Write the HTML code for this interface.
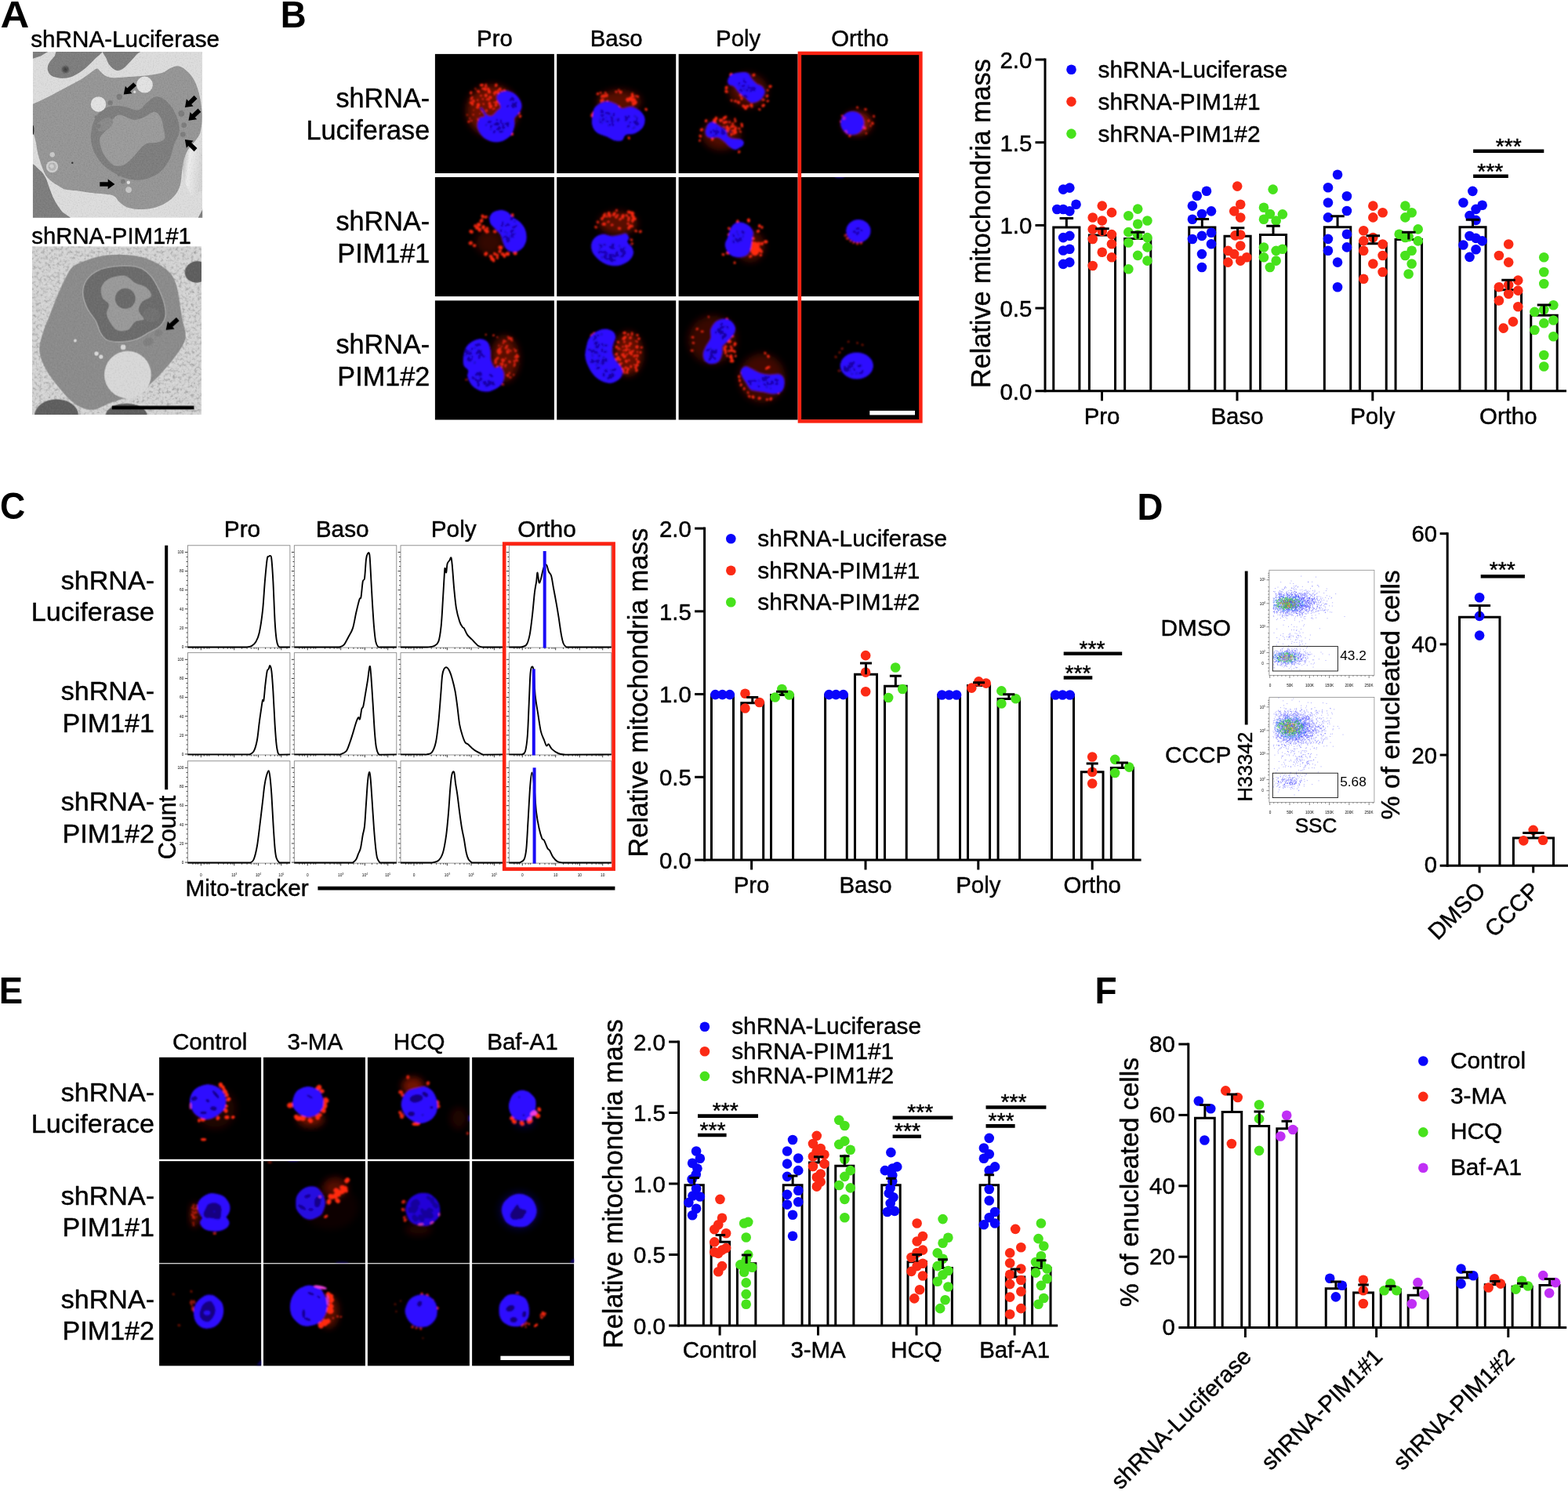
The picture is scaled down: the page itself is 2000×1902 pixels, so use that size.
<!DOCTYPE html>
<html lang="en"><head><meta charset="utf-8"><title>Figure</title>
<style>
html,body{margin:0;padding:0;background:#fff}
body{width:2000px;height:1902px;overflow:hidden}
svg{display:block}
text{font-family:"Liberation Sans", Arial, Helvetica, sans-serif;fill:#000;stroke:#000;stroke-width:0.45px;stroke-linejoin:round}
text.t{stroke:none}
</style></head><body>
<svg xmlns="http://www.w3.org/2000/svg" width="2000" height="1902" viewBox="0 0 2000 1902">
<defs>
<clipPath id="cA1"><rect x="98" y="50" width="1778" height="1740"/></clipPath>
<clipPath id="cA2"><rect x="80" y="215" width="1590" height="1580"/></clipPath>
<filter id="bA" x="-5%" y="-5%" width="110%" height="110%"><feGaussianBlur stdDeviation="5"/></filter>
<filter id="bA2" x="-20%" y="-20%" width="140%" height="140%"><feGaussianBlur stdDeviation="9"/></filter>
<filter id="grD" x="0" y="0" width="100%" height="100%"><feTurbulence type="fractalNoise" baseFrequency="0.07" numOctaves="2" seed="3"/><feColorMatrix type="matrix" values="0 0 0 0 0  0 0 0 0 0  0 0 0 0 0  1.2 0 0 0 -0.6"/></filter>
<filter id="grL" x="0" y="0" width="100%" height="100%"><feTurbulence type="fractalNoise" baseFrequency="0.07" numOctaves="2" seed="3"/><feColorMatrix type="matrix" values="0 0 0 0 1  0 0 0 0 1  0 0 0 0 1  -1.2 0 0 0 0.6"/></filter>
<filter id="grD2" x="0" y="0" width="100%" height="100%"><feTurbulence type="fractalNoise" baseFrequency="0.035" numOctaves="2" seed="11"/><feColorMatrix type="matrix" values="0 0 0 0 0  0 0 0 0 0  0 0 0 0 0  1.4 0 0 0 -0.7"/></filter>
<filter id="grL2" x="0" y="0" width="100%" height="100%"><feTurbulence type="fractalNoise" baseFrequency="0.035" numOctaves="2" seed="11"/><feColorMatrix type="matrix" values="0 0 0 0 1  0 0 0 0 1  0 0 0 0 1  -1.4 0 0 0 0.7"/></filter>
<radialGradient id="gSpot"><stop offset="0" stop-color="#3a3a3a"/><stop offset="0.5" stop-color="#5a5a5a"/><stop offset="1" stop-color="#8c8c8c" stop-opacity="0"/></radialGradient>
<linearGradient id="gStreak" x1="0" x2="1" y1="0" y2="0.25"><stop offset="0" stop-color="#b0b0b0"/><stop offset="0.4" stop-color="#ececec"/><stop offset="1" stop-color="#d4d4d4"/></linearGradient>
<filter id="bM" x="-10%" y="-10%" width="120%" height="120%"><feGaussianBlur stdDeviation="5"/></filter>
<filter id="bH" x="-50%" y="-50%" width="200%" height="200%"><feGaussianBlur stdDeviation="30"/></filter>
<clipPath id="cB00"><rect x="554.9" y="68.9" width="152" height="152.1"/></clipPath>
<clipPath id="cB01"><rect x="710.2" y="68.9" width="152" height="152.1"/></clipPath>
<clipPath id="cB02"><rect x="865.6" y="68.9" width="152" height="152.1"/></clipPath>
<clipPath id="cB03"><rect x="1020.9" y="68.9" width="152" height="152.1"/></clipPath>
<clipPath id="cB10"><rect x="554.9" y="226" width="152" height="152.1"/></clipPath>
<clipPath id="cB11"><rect x="710.2" y="226" width="152" height="152.1"/></clipPath>
<clipPath id="cB12"><rect x="865.6" y="226" width="152" height="152.1"/></clipPath>
<clipPath id="cB13"><rect x="1020.9" y="226" width="152" height="152.1"/></clipPath>
<clipPath id="cB20"><rect x="554.9" y="383.4" width="152" height="152.1"/></clipPath>
<clipPath id="cB21"><rect x="710.2" y="383.4" width="152" height="152.1"/></clipPath>
<clipPath id="cB22"><rect x="865.6" y="383.4" width="152" height="152.1"/></clipPath>
<clipPath id="cB23"><rect x="1020.9" y="383.4" width="152" height="152.1"/></clipPath>
<clipPath id="cE00"><rect x="203.1" y="1348.8" width="130" height="130"/></clipPath>
<clipPath id="cE01"><rect x="335.95" y="1348.8" width="130" height="130"/></clipPath>
<clipPath id="cE02"><rect x="468.9" y="1348.8" width="130" height="130"/></clipPath>
<clipPath id="cE03"><rect x="602.1" y="1348.8" width="130" height="130"/></clipPath>
<clipPath id="cE10"><rect x="203.1" y="1481.2" width="130" height="130"/></clipPath>
<clipPath id="cE11"><rect x="335.95" y="1481.2" width="130" height="130"/></clipPath>
<clipPath id="cE12"><rect x="468.9" y="1481.2" width="130" height="130"/></clipPath>
<clipPath id="cE13"><rect x="602.1" y="1481.2" width="130" height="130"/></clipPath>
<clipPath id="cE20"><rect x="203.1" y="1612.3" width="130" height="130"/></clipPath>
<clipPath id="cE21"><rect x="335.95" y="1612.3" width="130" height="130"/></clipPath>
<clipPath id="cE22"><rect x="468.9" y="1612.3" width="130" height="130"/></clipPath>
<clipPath id="cE23"><rect x="602.1" y="1612.3" width="130" height="130"/></clipPath>
<filter id="bE" x="-10%" y="-10%" width="120%" height="120%"><feGaussianBlur stdDeviation="6.5"/></filter>
</defs>
<rect width="2000" height="1902" fill="#fff"/>
<g id="pA">
<text class="t" transform="translate(0.4,34.5) scale(1.05,1)" font-size="48.5" font-weight="bold">A</text>
<text x="39.2" y="60.3" font-size="29.7">shRNA-Luciferase</text>
<text x="40.3" y="310.6" font-size="29.3">shRNA-PIM1#1</text>
<g transform="translate(30,60) scale(0.12165)" clip-path="url(#cA1)">
<rect x="98" y="50" width="1778" height="1740" fill="#dcdcdc"/>
<g filter="url(#bA)">
<path d="M1660 1130 L1760 1060 L1876 1060 L1876 1500 L1760 1560 L1680 1400Z" fill="url(#gStreak)"/>
<path d="M60 20 L305 20 L180 95 L60 135Z" fill="#7e7e7e"/>
<path d="M400 20C317.83 33.33 345 73.67 322 100C299 126.33 273.17 153.83 262 178C250.83 202.17 250 224.67 255 245C260 265.33 270.33 286.5 292 300C313.67 313.5 352.17 323.17 385 326C417.83 328.83 455.83 326.33 489 317C522.17 307.67 554 289 584 270C614 251 642.17 226.67 669 203C695.83 179.33 720.67 158.5 745 128C769.33 97.5 872.5 38 815 20C757.5 2 482.17 6.67 400 20Z" fill="#7e7e7e"/>
<path d="M855 20C795.5 36.67 858.83 90 868 120C877.17 150 891.33 178.83 910 200C928.67 221.17 956.67 243.33 980 247C1003.33 250.67 1026.67 237.83 1050 222C1073.33 206.17 1097.5 175.67 1120 152C1142.5 128.33 1167.5 102 1185 80C1202.5 58 1280 30 1225 20C1170 10 914.5 3.33 855 20Z" fill="#7e7e7e"/>
<path d="M60 1262C78.33 1173.67 141.33 1272 170 1290C198.67 1308 215 1338.33 232 1370C249 1401.67 257 1441.67 272 1480C287 1518.33 300.67 1560 322 1600C343.33 1640 372 1683.33 400 1720C428 1756.67 546.67 1803.33 490 1820C433.33 1836.67 131.67 1913 60 1820C-11.67 1727 41.67 1350.33 60 1262Z" fill="#7e7e7e"/>
<path d="M1815 1820 L1890 1680 L1890 1820Z" fill="#7e7e7e"/>
<path d="M60 640C80 590.33 140 585 180 562C220 539 255 525.33 300 502C345 478.67 400 448.67 450 422C500 395.33 558.33 367 600 342C641.67 317 672 291.33 700 272C728 252.67 750.5 228.83 768 226C785.5 223.17 789.67 242.33 805 255C820.33 267.67 835.83 290.83 860 302C884.17 313.17 910 320.33 950 322C990 323.67 1041.67 316.17 1100 312C1158.33 307.83 1241.67 303.67 1300 297C1358.33 290.33 1410 284.5 1450 272C1490 259.5 1511.67 234 1540 222C1568.33 210 1593.33 197 1620 200C1646.67 203 1673.33 218.33 1700 240C1726.67 261.67 1758.33 295 1780 330C1801.67 365 1816.33 405 1830 450C1843.67 495 1855 550 1862 600C1869 650 1873.67 700 1872 750C1870.33 800 1864 860.83 1852 900C1840 939.17 1821.67 955 1800 985C1778.33 1015 1741.67 1047.5 1722 1080C1702.33 1112.5 1692 1143.33 1682 1180C1672 1216.67 1668.67 1255 1662 1300C1655.33 1345 1655.33 1406.67 1642 1450C1628.67 1493.33 1608.67 1528.33 1582 1560C1555.33 1591.67 1520.33 1618.33 1482 1640C1443.67 1661.67 1399 1679.67 1352 1690C1305 1700.33 1245 1703.67 1200 1702C1155 1700.33 1115 1693.33 1082 1680C1049 1666.67 1024 1641.67 1002 1622C980 1602.33 975.33 1575.33 950 1562C924.67 1548.67 885 1546.83 850 1542C815 1537.17 792 1539.17 740 1533C688 1526.83 589.33 1512 538 1505C486.67 1498 461.33 1499.67 432 1491C402.67 1482.33 385.17 1467 362 1453C338.83 1439 313.33 1423.33 293 1407C272.67 1390.67 255.83 1378.33 240 1355C224.17 1331.67 210.83 1299.33 198 1267C185.17 1234.67 171.83 1190.17 163 1161C154.17 1131.83 151 1121.17 145 1092C139 1062.83 134.5 1018 127 986C119.5 954 111.17 921 100 900C88.83 879 66.67 903.33 60 860C53.33 816.67 40 689.67 60 640Z" fill="#969696"/>
<path d="M742 770C756.17 740 773.67 704.17 800 680C826.33 655.83 858.33 634.67 900 625C941.67 615.33 1000 615.83 1050 622C1100 628.17 1160 668.17 1200 662C1240 655.83 1260 608.33 1290 585C1320 561.67 1350 528.67 1380 522C1410 515.33 1440 525.33 1470 545C1500 564.67 1535 602.5 1560 640C1585 677.5 1608 726.67 1620 770C1632 813.33 1638.67 858.33 1632 900C1625.33 941.67 1597 973.33 1580 1020C1563 1066.67 1556.67 1130 1530 1180C1503.33 1230 1466.67 1284.67 1420 1320C1373.33 1355.33 1306.67 1382.33 1250 1392C1193.33 1401.67 1130 1390 1080 1378C1030 1366 991.67 1344.67 950 1320C908.33 1295.33 864.17 1265 830 1230C795.83 1195 765.33 1151.67 745 1110C724.67 1068.33 713 1021.67 708 980C703 938.33 709.33 895 715 860C720.67 825 727.83 800 742 770Z" fill="#7e7e7e"/>
<path d="M935 760C952.5 740.33 974.17 711.67 1010 712C1045.83 712.33 1110 757 1150 762C1190 767 1213.33 755.67 1250 742C1286.67 728.33 1338.33 680.33 1370 680C1401.67 679.67 1423.67 711.67 1440 740C1456.33 768.33 1461.33 813.33 1468 850C1474.67 886.67 1491.33 935 1480 960C1468.67 985 1430 991.67 1400 1000C1370 1008.33 1328.33 1000 1300 1010C1271.67 1020 1255 1036.33 1230 1060C1205 1083.67 1178.33 1123.67 1150 1152C1121.67 1180.33 1091.67 1214.5 1060 1230C1028.33 1245.5 990 1253.33 960 1245C930 1236.67 903.33 1207.5 880 1180C856.67 1152.5 833.33 1116.67 820 1080C806.67 1043.33 795 991.67 800 960C805 928.33 832.5 911.67 850 890C867.5 868.33 890.83 851.67 905 830C919.17 808.33 917.5 779.67 935 760Z" fill="#9b9b9b"/>
<path d="M760 820C766.67 800 806.67 773.33 830 760C853.33 746.67 881.67 736.67 900 740C918.33 743.33 938.33 763.33 940 780C941.67 796.67 925 823.33 910 840C895 856.67 870 873.33 850 880C830 886.67 805 890 790 880C775 870 753.33 840 760 820Z" fill="#8a8a8a"/>
<circle cx="785" cy="600" r="80" fill="#e2e2e2"/>
<circle cx="1270" cy="395" r="86" fill="#e2e2e2"/>
<circle cx="300" cy="1255" r="62" fill="#cfcfcf"/>
<circle cx="300" cy="1255" r="42" fill="#b4b4b4"/>
<circle cx="296" cy="1250" r="22" fill="#d0d0d0"/>
<circle cx="302" cy="1128" r="26" fill="#c8c8c8"/>
<circle cx="1100" cy="1420" r="18" fill="#e0e0e0"/>
<circle cx="1102" cy="1497" r="32" fill="#c6c6c6"/>
<circle cx="1165" cy="470" r="14" fill="#dcdcdc"/>
<circle cx="1005" cy="522" r="30" fill="#7c7c7c"/>
<circle cx="910" cy="585" r="26" fill="#7c7c7c"/>
<circle cx="1655" cy="697" r="32" fill="#7c7c7c"/>
<circle cx="1682" cy="820" r="27" fill="#7c7c7c"/>
<circle cx="1672" cy="917" r="27" fill="#7c7c7c"/>
<circle cx="1042" cy="1410" r="24" fill="#7c7c7c"/>
<circle cx="760" cy="735" r="16" fill="#7c7c7c"/>
<circle cx="1590" cy="805" r="22" fill="#7c7c7c"/>
<circle cx="1500" cy="1105" r="20" fill="#7c7c7c"/>
<circle cx="1000" cy="1340" r="16" fill="#7c7c7c"/>
<circle cx="785" cy="830" r="24" fill="#7c7c7c"/>
<circle cx="440" cy="235" r="62" fill="url(#gSpot)"/>
<ellipse cx="100" cy="870" rx="10" ry="50" fill="#222"/>
<circle cx="512" cy="1215" r="10" fill="#333"/>
</g>
<rect x="98" y="50" width="1778" height="1740" fill="#000" filter="url(#grD)" opacity="0.16"/>
<rect x="98" y="50" width="1778" height="1740" fill="#000" filter="url(#grL)" opacity="0.16"/>
<polygon points="1152.39,371.11 1087.28,431.25 1067.6,409.95 1050,497 1138.17,486.34 1118.5,465.04 1183.61,404.89" fill="#000"/>
<polygon points="1789.03,508.44 1728.86,566.47 1708.73,545.59 1693,633 1780.92,620.45 1760.79,599.58 1820.97,541.56" fill="#000"/>
<polygon points="1829.33,646.16 1767.04,704.12 1747.29,682.88 1730,770 1818.13,759.02 1798.38,737.79 1860.67,679.84" fill="#000"/>
<polygon points="1820.89,1061.37 1759.94,1003.12 1779.98,982.16 1692,970 1708.12,1057.34 1728.16,1036.37 1789.11,1094.63" fill="#000"/>
<polygon points="800,1461 885,1461 885,1490 957,1438 885,1386 885,1415 800,1415" fill="#000"/>
</g>
<g transform="translate(30,285) scale(0.13591)" clip-path="url(#cA2)">
<rect x="80" y="215" width="1590" height="1580" fill="#d3d3d3"/>
<rect x="80" y="215" width="1590" height="1580" fill="#000" filter="url(#grD2)" opacity="0.4"/>
<rect x="80" y="215" width="1590" height="1580" fill="#000" filter="url(#grL2)" opacity="0.4"/>
<g filter="url(#bA)">
<ellipse cx="1625" cy="455" rx="112" ry="100" fill="#5e5e5e" transform="rotate(-10 1625 455)"/>
<ellipse cx="310" cy="1800" rx="205" ry="150" fill="#5e5e5e"/>
<ellipse cx="965" cy="1805" rx="195" ry="115" fill="#5e5e5e"/>
<path d="M870 292C911.67 291.33 958.33 293.33 1000 298C1041.67 302.67 1078.33 307.67 1120 320C1161.67 332.33 1206.67 347 1250 372C1293.33 397 1348.33 432 1380 470C1411.67 508 1425.33 551.67 1440 600C1454.67 648.33 1459.67 710 1468 760C1476.33 810 1481 851.67 1490 900C1499 948.33 1522 1008.33 1522 1050C1522 1091.67 1510.33 1111.67 1490 1150C1469.67 1188.33 1440 1230 1400 1280C1360 1330 1300 1400 1250 1450C1200 1500 1150 1548.33 1100 1580C1050 1611.67 1000 1621.67 950 1640C900 1658.33 848.33 1672 800 1690C751.67 1708 702.5 1741.67 660 1748C617.5 1754.33 583.33 1744.33 545 1728C506.67 1711.67 470.83 1688 430 1650C389.17 1612 338.33 1550 300 1500C261.67 1450 225 1400 200 1350C175 1300 154.17 1250 150 1200C145.83 1150 158.33 1108.33 175 1050C191.67 991.67 224.17 916.67 250 850C275.83 783.33 305 708.33 330 650C355 591.67 376.67 541.67 400 500C423.33 458.33 436.67 426.33 470 400C503.33 373.67 553.33 358.33 600 342C646.67 325.67 705 310.33 750 302C795 293.67 828.33 292.67 870 292Z" fill="#8c8c8c"/>
<path d="M960 398C1016.67 398 1060 403 1100 420C1140 437 1171.67 466.67 1200 500C1228.33 533.33 1250 578.33 1270 620C1290 661.67 1309.67 708.33 1320 750C1330.33 791.67 1337.83 835 1332 870C1326.17 905 1310.33 934.67 1285 960C1259.67 985.33 1219.17 1000.33 1180 1022C1140.83 1043.67 1096.67 1075 1050 1090C1003.33 1105 945 1111.67 900 1112C855 1112.33 810 1107 780 1092C750 1077 736.67 1050.67 720 1022C703.33 993.33 700 957 680 920C660 883 620 840 600 800C580 760 564.67 718.33 560 680C555.33 641.67 558.67 603.33 572 570C585.33 536.67 608.67 505 640 480C671.33 455 706.67 433.67 760 420C813.33 406.33 903.33 398 960 398Z" fill="#6c6c6c" stroke="#b4b4b4" stroke-width="8"/>
<path d="M800 520C836.67 502 908.33 485.33 950 492C991.67 498.67 1016.67 542 1050 560C1083.33 578 1125 580 1150 600C1175 620 1206.67 656.67 1200 680C1193.33 703.33 1129.67 716.67 1110 740C1090.33 763.33 1078.67 793.33 1082 820C1085.33 846.67 1135.33 883 1130 900C1124.67 917 1075 905.33 1050 922C1025 938.67 1008.33 986.67 980 1000C951.67 1013.33 906.67 1012 880 1002C853.33 992 836.67 965.33 820 940C803.33 914.67 783.33 880 780 850C776.67 820 806.33 785 800 760C793.67 735 753.67 726.67 742 700C730.33 673.33 720.33 630 730 600C739.67 570 763.33 538 800 520Z" fill="#9a9a9a"/>
<circle cx="955" cy="705" r="95" fill="#6a6a6a"/>
<ellipse cx="1200" cy="860" rx="80" ry="70" fill="#727272"/>
<ellipse cx="978" cy="1420" rx="220" ry="222" fill="#d8d8d8"/>
<circle cx="485" cy="1100" r="15" fill="#d8d8d8"/>
<circle cx="935" cy="1162" r="24" fill="#d8d8d8"/>
<circle cx="685" cy="1222" r="20" fill="#d8d8d8"/>
<circle cx="727" cy="1252" r="19" fill="#d8d8d8"/>
<ellipse cx="1170" cy="1110" rx="50" ry="38" fill="#808080" transform="rotate(-20 1170 1110)"/>
<ellipse cx="1265" cy="1030" rx="38" ry="30" fill="#828282" transform="rotate(-20 1265 1030)"/>
</g>
<rect x="80" y="215" width="1590" height="1580" fill="#000" filter="url(#grD)" opacity="0.16"/>
<rect x="80" y="215" width="1590" height="1580" fill="#000" filter="url(#grL)" opacity="0.16"/>
<polygon points="1433.86,882.47 1370.66,940.03 1352.48,920.07 1336,1000 1417.12,991.05 1398.94,971.09 1462.14,913.53" fill="#000"/>
<rect x="830" y="1712" width="770" height="34" fill="#000"/>
</g>
</g>
<g id="pB">
<text class="t" transform="translate(357.7,34.7) scale(0.95,1)" font-size="48" font-weight="bold">B</text>
<rect x="554.9" y="68.9" width="152" height="152.1" fill="#000"/>
<rect x="710.2" y="68.9" width="152" height="152.1" fill="#000"/>
<rect x="865.6" y="68.9" width="152" height="152.1" fill="#000"/>
<rect x="1020.9" y="68.9" width="152" height="152.1" fill="#000"/>
<rect x="554.9" y="226" width="152" height="152.1" fill="#000"/>
<rect x="710.2" y="226" width="152" height="152.1" fill="#000"/>
<rect x="865.6" y="226" width="152" height="152.1" fill="#000"/>
<rect x="1020.9" y="226" width="152" height="152.1" fill="#000"/>
<rect x="554.9" y="383.4" width="152" height="152.1" fill="#000"/>
<rect x="710.2" y="383.4" width="152" height="152.1" fill="#000"/>
<rect x="865.6" y="383.4" width="152" height="152.1" fill="#000"/>
<rect x="1020.9" y="383.4" width="152" height="152.1" fill="#000"/>
<g clip-path="url(#cB00)"><g transform="translate(550,60) scale(0.16218)" filter="url(#bM)"><ellipse cx="480" cy="500" rx="200" ry="200" fill="#ff2a10" opacity="0.42" filter="url(#bH)"/><g fill="#ff2a10" opacity="0.95"><ellipse cx="332" cy="424" rx="13.3" ry="10.8" transform="rotate(83 332 424)"/><ellipse cx="325" cy="395" rx="8.2" ry="6.6" transform="rotate(92 325 395)"/><ellipse cx="348" cy="328" rx="7.5" ry="6.1" transform="rotate(54 348 328)"/><ellipse cx="553" cy="453" rx="11.7" ry="9.5" transform="rotate(7 553 453)"/><ellipse cx="586" cy="387" rx="11.4" ry="9.3" transform="rotate(110 586 387)"/><ellipse cx="450" cy="411" rx="10.5" ry="8.6" transform="rotate(10 450 411)"/><ellipse cx="467" cy="450" rx="7.1" ry="5.8" transform="rotate(83 467 450)"/><ellipse cx="311" cy="436" rx="10.5" ry="8.5" transform="rotate(115 311 436)"/><ellipse cx="317" cy="400" rx="10.1" ry="8.2" transform="rotate(50 317 400)"/><ellipse cx="589" cy="398" rx="12.7" ry="10.3" transform="rotate(127 589 398)"/><ellipse cx="411" cy="448" rx="8.9" ry="7.2" transform="rotate(12 411 448)"/><ellipse cx="449" cy="330" rx="12.7" ry="10.3" transform="rotate(69 449 330)"/><ellipse cx="573" cy="373" rx="6.9" ry="5.6" transform="rotate(37 573 373)"/><ellipse cx="526" cy="359" rx="13.7" ry="11.1" transform="rotate(71 526 359)"/><ellipse cx="546" cy="438" rx="12.3" ry="10.0" transform="rotate(48 546 438)"/><ellipse cx="513" cy="433" rx="13.6" ry="11.0" transform="rotate(136 513 433)"/><ellipse cx="494" cy="436" rx="7.6" ry="6.2" transform="rotate(10 494 436)"/><ellipse cx="458" cy="355" rx="10.8" ry="8.7" transform="rotate(80 458 355)"/><ellipse cx="486" cy="487" rx="7.8" ry="6.3" transform="rotate(115 486 487)"/><ellipse cx="512" cy="447" rx="8.4" ry="6.8" transform="rotate(48 512 447)"/><ellipse cx="572" cy="382" rx="9.0" ry="7.3" transform="rotate(159 572 382)"/><ellipse cx="463" cy="466" rx="12.8" ry="10.4" transform="rotate(115 463 466)"/><ellipse cx="560" cy="464" rx="8.4" ry="6.8" transform="rotate(46 560 464)"/><ellipse cx="452" cy="337" rx="8.9" ry="7.3" transform="rotate(13 452 337)"/><ellipse cx="536" cy="445" rx="8.6" ry="7.0" transform="rotate(108 536 445)"/><ellipse cx="370" cy="453" rx="13.5" ry="11.0" transform="rotate(87 370 453)"/><ellipse cx="315" cy="353" rx="8.2" ry="6.6" transform="rotate(27 315 353)"/><ellipse cx="553" cy="345" rx="8.6" ry="7.0" transform="rotate(34 553 345)"/><ellipse cx="430" cy="293" rx="8.3" ry="6.7" transform="rotate(171 430 293)"/><ellipse cx="526" cy="342" rx="9.8" ry="8.0" transform="rotate(18 526 342)"/><ellipse cx="582" cy="425" rx="8.5" ry="6.9" transform="rotate(126 582 425)"/><ellipse cx="434" cy="499" rx="11.0" ry="8.9" transform="rotate(52 434 499)"/><ellipse cx="497" cy="483" rx="7.4" ry="6.0" transform="rotate(41 497 483)"/><ellipse cx="311" cy="362" rx="11.1" ry="9.0" transform="rotate(50 311 362)"/><ellipse cx="498" cy="375" rx="7.0" ry="5.7" transform="rotate(48 498 375)"/><ellipse cx="405" cy="409" rx="8.1" ry="6.6" transform="rotate(66 405 409)"/><ellipse cx="391" cy="382" rx="9.4" ry="7.6" transform="rotate(160 391 382)"/><ellipse cx="560" cy="389" rx="11.7" ry="9.5" transform="rotate(105 560 389)"/><ellipse cx="457" cy="415" rx="7.0" ry="5.7" transform="rotate(163 457 415)"/><ellipse cx="395" cy="297" rx="7.0" ry="5.7" transform="rotate(114 395 297)"/><ellipse cx="312" cy="410" rx="9.1" ry="7.4" transform="rotate(179 312 410)"/><ellipse cx="538" cy="437" rx="12.0" ry="9.7" transform="rotate(162 538 437)"/><ellipse cx="429" cy="308" rx="12.4" ry="10.0" transform="rotate(164 429 308)"/><ellipse cx="365" cy="473" rx="13.1" ry="10.6" transform="rotate(156 365 473)"/><ellipse cx="324" cy="448" rx="12.9" ry="10.4" transform="rotate(103 324 448)"/><ellipse cx="374" cy="351" rx="10.9" ry="8.9" transform="rotate(109 374 351)"/><ellipse cx="545" cy="442" rx="13.8" ry="11.2" transform="rotate(158 545 442)"/><ellipse cx="427" cy="332" rx="12.0" ry="9.7" transform="rotate(104 427 332)"/><ellipse cx="312" cy="436" rx="7.5" ry="6.1" transform="rotate(135 312 436)"/><ellipse cx="554" cy="415" rx="10.2" ry="8.3" transform="rotate(41 554 415)"/><ellipse cx="406" cy="326" rx="11.1" ry="9.0" transform="rotate(165 406 326)"/><ellipse cx="439" cy="411" rx="9.0" ry="7.3" transform="rotate(122 439 411)"/><ellipse cx="458" cy="443" rx="13.1" ry="10.7" transform="rotate(118 458 443)"/><ellipse cx="307" cy="437" rx="9.2" ry="7.4" transform="rotate(119 307 437)"/><ellipse cx="471" cy="468" rx="12.5" ry="10.1" transform="rotate(164 471 468)"/><ellipse cx="507" cy="353" rx="10.9" ry="8.9" transform="rotate(56 507 353)"/><ellipse cx="509" cy="458" rx="12.7" ry="10.3" transform="rotate(152 509 458)"/><ellipse cx="404" cy="295" rx="8.8" ry="7.1" transform="rotate(30 404 295)"/><ellipse cx="365" cy="417" rx="8.4" ry="6.8" transform="rotate(74 365 417)"/><ellipse cx="365" cy="345" rx="9.1" ry="7.4" transform="rotate(151 365 345)"/></g><g fill="#ff2a10" opacity="0.7"><ellipse cx="283" cy="534" rx="8.8" ry="7.1" transform="rotate(25 283 534)"/><ellipse cx="382" cy="524" rx="7.0" ry="5.7" transform="rotate(145 382 524)"/><ellipse cx="320" cy="440" rx="8.3" ry="6.7" transform="rotate(119 320 440)"/><ellipse cx="368" cy="577" rx="6.5" ry="5.3" transform="rotate(163 368 577)"/><ellipse cx="399" cy="555" rx="6.1" ry="4.9" transform="rotate(123 399 555)"/><ellipse cx="316" cy="579" rx="9.6" ry="7.8" transform="rotate(3 316 579)"/><ellipse cx="402" cy="559" rx="8.1" ry="6.6" transform="rotate(16 402 559)"/><ellipse cx="407" cy="511" rx="6.3" ry="5.1" transform="rotate(76 407 511)"/><ellipse cx="365" cy="566" rx="8.6" ry="7.0" transform="rotate(29 365 566)"/><ellipse cx="334" cy="496" rx="6.5" ry="5.3" transform="rotate(146 334 496)"/><ellipse cx="303" cy="561" rx="8.5" ry="6.9" transform="rotate(85 303 561)"/><ellipse cx="330" cy="532" rx="9.1" ry="7.4" transform="rotate(174 330 532)"/><ellipse cx="396" cy="506" rx="7.4" ry="6.0" transform="rotate(65 396 506)"/><ellipse cx="318" cy="436" rx="6.3" ry="5.1" transform="rotate(42 318 436)"/></g><g fill="#ff2a10"><ellipse cx="690" cy="520" rx="11.3" ry="9.2" transform="rotate(97 690 520)"/><ellipse cx="700" cy="545" rx="12.0" ry="9.7" transform="rotate(108 700 545)"/><ellipse cx="635" cy="685" rx="13.3" ry="10.8" transform="rotate(11 635 685)"/><ellipse cx="295" cy="587" rx="10.2" ry="8.3" transform="rotate(150 295 587)"/><ellipse cx="420" cy="330" rx="11.4" ry="9.3" transform="rotate(42 420 330)"/><ellipse cx="455" cy="350" rx="15.2" ry="12.3" transform="rotate(84 455 350)"/><ellipse cx="430" cy="380" rx="14.4" ry="11.6" transform="rotate(85 430 380)"/><ellipse cx="465" cy="395" rx="13.4" ry="10.8" transform="rotate(27 465 395)"/><ellipse cx="500" cy="360" rx="13.3" ry="10.8" transform="rotate(156 500 360)"/><ellipse cx="540" cy="330" rx="12.8" ry="10.4" transform="rotate(133 540 330)"/><ellipse cx="395" cy="300" rx="13.5" ry="11.0" transform="rotate(11 395 300)"/><ellipse cx="510" cy="300" rx="14.0" ry="11.3" transform="rotate(106 510 300)"/><ellipse cx="575" cy="340" rx="11.6" ry="9.4" transform="rotate(5 575 340)"/><ellipse cx="465" cy="470" rx="14.5" ry="11.8" transform="rotate(85 465 470)"/><ellipse cx="370" cy="455" rx="13.8" ry="11.2" transform="rotate(158 370 455)"/></g><path d="M515 400C514.17 381.67 525.83 369.17 540 360C554.17 350.83 580 343.33 600 345C620 346.67 643.33 357.5 660 370C676.67 382.5 691.33 403.33 700 420C708.67 436.67 713.67 453.33 712 470C710.33 486.67 699.5 505 690 520C680.5 535 660.83 543.33 655 560C649.17 576.67 659.17 598.33 655 620C650.83 641.67 644.17 670.83 630 690C615.83 709.17 591.67 725.33 570 735C548.33 744.67 523.33 749.67 500 748C476.67 746.33 449.17 736.33 430 725C410.83 713.67 396.33 697.5 385 680C373.67 662.5 362.83 640 362 620C361.17 600 370.33 572.5 380 560C389.67 547.5 416.67 555 420 545C423.33 535 405.83 510 400 500C394.17 490 385 488 385 485C385 482 390.83 473.67 400 482C409.17 490.33 426.67 525.33 440 535C453.33 544.67 466.67 545.83 480 540C493.33 534.17 509.17 511.67 520 500C530.83 488.33 545.83 486.67 545 470C544.17 453.33 515.83 418.33 515 400Z" fill="#2d0cff"/><g fill="#12007a" opacity="0.8"><ellipse cx="458" cy="589" rx="17.0" ry="9.3" transform="rotate(169 458 589)"/><ellipse cx="513" cy="572" rx="7.8" ry="4.3" transform="rotate(83 513 572)"/><ellipse cx="595" cy="605" rx="18.3" ry="10.0" transform="rotate(20 595 605)"/><ellipse cx="471" cy="624" rx="14.0" ry="7.6" transform="rotate(103 471 624)"/><ellipse cx="566" cy="621" rx="10.9" ry="5.9" transform="rotate(164 566 621)"/><ellipse cx="523" cy="600" rx="17.1" ry="9.3" transform="rotate(24 523 600)"/><ellipse cx="493" cy="608" rx="7.5" ry="4.1" transform="rotate(156 493 608)"/><ellipse cx="531" cy="642" rx="19.3" ry="10.5" transform="rotate(157 531 642)"/><ellipse cx="496" cy="667" rx="14.0" ry="7.6" transform="rotate(122 496 667)"/><ellipse cx="547" cy="666" rx="15.8" ry="8.6" transform="rotate(173 547 666)"/><ellipse cx="562" cy="603" rx="11.8" ry="6.4" transform="rotate(29 562 603)"/><ellipse cx="535" cy="630" rx="11.1" ry="6.1" transform="rotate(108 535 630)"/><ellipse cx="602" cy="620" rx="11.6" ry="6.3" transform="rotate(55 602 620)"/><ellipse cx="548" cy="588" rx="11.3" ry="6.1" transform="rotate(86 548 588)"/><ellipse cx="513" cy="608" rx="19.2" ry="10.5" transform="rotate(4 513 608)"/><ellipse cx="519" cy="574" rx="7.7" ry="4.2" transform="rotate(141 519 574)"/><ellipse cx="469" cy="648" rx="7.6" ry="4.1" transform="rotate(8 469 648)"/><ellipse cx="561" cy="664" rx="9.9" ry="5.4" transform="rotate(136 561 664)"/><ellipse cx="607" cy="599" rx="11.6" ry="6.3" transform="rotate(63 607 599)"/><ellipse cx="432" cy="613" rx="8.8" ry="4.8" transform="rotate(134 432 613)"/><ellipse cx="547" cy="575" rx="7.9" ry="4.3" transform="rotate(170 547 575)"/><ellipse cx="569" cy="635" rx="14.8" ry="8.1" transform="rotate(165 569 635)"/></g><g fill="#12007a" opacity="0.8"><ellipse cx="640" cy="405" rx="13.3" ry="7.3" transform="rotate(47 640 405)"/><ellipse cx="666" cy="440" rx="13.1" ry="7.2" transform="rotate(136 666 440)"/><ellipse cx="602" cy="465" rx="10.8" ry="5.9" transform="rotate(144 602 465)"/><ellipse cx="626" cy="414" rx="14.0" ry="7.6" transform="rotate(122 626 414)"/><ellipse cx="641" cy="467" rx="17.2" ry="9.3" transform="rotate(47 641 467)"/><ellipse cx="642" cy="408" rx="17.6" ry="9.6" transform="rotate(60 642 408)"/><ellipse cx="663" cy="459" rx="17.2" ry="9.3" transform="rotate(80 663 459)"/><ellipse cx="646" cy="449" rx="15.1" ry="8.2" transform="rotate(52 646 449)"/></g></g></g>
<g clip-path="url(#cB01)"><g transform="translate(550,60) scale(0.16218)" filter="url(#bM)"><ellipse cx="1480" cy="430" rx="170" ry="90" fill="#ff2a10" opacity="0.35" filter="url(#bH)"/><g fill="#ff2a10"><ellipse cx="1603" cy="442" rx="12.4" ry="10.1" transform="rotate(86 1603 442)"/><ellipse cx="1590" cy="449" rx="13.6" ry="11.0" transform="rotate(92 1590 449)"/><ellipse cx="1553" cy="409" rx="8.1" ry="6.5" transform="rotate(66 1553 409)"/><ellipse cx="1567" cy="403" rx="13.5" ry="11.0" transform="rotate(41 1567 403)"/><ellipse cx="1581" cy="419" rx="14.9" ry="12.1" transform="rotate(132 1581 419)"/><ellipse cx="1610" cy="385" rx="8.3" ry="6.7" transform="rotate(59 1610 385)"/><ellipse cx="1561" cy="410" rx="14.6" ry="11.9" transform="rotate(66 1561 410)"/><ellipse cx="1608" cy="443" rx="8.9" ry="7.2" transform="rotate(167 1608 443)"/><ellipse cx="1540" cy="419" rx="10.4" ry="8.4" transform="rotate(87 1540 419)"/><ellipse cx="1584" cy="417" rx="14.0" ry="11.4" transform="rotate(42 1584 417)"/><ellipse cx="1584" cy="389" rx="14.7" ry="11.9" transform="rotate(160 1584 389)"/><ellipse cx="1581" cy="370" rx="12.1" ry="9.8" transform="rotate(131 1581 370)"/><ellipse cx="1607" cy="431" rx="13.8" ry="11.2" transform="rotate(36 1607 431)"/><ellipse cx="1625" cy="390" rx="10.9" ry="8.8" transform="rotate(65 1625 390)"/><ellipse cx="1547" cy="418" rx="14.9" ry="12.1" transform="rotate(69 1547 418)"/><ellipse cx="1596" cy="412" rx="13.0" ry="10.5" transform="rotate(178 1596 412)"/><ellipse cx="1541" cy="410" rx="11.8" ry="9.6" transform="rotate(134 1541 410)"/><ellipse cx="1587" cy="444" rx="11.9" ry="9.6" transform="rotate(112 1587 444)"/></g><g fill="#ff2a10"><ellipse cx="1361" cy="394" rx="8.2" ry="6.6" transform="rotate(179 1361 394)"/><ellipse cx="1351" cy="417" rx="11.8" ry="9.6" transform="rotate(62 1351 417)"/><ellipse cx="1361" cy="383" rx="13.6" ry="11.0" transform="rotate(57 1361 383)"/><ellipse cx="1310" cy="368" rx="12.0" ry="9.7" transform="rotate(166 1310 368)"/><ellipse cx="1342" cy="388" rx="13.1" ry="10.6" transform="rotate(106 1342 388)"/><ellipse cx="1337" cy="422" rx="12.9" ry="10.5" transform="rotate(104 1337 422)"/><ellipse cx="1381" cy="381" rx="13.6" ry="11.0" transform="rotate(101 1381 381)"/><ellipse cx="1333" cy="359" rx="9.5" ry="7.7" transform="rotate(172 1333 359)"/></g><g fill="#ff2a10"><ellipse cx="1370" cy="360" rx="10.3" ry="8.3" transform="rotate(18 1370 360)"/><ellipse cx="1455" cy="352" rx="11.0" ry="8.9" transform="rotate(27 1455 352)"/><ellipse cx="1475" cy="340" rx="9.5" ry="7.7" transform="rotate(72 1475 340)"/><ellipse cx="1490" cy="355" rx="13.4" ry="10.9" transform="rotate(144 1490 355)"/><ellipse cx="1690" cy="490" rx="12.7" ry="10.3" transform="rotate(39 1690 490)"/><ellipse cx="1555" cy="715" rx="11.7" ry="9.5" transform="rotate(49 1555 715)"/><ellipse cx="1480" cy="468" rx="10.0" ry="8.1" transform="rotate(19 1480 468)"/><ellipse cx="1385" cy="425" rx="10.2" ry="8.3" transform="rotate(166 1385 425)"/></g><g fill="#ff2a10"><ellipse cx="1282" cy="529" rx="12.2" ry="9.9" transform="rotate(15 1282 529)"/><ellipse cx="1265" cy="532" rx="10.5" ry="8.5" transform="rotate(23 1265 532)"/><ellipse cx="1274" cy="566" rx="9.1" ry="7.4" transform="rotate(81 1274 566)"/><ellipse cx="1275" cy="546" rx="11.3" ry="9.2" transform="rotate(75 1275 546)"/><ellipse cx="1261" cy="542" rx="9.7" ry="7.9" transform="rotate(10 1261 542)"/><ellipse cx="1273" cy="518" rx="11.1" ry="9.0" transform="rotate(111 1273 518)"/></g><path d="M1290 470C1306.67 453 1343.33 431.83 1370 428C1396.67 424.17 1428.33 438 1450 447C1471.67 456 1480 478.17 1500 482C1520 485.83 1546.67 467 1570 470C1593.33 473 1621.67 485 1640 500C1658.33 515 1675.83 538.33 1680 560C1684.17 581.67 1678.33 610 1665 630C1651.67 650 1622.5 669.67 1600 680C1577.5 690.33 1546.67 682.83 1530 692C1513.33 701.17 1515 727.83 1500 735C1485 742.17 1460 740 1440 735C1420 730 1403.33 715.83 1380 705C1356.67 694.17 1319.17 685.83 1300 670C1280.83 654.17 1270 633.33 1265 610C1260 586.67 1265.83 553.33 1270 530C1274.17 506.67 1273.33 487 1290 470Z" fill="#2d0cff"/><g fill="#12007a" opacity="0.6"><ellipse cx="1384" cy="584" rx="15.3" ry="8.3" transform="rotate(13 1384 584)"/><ellipse cx="1346" cy="550" rx="8.2" ry="4.5" transform="rotate(91 1346 550)"/><ellipse cx="1457" cy="570" rx="8.3" ry="4.5" transform="rotate(16 1457 570)"/><ellipse cx="1327" cy="589" rx="9.0" ry="4.9" transform="rotate(40 1327 589)"/><ellipse cx="1339" cy="511" rx="14.4" ry="7.9" transform="rotate(71 1339 511)"/><ellipse cx="1419" cy="557" rx="17.8" ry="9.7" transform="rotate(52 1419 557)"/><ellipse cx="1419" cy="578" rx="11.2" ry="6.1" transform="rotate(146 1419 578)"/><ellipse cx="1428" cy="608" rx="15.2" ry="8.3" transform="rotate(67 1428 608)"/><ellipse cx="1378" cy="554" rx="8.2" ry="4.5" transform="rotate(37 1378 554)"/><ellipse cx="1375" cy="518" rx="11.3" ry="6.1" transform="rotate(105 1375 518)"/><ellipse cx="1352" cy="571" rx="17.0" ry="9.3" transform="rotate(125 1352 571)"/><ellipse cx="1402" cy="613" rx="13.8" ry="7.5" transform="rotate(157 1402 613)"/><ellipse cx="1393" cy="522" rx="19.3" ry="10.5" transform="rotate(21 1393 522)"/><ellipse cx="1331" cy="589" rx="9.3" ry="5.1" transform="rotate(88 1331 589)"/><ellipse cx="1471" cy="573" rx="16.7" ry="9.1" transform="rotate(103 1471 573)"/><ellipse cx="1435" cy="532" rx="15.8" ry="8.6" transform="rotate(106 1435 532)"/><ellipse cx="1346" cy="537" rx="17.6" ry="9.6" transform="rotate(170 1346 537)"/><ellipse cx="1327" cy="569" rx="8.2" ry="4.5" transform="rotate(126 1327 569)"/><ellipse cx="1345" cy="504" rx="17.4" ry="9.5" transform="rotate(51 1345 504)"/><ellipse cx="1344" cy="597" rx="7.8" ry="4.2" transform="rotate(83 1344 597)"/><ellipse cx="1415" cy="580" rx="8.2" ry="4.5" transform="rotate(138 1415 580)"/><ellipse cx="1430" cy="585" rx="12.2" ry="6.6" transform="rotate(156 1430 585)"/></g><g fill="#12007a" opacity="0.7"><ellipse cx="1588" cy="638" rx="9.0" ry="4.9" transform="rotate(126 1588 638)"/><ellipse cx="1605" cy="595" rx="19.5" ry="10.6" transform="rotate(37 1605 595)"/><ellipse cx="1554" cy="548" rx="12.9" ry="7.0" transform="rotate(89 1554 548)"/><ellipse cx="1599" cy="631" rx="8.6" ry="4.7" transform="rotate(42 1599 631)"/><ellipse cx="1610" cy="583" rx="12.4" ry="6.7" transform="rotate(162 1610 583)"/><ellipse cx="1565" cy="593" rx="10.6" ry="5.8" transform="rotate(178 1565 593)"/><ellipse cx="1623" cy="598" rx="12.0" ry="6.5" transform="rotate(118 1623 598)"/><ellipse cx="1553" cy="622" rx="13.5" ry="7.3" transform="rotate(116 1553 622)"/><ellipse cx="1617" cy="553" rx="9.2" ry="5.0" transform="rotate(11 1617 553)"/><ellipse cx="1619" cy="566" rx="9.8" ry="5.3" transform="rotate(170 1619 566)"/><ellipse cx="1534" cy="555" rx="18.1" ry="9.8" transform="rotate(51 1534 555)"/><ellipse cx="1545" cy="624" rx="9.1" ry="5.0" transform="rotate(137 1545 624)"/><ellipse cx="1620" cy="608" rx="15.9" ry="8.7" transform="rotate(170 1620 608)"/><ellipse cx="1603" cy="544" rx="9.9" ry="5.4" transform="rotate(27 1603 544)"/><ellipse cx="1537" cy="572" rx="8.4" ry="4.5" transform="rotate(162 1537 572)"/><ellipse cx="1529" cy="577" rx="10.1" ry="5.5" transform="rotate(43 1529 577)"/></g></g></g>
<g clip-path="url(#cB02)"><g transform="translate(860,60) scale(0.16218)" filter="url(#bM)"><ellipse cx="580" cy="340" rx="150" ry="130" fill="#ff2a10" opacity="0.3" filter="url(#bH)"/><ellipse cx="370" cy="690" rx="150" ry="120" fill="#ff2a10" opacity="0.3" filter="url(#bH)"/><g fill="#ff2a10"><ellipse cx="445" cy="215" rx="13.3" ry="10.8" transform="rotate(133 445 215)"/><ellipse cx="625" cy="220" rx="14.1" ry="11.5" transform="rotate(169 625 220)"/><ellipse cx="755" cy="310" rx="13.9" ry="11.2" transform="rotate(166 755 310)"/><ellipse cx="735" cy="340" rx="10.3" ry="8.3" transform="rotate(83 735 340)"/><ellipse cx="410" cy="320" rx="14.9" ry="12.1" transform="rotate(116 410 320)"/><ellipse cx="410" cy="350" rx="14.7" ry="11.9" transform="rotate(20 410 350)"/><ellipse cx="520" cy="380" rx="12.5" ry="10.1" transform="rotate(44 520 380)"/><ellipse cx="530" cy="405" rx="12.9" ry="10.4" transform="rotate(103 530 405)"/><ellipse cx="450" cy="420" rx="10.2" ry="8.3" transform="rotate(39 450 420)"/><ellipse cx="480" cy="425" rx="11.5" ry="9.4" transform="rotate(164 480 425)"/><ellipse cx="505" cy="435" rx="14.0" ry="11.3" transform="rotate(28 505 435)"/><ellipse cx="545" cy="465" rx="14.2" ry="11.5" transform="rotate(24 545 465)"/><ellipse cx="575" cy="465" rx="13.2" ry="10.7" transform="rotate(22 575 465)"/><ellipse cx="610" cy="470" rx="10.1" ry="8.2" transform="rotate(156 610 470)"/><ellipse cx="670" cy="490" rx="11.2" ry="9.1" transform="rotate(38 670 490)"/><ellipse cx="700" cy="460" rx="15.1" ry="12.2" transform="rotate(157 700 460)"/><ellipse cx="700" cy="415" rx="11.6" ry="9.4" transform="rotate(173 700 415)"/><ellipse cx="730" cy="385" rx="12.8" ry="10.4" transform="rotate(122 730 385)"/><ellipse cx="735" cy="425" rx="11.2" ry="9.0" transform="rotate(169 735 425)"/><ellipse cx="605" cy="455" rx="13.6" ry="11.0" transform="rotate(173 605 455)"/><ellipse cx="560" cy="480" rx="14.6" ry="11.9" transform="rotate(53 560 480)"/></g><g fill="#ff2a10"><ellipse cx="450" cy="626" rx="11.5" ry="9.3" transform="rotate(123 450 626)"/><ellipse cx="432" cy="642" rx="10.5" ry="8.5" transform="rotate(136 432 642)"/><ellipse cx="477" cy="673" rx="13.0" ry="10.5" transform="rotate(24 477 673)"/><ellipse cx="302" cy="614" rx="11.6" ry="9.4" transform="rotate(179 302 614)"/><ellipse cx="417" cy="630" rx="14.6" ry="11.8" transform="rotate(72 417 630)"/><ellipse cx="427" cy="663" rx="11.3" ry="9.2" transform="rotate(171 427 663)"/><ellipse cx="417" cy="656" rx="12.6" ry="10.2" transform="rotate(98 417 656)"/><ellipse cx="531" cy="606" rx="11.2" ry="9.1" transform="rotate(36 531 606)"/><ellipse cx="477" cy="565" rx="9.4" ry="7.6" transform="rotate(132 477 565)"/><ellipse cx="481" cy="583" rx="10.5" ry="8.5" transform="rotate(143 481 583)"/><ellipse cx="391" cy="594" rx="12.9" ry="10.4" transform="rotate(39 391 594)"/><ellipse cx="484" cy="635" rx="11.1" ry="9.0" transform="rotate(71 484 635)"/><ellipse cx="317" cy="573" rx="14.7" ry="11.9" transform="rotate(175 317 573)"/><ellipse cx="533" cy="622" rx="11.0" ry="8.9" transform="rotate(31 533 622)"/><ellipse cx="321" cy="588" rx="13.1" ry="10.6" transform="rotate(16 321 588)"/><ellipse cx="450" cy="687" rx="12.7" ry="10.3" transform="rotate(125 450 687)"/><ellipse cx="478" cy="650" rx="14.4" ry="11.7" transform="rotate(116 478 650)"/><ellipse cx="466" cy="623" rx="11.8" ry="9.6" transform="rotate(144 466 623)"/><ellipse cx="274" cy="646" rx="12.4" ry="10.1" transform="rotate(21 274 646)"/><ellipse cx="520" cy="665" rx="9.9" ry="8.0" transform="rotate(34 520 665)"/><ellipse cx="335" cy="675" rx="14.1" ry="11.4" transform="rotate(85 335 675)"/><ellipse cx="266" cy="625" rx="10.8" ry="8.8" transform="rotate(67 266 625)"/><ellipse cx="309" cy="588" rx="9.4" ry="7.6" transform="rotate(20 309 588)"/><ellipse cx="482" cy="670" rx="13.2" ry="10.7" transform="rotate(175 482 670)"/><ellipse cx="408" cy="589" rx="13.6" ry="11.0" transform="rotate(177 408 589)"/><ellipse cx="390" cy="631" rx="11.4" ry="9.2" transform="rotate(50 390 631)"/><ellipse cx="414" cy="638" rx="9.9" ry="8.0" transform="rotate(155 414 638)"/><ellipse cx="511" cy="641" rx="10.4" ry="8.4" transform="rotate(34 511 641)"/><ellipse cx="435" cy="590" rx="10.3" ry="8.3" transform="rotate(81 435 590)"/><ellipse cx="363" cy="577" rx="14.1" ry="11.5" transform="rotate(72 363 577)"/><ellipse cx="274" cy="616" rx="11.9" ry="9.6" transform="rotate(129 274 616)"/><ellipse cx="346" cy="630" rx="9.9" ry="8.0" transform="rotate(140 346 630)"/><ellipse cx="395" cy="557" rx="13.2" ry="10.7" transform="rotate(104 395 557)"/><ellipse cx="469" cy="680" rx="9.9" ry="8.0" transform="rotate(76 469 680)"/><ellipse cx="458" cy="658" rx="11.0" ry="8.9" transform="rotate(76 458 658)"/><ellipse cx="373" cy="575" rx="10.6" ry="8.6" transform="rotate(140 373 575)"/><ellipse cx="387" cy="561" rx="9.4" ry="7.6" transform="rotate(110 387 561)"/><ellipse cx="460" cy="603" rx="10.4" ry="8.4" transform="rotate(146 460 603)"/></g><g fill="#ff2a10"><ellipse cx="215" cy="650" rx="14.1" ry="11.5" transform="rotate(147 215 650)"/><ellipse cx="205" cy="700" rx="12.6" ry="10.2" transform="rotate(47 205 700)"/><ellipse cx="200" cy="735" rx="10.1" ry="8.2" transform="rotate(119 200 735)"/><ellipse cx="300" cy="725" rx="12.5" ry="10.1" transform="rotate(136 300 725)"/><ellipse cx="510" cy="825" rx="12.0" ry="9.7" transform="rotate(138 510 825)"/><ellipse cx="405" cy="550" rx="11.5" ry="9.3" transform="rotate(144 405 550)"/><ellipse cx="330" cy="560" rx="13.8" ry="11.2" transform="rotate(74 330 560)"/><ellipse cx="250" cy="580" rx="12.8" ry="10.4" transform="rotate(122 250 580)"/></g><path d="M420 260C423.33 246.67 433.33 225 450 215C466.67 205 498.33 201.67 520 200C541.67 198.33 565 196.67 580 205C595 213.33 598.33 235.83 610 250C621.67 264.17 636.67 280 650 290C663.33 300 679.67 300 690 310C700.33 320 712 335 712 350C712 365 700.33 386.67 690 400C679.67 413.33 665 424.17 650 430C635 435.83 615 440 600 435C585 430 575 412.5 560 400C545 387.5 525 375 510 360C495 345 483.33 320.83 470 310C456.67 299.17 438.33 303.33 430 295C421.67 286.67 416.67 273.33 420 260Z" fill="#2d0cff"/><path d="M250 640C254.17 628.33 261.67 608.33 270 600C278.33 591.67 288.33 588.33 300 590C311.67 591.67 326.67 601.67 340 610C353.33 618.33 368.33 631.67 380 640C391.67 648.33 403.33 650 410 660C416.67 670 411.67 690 420 700C428.33 710 443.33 715.83 460 720C476.67 724.17 505.83 720.83 520 725C534.17 729.17 541.67 736.67 545 745C548.33 753.33 547.5 765.83 540 775C532.5 784.17 511.67 795 500 800C488.33 805 481.67 808.33 470 805C458.33 801.67 443.33 790.83 430 780C416.67 769.17 405 751.67 390 740C375 728.33 356.67 714.17 340 710C323.33 705.83 304.17 716.67 290 715C275.83 713.33 262.5 707.5 255 700C247.5 692.5 245.83 680 245 670C244.17 660 245.83 651.67 250 640Z" fill="#2d0cff"/><g fill="#12007a" opacity="0.6"><ellipse cx="522" cy="329" rx="9.2" ry="5.0" transform="rotate(155 522 329)"/><ellipse cx="626" cy="322" rx="18.3" ry="10.0" transform="rotate(14 626 322)"/><ellipse cx="510" cy="301" rx="8.0" ry="4.3" transform="rotate(68 510 301)"/><ellipse cx="554" cy="274" rx="16.2" ry="8.8" transform="rotate(28 554 274)"/><ellipse cx="572" cy="343" rx="13.6" ry="7.4" transform="rotate(166 572 343)"/><ellipse cx="510" cy="286" rx="12.1" ry="6.6" transform="rotate(134 510 286)"/><ellipse cx="604" cy="342" rx="15.6" ry="8.5" transform="rotate(130 604 342)"/><ellipse cx="549" cy="329" rx="10.7" ry="5.8" transform="rotate(37 549 329)"/><ellipse cx="555" cy="381" rx="9.9" ry="5.4" transform="rotate(159 555 381)"/><ellipse cx="583" cy="308" rx="12.0" ry="6.6" transform="rotate(88 583 308)"/><ellipse cx="621" cy="326" rx="18.4" ry="10.0" transform="rotate(20 621 326)"/><ellipse cx="547" cy="306" rx="14.4" ry="7.9" transform="rotate(161 547 306)"/><ellipse cx="572" cy="326" rx="8.5" ry="4.6" transform="rotate(97 572 326)"/><ellipse cx="593" cy="322" rx="13.5" ry="7.3" transform="rotate(165 593 322)"/><ellipse cx="525" cy="341" rx="15.2" ry="8.3" transform="rotate(16 525 341)"/><ellipse cx="540" cy="306" rx="14.8" ry="8.1" transform="rotate(172 540 306)"/><ellipse cx="626" cy="337" rx="14.8" ry="8.0" transform="rotate(26 626 337)"/><ellipse cx="560" cy="389" rx="19.5" ry="10.6" transform="rotate(21 560 389)"/><ellipse cx="548" cy="254" rx="10.3" ry="5.6" transform="rotate(110 548 254)"/><ellipse cx="616" cy="331" rx="15.6" ry="8.5" transform="rotate(106 616 331)"/></g><g fill="#12007a" opacity="0.6"><ellipse cx="312" cy="658" rx="14.4" ry="7.9" transform="rotate(37 312 658)"/><ellipse cx="388" cy="636" rx="15.3" ry="8.4" transform="rotate(28 388 636)"/><ellipse cx="314" cy="667" rx="10.5" ry="5.7" transform="rotate(171 314 667)"/><ellipse cx="376" cy="669" rx="17.8" ry="9.7" transform="rotate(108 376 669)"/><ellipse cx="328" cy="684" rx="15.6" ry="8.5" transform="rotate(82 328 684)"/><ellipse cx="334" cy="640" rx="9.1" ry="5.0" transform="rotate(138 334 640)"/><ellipse cx="438" cy="665" rx="14.9" ry="8.1" transform="rotate(7 438 665)"/><ellipse cx="389" cy="670" rx="18.8" ry="10.2" transform="rotate(54 389 670)"/><ellipse cx="309" cy="698" rx="11.3" ry="6.1" transform="rotate(98 309 698)"/><ellipse cx="341" cy="673" rx="14.5" ry="7.9" transform="rotate(151 341 673)"/><ellipse cx="381" cy="685" rx="12.5" ry="6.8" transform="rotate(6 381 685)"/><ellipse cx="287" cy="670" rx="15.4" ry="8.4" transform="rotate(96 287 670)"/><ellipse cx="378" cy="657" rx="14.3" ry="7.8" transform="rotate(67 378 657)"/><ellipse cx="338" cy="662" rx="16.8" ry="9.1" transform="rotate(17 338 662)"/></g></g></g>
<g clip-path="url(#cB03)"><g transform="translate(860,60) scale(0.16218)" filter="url(#bM)"><ellipse cx="1440" cy="600" rx="110" ry="90" fill="#ff2a10" opacity="0.55" filter="url(#bH)"/><g fill="#ff2a10"><ellipse cx="1440" cy="475" rx="9.6" ry="7.8" transform="rotate(27 1440 475)"/><ellipse cx="1505" cy="490" rx="11.0" ry="8.9" transform="rotate(13 1505 490)"/><ellipse cx="1570" cy="545" rx="10.5" ry="8.5" transform="rotate(65 1570 545)"/><ellipse cx="1545" cy="620" rx="8.5" ry="6.9" transform="rotate(91 1545 620)"/><ellipse cx="1510" cy="680" rx="8.4" ry="6.8" transform="rotate(78 1510 680)"/><ellipse cx="1320" cy="540" rx="8.6" ry="6.9" transform="rotate(16 1320 540)"/><ellipse cx="1310" cy="585" rx="10.0" ry="8.1" transform="rotate(148 1310 585)"/><ellipse cx="1360" cy="680" rx="8.8" ry="7.1" transform="rotate(40 1360 680)"/><ellipse cx="1380" cy="700" rx="10.9" ry="8.8" transform="rotate(170 1380 700)"/><ellipse cx="1530" cy="580" rx="10.7" ry="8.7" transform="rotate(71 1530 580)"/><ellipse cx="1500" cy="640" rx="12.3" ry="10.0" transform="rotate(8 1500 640)"/><ellipse cx="1560" cy="600" rx="11.8" ry="9.6" transform="rotate(52 1560 600)"/></g><circle cx="1400" cy="598" r="92" fill="#2d0cff"/><g fill="#e020c0" opacity="0.7"><ellipse cx="1335" cy="560" rx="14.3" ry="11.6" transform="rotate(173 1335 560)"/><ellipse cx="1490" cy="630" rx="13.7" ry="11.1" transform="rotate(126 1490 630)"/><ellipse cx="1350" cy="665" rx="13.4" ry="10.9" transform="rotate(44 1350 665)"/></g></g></g>
<g clip-path="url(#cB10)"><g transform="translate(550,220) scale(0.16218)" filter="url(#bM)"><ellipse cx="460" cy="550" rx="110" ry="100" fill="#ff2a10" opacity="0.2" filter="url(#bH)"/><g fill="#ff2a10"><ellipse cx="405" cy="345" rx="15.9" ry="12.9" transform="rotate(67 405 345)"/><ellipse cx="430" cy="350" rx="13.8" ry="11.2" transform="rotate(155 430 350)"/><ellipse cx="345" cy="420" rx="12.9" ry="10.5" transform="rotate(90 345 420)"/><ellipse cx="375" cy="410" rx="18.7" ry="15.1" transform="rotate(14 375 410)"/><ellipse cx="410" cy="430" rx="16.4" ry="13.3" transform="rotate(110 410 430)"/><ellipse cx="440" cy="440" rx="13.1" ry="10.7" transform="rotate(68 440 440)"/><ellipse cx="380" cy="450" rx="17.4" ry="14.1" transform="rotate(81 380 450)"/><ellipse cx="315" cy="465" rx="17.5" ry="14.2" transform="rotate(28 315 465)"/><ellipse cx="500" cy="465" rx="14.4" ry="11.7" transform="rotate(19 500 465)"/><ellipse cx="440" cy="465" rx="16.1" ry="13.1" transform="rotate(166 440 465)"/><ellipse cx="395" cy="380" rx="16.7" ry="13.5" transform="rotate(139 395 380)"/><ellipse cx="360" cy="435" rx="15.4" ry="12.4" transform="rotate(134 360 435)"/><ellipse cx="425" cy="455" rx="13.5" ry="11.0" transform="rotate(52 425 455)"/><ellipse cx="430" cy="640" rx="17.2" ry="14.0" transform="rotate(130 430 640)"/><ellipse cx="470" cy="660" rx="15.6" ry="12.6" transform="rotate(15 470 660)"/><ellipse cx="500" cy="640" rx="14.6" ry="11.8" transform="rotate(37 500 640)"/><ellipse cx="540" cy="620" rx="14.7" ry="11.9" transform="rotate(145 540 620)"/><ellipse cx="560" cy="640" rx="14.2" ry="11.5" transform="rotate(159 560 640)"/><ellipse cx="600" cy="640" rx="18.5" ry="15.0" transform="rotate(9 600 640)"/><ellipse cx="490" cy="690" rx="15.3" ry="12.4" transform="rotate(88 490 690)"/><ellipse cx="520" cy="670" rx="13.0" ry="10.6" transform="rotate(76 520 670)"/><ellipse cx="545" cy="590" rx="18.7" ry="15.2" transform="rotate(20 545 590)"/><ellipse cx="660" cy="635" rx="16.7" ry="13.6" transform="rotate(21 660 635)"/><ellipse cx="310" cy="555" rx="16.6" ry="13.5" transform="rotate(161 310 555)"/><ellipse cx="340" cy="575" rx="14.2" ry="11.5" transform="rotate(1 340 575)"/><ellipse cx="640" cy="335" rx="13.4" ry="10.9" transform="rotate(97 640 335)"/><ellipse cx="520" cy="650" rx="13.0" ry="10.5" transform="rotate(15 520 650)"/><ellipse cx="480" cy="680" rx="16.1" ry="13.0" transform="rotate(165 480 680)"/><ellipse cx="575" cy="655" rx="15.6" ry="12.6" transform="rotate(71 575 655)"/></g><path d="M460 350C464.17 335 475 319.17 490 310C505 300.83 531.67 295 550 295C568.33 295 585 300.83 600 310C615 319.17 623.33 336.67 640 350C656.67 363.33 683.33 373.33 700 390C716.67 406.67 731.67 428.33 740 450C748.33 471.67 751.67 498.33 750 520C748.33 541.67 740 564.17 730 580C720 595.83 705 607.5 690 615C675 622.5 656.67 627.5 640 625C623.33 622.5 602.5 612.5 590 600C577.5 587.5 572.5 568.33 565 550C557.5 531.67 555.83 508.33 545 490C534.17 471.67 513.33 455 500 440C486.67 425 471.67 415 465 400C458.33 385 455.83 365 460 350Z" fill="#2d0cff"/><g fill="#12007a" opacity="0.7"><ellipse cx="606" cy="540" rx="15.7" ry="8.6" transform="rotate(152 606 540)"/><ellipse cx="623" cy="498" rx="9.3" ry="5.0" transform="rotate(40 623 498)"/><ellipse cx="607" cy="410" rx="13.9" ry="7.6" transform="rotate(38 607 410)"/><ellipse cx="597" cy="519" rx="17.6" ry="9.6" transform="rotate(109 597 519)"/><ellipse cx="646" cy="455" rx="9.3" ry="5.0" transform="rotate(156 646 455)"/><ellipse cx="633" cy="358" rx="17.4" ry="9.5" transform="rotate(134 633 358)"/><ellipse cx="669" cy="419" rx="10.6" ry="5.8" transform="rotate(152 669 419)"/><ellipse cx="549" cy="457" rx="14.3" ry="7.8" transform="rotate(77 549 457)"/><ellipse cx="579" cy="504" rx="11.3" ry="6.1" transform="rotate(21 579 504)"/><ellipse cx="636" cy="360" rx="19.3" ry="10.5" transform="rotate(124 636 360)"/><ellipse cx="552" cy="418" rx="9.1" ry="5.0" transform="rotate(121 552 418)"/><ellipse cx="582" cy="466" rx="9.9" ry="5.4" transform="rotate(94 582 466)"/><ellipse cx="609" cy="524" rx="14.8" ry="8.0" transform="rotate(71 609 524)"/><ellipse cx="643" cy="506" rx="10.3" ry="5.6" transform="rotate(42 643 506)"/><ellipse cx="624" cy="512" rx="8.4" ry="4.6" transform="rotate(117 624 512)"/><ellipse cx="651" cy="430" rx="16.1" ry="8.8" transform="rotate(167 651 430)"/><ellipse cx="635" cy="461" rx="17.2" ry="9.3" transform="rotate(150 635 461)"/><ellipse cx="592" cy="416" rx="12.5" ry="6.8" transform="rotate(156 592 416)"/><ellipse cx="657" cy="385" rx="9.9" ry="5.4" transform="rotate(153 657 385)"/><ellipse cx="568" cy="515" rx="9.1" ry="5.0" transform="rotate(174 568 515)"/><ellipse cx="562" cy="393" rx="10.0" ry="5.5" transform="rotate(111 562 393)"/><ellipse cx="562" cy="408" rx="11.8" ry="6.4" transform="rotate(130 562 408)"/><ellipse cx="589" cy="500" rx="9.5" ry="5.2" transform="rotate(123 589 500)"/><ellipse cx="635" cy="483" rx="8.3" ry="4.5" transform="rotate(115 635 483)"/><ellipse cx="561" cy="421" rx="8.0" ry="4.3" transform="rotate(79 561 421)"/><ellipse cx="598" cy="477" rx="7.5" ry="4.1" transform="rotate(179 598 477)"/><ellipse cx="637" cy="491" rx="10.7" ry="5.8" transform="rotate(107 637 491)"/><ellipse cx="652" cy="485" rx="11.9" ry="6.5" transform="rotate(150 652 485)"/></g></g></g>
<g clip-path="url(#cB11)"><g transform="translate(550,220) scale(0.16218)" filter="url(#bM)"><ellipse cx="1470" cy="400" rx="150" ry="90" fill="#ff2a10" opacity="0.35" filter="url(#bH)"/><g fill="#ff2a10"><ellipse cx="1393" cy="388" rx="10.3" ry="8.4" transform="rotate(164 1393 388)"/><ellipse cx="1343" cy="364" rx="13.0" ry="10.6" transform="rotate(69 1343 364)"/><ellipse cx="1397" cy="324" rx="14.6" ry="11.8" transform="rotate(119 1397 324)"/><ellipse cx="1442" cy="318" rx="10.3" ry="8.3" transform="rotate(26 1442 318)"/><ellipse cx="1405" cy="341" rx="13.7" ry="11.1" transform="rotate(111 1405 341)"/><ellipse cx="1503" cy="348" rx="9.4" ry="7.6" transform="rotate(156 1503 348)"/><ellipse cx="1436" cy="331" rx="14.2" ry="11.5" transform="rotate(131 1436 331)"/><ellipse cx="1485" cy="370" rx="10.1" ry="8.2" transform="rotate(164 1485 370)"/><ellipse cx="1367" cy="325" rx="9.6" ry="7.8" transform="rotate(57 1367 325)"/><ellipse cx="1356" cy="351" rx="10.5" ry="8.5" transform="rotate(159 1356 351)"/><ellipse cx="1440" cy="325" rx="10.2" ry="8.3" transform="rotate(120 1440 325)"/><ellipse cx="1364" cy="406" rx="12.6" ry="10.2" transform="rotate(71 1364 406)"/><ellipse cx="1455" cy="350" rx="12.4" ry="10.0" transform="rotate(131 1455 350)"/><ellipse cx="1354" cy="406" rx="12.9" ry="10.5" transform="rotate(158 1354 406)"/><ellipse cx="1381" cy="346" rx="10.2" ry="8.2" transform="rotate(11 1381 346)"/><ellipse cx="1508" cy="341" rx="15.2" ry="12.4" transform="rotate(135 1508 341)"/><ellipse cx="1488" cy="365" rx="10.1" ry="8.2" transform="rotate(160 1488 365)"/><ellipse cx="1360" cy="339" rx="13.4" ry="10.9" transform="rotate(75 1360 339)"/><ellipse cx="1458" cy="299" rx="10.9" ry="8.8" transform="rotate(78 1458 299)"/><ellipse cx="1396" cy="320" rx="12.0" ry="9.8" transform="rotate(81 1396 320)"/><ellipse cx="1466" cy="336" rx="10.7" ry="8.6" transform="rotate(123 1466 336)"/><ellipse cx="1422" cy="413" rx="11.4" ry="9.3" transform="rotate(166 1422 413)"/></g><g fill="#ff2a10"><ellipse cx="1554" cy="361" rx="11.1" ry="9.0" transform="rotate(40 1554 361)"/><ellipse cx="1556" cy="312" rx="15.4" ry="12.5" transform="rotate(15 1556 312)"/><ellipse cx="1551" cy="375" rx="10.7" ry="8.7" transform="rotate(90 1551 375)"/><ellipse cx="1584" cy="375" rx="13.7" ry="11.1" transform="rotate(98 1584 375)"/><ellipse cx="1567" cy="422" rx="14.8" ry="12.0" transform="rotate(1 1567 422)"/><ellipse cx="1575" cy="315" rx="11.5" ry="9.4" transform="rotate(27 1575 315)"/><ellipse cx="1590" cy="359" rx="9.8" ry="8.0" transform="rotate(17 1590 359)"/><ellipse cx="1584" cy="325" rx="14.8" ry="12.0" transform="rotate(131 1584 325)"/><ellipse cx="1507" cy="354" rx="11.8" ry="9.6" transform="rotate(99 1507 354)"/><ellipse cx="1580" cy="321" rx="15.1" ry="12.3" transform="rotate(103 1580 321)"/><ellipse cx="1556" cy="355" rx="10.8" ry="8.7" transform="rotate(52 1556 355)"/><ellipse cx="1583" cy="386" rx="9.9" ry="8.0" transform="rotate(50 1583 386)"/><ellipse cx="1538" cy="338" rx="11.8" ry="9.5" transform="rotate(37 1538 338)"/><ellipse cx="1554" cy="437" rx="13.7" ry="11.1" transform="rotate(109 1554 437)"/><ellipse cx="1582" cy="422" rx="10.3" ry="8.4" transform="rotate(68 1582 422)"/><ellipse cx="1603" cy="366" rx="13.0" ry="10.6" transform="rotate(123 1603 366)"/><ellipse cx="1586" cy="318" rx="10.8" ry="8.7" transform="rotate(5 1586 318)"/><ellipse cx="1548" cy="403" rx="10.7" ry="8.6" transform="rotate(169 1548 403)"/><ellipse cx="1582" cy="342" rx="13.7" ry="11.1" transform="rotate(71 1582 342)"/><ellipse cx="1592" cy="345" rx="11.0" ry="8.9" transform="rotate(44 1592 345)"/></g><g fill="#ff2a10"><ellipse cx="1310" cy="390" rx="11.8" ry="9.6" transform="rotate(77 1310 390)"/><ellipse cx="1295" cy="430" rx="11.9" ry="9.6" transform="rotate(37 1295 430)"/><ellipse cx="1645" cy="465" rx="12.9" ry="10.5" transform="rotate(148 1645 465)"/><ellipse cx="1610" cy="460" rx="12.2" ry="9.9" transform="rotate(28 1610 460)"/><ellipse cx="1575" cy="530" rx="11.6" ry="9.4" transform="rotate(58 1575 530)"/><ellipse cx="1580" cy="560" rx="10.3" ry="8.4" transform="rotate(171 1580 560)"/><ellipse cx="1480" cy="440" rx="13.8" ry="11.2" transform="rotate(8 1480 440)"/></g><path d="M1260 560C1264.17 541.67 1275 522.5 1290 510C1305 497.5 1328.33 486.67 1350 485C1371.67 483.33 1396.67 499.17 1420 500C1443.33 500.83 1471.67 493.33 1490 490C1508.33 486.67 1519.17 476.67 1530 480C1540.83 483.33 1552.5 498.33 1555 510C1557.5 521.67 1540.83 536.67 1545 550C1549.17 563.33 1572.5 575 1580 590C1587.5 605 1593.33 623.33 1590 640C1586.67 656.67 1575 675.83 1560 690C1545 704.17 1521.67 717.5 1500 725C1478.33 732.5 1453.33 736.67 1430 735C1406.67 733.33 1381.67 725.83 1360 715C1338.33 704.17 1315.83 685.83 1300 670C1284.17 654.17 1271.67 638.33 1265 620C1258.33 601.67 1255.83 578.33 1260 560Z" fill="#2d0cff"/><g fill="#12007a" opacity="0.7"><ellipse cx="1498" cy="661" rx="15.3" ry="8.3" transform="rotate(169 1498 661)"/><ellipse cx="1411" cy="660" rx="16.3" ry="8.9" transform="rotate(118 1411 660)"/><ellipse cx="1387" cy="682" rx="12.3" ry="6.7" transform="rotate(139 1387 682)"/><ellipse cx="1461" cy="645" rx="18.3" ry="10.0" transform="rotate(64 1461 645)"/><ellipse cx="1412" cy="691" rx="15.1" ry="8.2" transform="rotate(26 1412 691)"/><ellipse cx="1327" cy="599" rx="9.5" ry="5.2" transform="rotate(117 1327 599)"/><ellipse cx="1469" cy="652" rx="8.5" ry="4.6" transform="rotate(36 1469 652)"/><ellipse cx="1495" cy="612" rx="19.4" ry="10.6" transform="rotate(78 1495 612)"/><ellipse cx="1332" cy="573" rx="15.7" ry="8.6" transform="rotate(20 1332 573)"/><ellipse cx="1339" cy="586" rx="9.7" ry="5.3" transform="rotate(17 1339 586)"/><ellipse cx="1480" cy="579" rx="9.8" ry="5.3" transform="rotate(81 1480 579)"/><ellipse cx="1441" cy="690" rx="13.5" ry="7.4" transform="rotate(18 1441 690)"/><ellipse cx="1434" cy="598" rx="10.9" ry="5.9" transform="rotate(5 1434 598)"/><ellipse cx="1417" cy="593" rx="13.8" ry="7.5" transform="rotate(16 1417 593)"/><ellipse cx="1321" cy="628" rx="13.9" ry="7.6" transform="rotate(81 1321 628)"/><ellipse cx="1341" cy="625" rx="14.6" ry="8.0" transform="rotate(17 1341 625)"/><ellipse cx="1362" cy="626" rx="17.9" ry="9.7" transform="rotate(169 1362 626)"/><ellipse cx="1461" cy="632" rx="15.9" ry="8.7" transform="rotate(102 1461 632)"/><ellipse cx="1520" cy="628" rx="18.8" ry="10.2" transform="rotate(76 1520 628)"/><ellipse cx="1367" cy="669" rx="18.8" ry="10.2" transform="rotate(47 1367 669)"/><ellipse cx="1403" cy="652" rx="15.0" ry="8.2" transform="rotate(84 1403 652)"/><ellipse cx="1417" cy="669" rx="7.9" ry="4.3" transform="rotate(56 1417 669)"/><ellipse cx="1511" cy="613" rx="10.9" ry="5.9" transform="rotate(168 1511 613)"/><ellipse cx="1382" cy="651" rx="7.9" ry="4.3" transform="rotate(26 1382 651)"/><ellipse cx="1438" cy="656" rx="18.0" ry="9.8" transform="rotate(47 1438 656)"/><ellipse cx="1420" cy="682" rx="18.5" ry="10.1" transform="rotate(52 1420 682)"/><ellipse cx="1425" cy="571" rx="14.2" ry="7.7" transform="rotate(107 1425 571)"/><ellipse cx="1517" cy="595" rx="13.6" ry="7.4" transform="rotate(151 1517 595)"/><ellipse cx="1370" cy="656" rx="19.0" ry="10.4" transform="rotate(98 1370 656)"/><ellipse cx="1429" cy="575" rx="18.5" ry="10.1" transform="rotate(110 1429 575)"/><ellipse cx="1421" cy="697" rx="13.1" ry="7.1" transform="rotate(61 1421 697)"/><ellipse cx="1416" cy="645" rx="9.9" ry="5.4" transform="rotate(124 1416 645)"/><ellipse cx="1458" cy="651" rx="12.9" ry="7.0" transform="rotate(98 1458 651)"/><ellipse cx="1342" cy="668" rx="10.6" ry="5.8" transform="rotate(66 1342 668)"/><ellipse cx="1381" cy="633" rx="10.2" ry="5.5" transform="rotate(26 1381 633)"/><ellipse cx="1412" cy="589" rx="15.5" ry="8.4" transform="rotate(39 1412 589)"/><ellipse cx="1361" cy="568" rx="11.7" ry="6.4" transform="rotate(167 1361 568)"/><ellipse cx="1370" cy="570" rx="8.1" ry="4.4" transform="rotate(73 1370 570)"/><ellipse cx="1411" cy="674" rx="18.7" ry="10.2" transform="rotate(155 1411 674)"/><ellipse cx="1511" cy="645" rx="18.7" ry="10.2" transform="rotate(97 1511 645)"/></g></g></g>
<g clip-path="url(#cB12)"><g transform="translate(860,220) scale(0.16218)" filter="url(#bM)"><ellipse cx="600" cy="580" rx="110" ry="120" fill="#ff2a10" opacity="0.3" filter="url(#bH)"/><g fill="#ff2a10"><ellipse cx="498" cy="385" rx="13.5" ry="11.0" transform="rotate(100 498 385)"/><ellipse cx="585" cy="377" rx="16.1" ry="13.1" transform="rotate(83 585 377)"/><ellipse cx="670" cy="420" rx="13.8" ry="11.2" transform="rotate(105 670 420)"/><ellipse cx="690" cy="432" rx="12.1" ry="9.8" transform="rotate(92 690 432)"/><ellipse cx="660" cy="462" rx="14.5" ry="11.8" transform="rotate(142 660 462)"/><ellipse cx="430" cy="440" rx="11.6" ry="9.4" transform="rotate(54 430 440)"/><ellipse cx="428" cy="487" rx="11.5" ry="9.4" transform="rotate(145 428 487)"/><ellipse cx="620" cy="520" rx="14.9" ry="12.1" transform="rotate(7 620 520)"/><ellipse cx="720" cy="545" rx="16.5" ry="13.3" transform="rotate(173 720 545)"/><ellipse cx="690" cy="560" rx="14.6" ry="11.9" transform="rotate(110 690 560)"/><ellipse cx="680" cy="650" rx="11.9" ry="9.7" transform="rotate(2 680 650)"/><ellipse cx="420" cy="635" rx="14.0" ry="11.3" transform="rotate(10 420 635)"/><ellipse cx="385" cy="645" rx="12.1" ry="9.8" transform="rotate(43 385 645)"/><ellipse cx="475" cy="710" rx="11.2" ry="9.1" transform="rotate(83 475 710)"/><ellipse cx="600" cy="660" rx="13.5" ry="10.9" transform="rotate(151 600 660)"/></g><ellipse cx="635" cy="600" rx="38" ry="55" fill="#ff2a10"/><g fill="#ff2a10"><ellipse cx="680" cy="612" rx="10.2" ry="8.3" transform="rotate(83 680 612)"/><ellipse cx="618" cy="552" rx="12.3" ry="10.0" transform="rotate(89 618 552)"/><ellipse cx="672" cy="604" rx="11.8" ry="9.5" transform="rotate(153 672 604)"/><ellipse cx="598" cy="584" rx="12.2" ry="9.9" transform="rotate(31 598 584)"/><ellipse cx="666" cy="556" rx="11.8" ry="9.6" transform="rotate(17 666 556)"/><ellipse cx="604" cy="596" rx="14.5" ry="11.8" transform="rotate(107 604 596)"/><ellipse cx="602" cy="598" rx="11.8" ry="9.6" transform="rotate(8 602 598)"/><ellipse cx="684" cy="621" rx="15.0" ry="12.2" transform="rotate(53 684 621)"/><ellipse cx="667" cy="572" rx="9.9" ry="8.0" transform="rotate(154 667 572)"/><ellipse cx="598" cy="570" rx="13.9" ry="11.3" transform="rotate(16 598 570)"/></g><path d="M440 450C448.33 432.5 455 414.67 470 405C485 395.33 510 389.5 530 392C550 394.5 575 407 590 420C605 433 616.67 450 620 470C623.33 490 613.33 518.33 610 540C606.67 561.67 606.67 581.67 600 600C593.33 618.33 585 638.67 570 650C555 661.33 530 667.17 510 668C490 668.83 466.67 664.67 450 655C433.33 645.33 418.33 625.83 410 610C401.67 594.17 398.33 576.67 400 560C401.67 543.33 413.33 528.33 420 510C426.67 491.67 431.67 467.5 440 450Z" fill="#2d0cff"/><g fill="#12007a" opacity="0.6"><ellipse cx="515" cy="528" rx="16.3" ry="8.9" transform="rotate(28 515 528)"/><ellipse cx="516" cy="529" rx="18.1" ry="9.8" transform="rotate(122 516 529)"/><ellipse cx="541" cy="467" rx="10.4" ry="5.6" transform="rotate(60 541 467)"/><ellipse cx="503" cy="489" rx="10.7" ry="5.8" transform="rotate(41 503 489)"/><ellipse cx="539" cy="471" rx="17.1" ry="9.3" transform="rotate(40 539 471)"/><ellipse cx="541" cy="503" rx="10.3" ry="5.6" transform="rotate(81 541 503)"/><ellipse cx="497" cy="540" rx="14.3" ry="7.8" transform="rotate(64 497 540)"/><ellipse cx="466" cy="497" rx="15.2" ry="8.3" transform="rotate(72 466 497)"/><ellipse cx="542" cy="469" rx="13.4" ry="7.3" transform="rotate(170 542 469)"/><ellipse cx="528" cy="533" rx="9.6" ry="5.2" transform="rotate(168 528 533)"/><ellipse cx="494" cy="466" rx="10.9" ry="6.0" transform="rotate(89 494 466)"/><ellipse cx="521" cy="513" rx="8.9" ry="4.8" transform="rotate(8 521 513)"/><ellipse cx="465" cy="544" rx="14.2" ry="7.7" transform="rotate(72 465 544)"/><ellipse cx="488" cy="529" rx="18.9" ry="10.3" transform="rotate(63 488 529)"/></g></g></g>
<g clip-path="url(#cB13)"><g transform="translate(860,220) scale(0.16218)" filter="url(#bM)"><g fill="#ff2a10" opacity="0.8"><ellipse cx="1345" cy="495" rx="11.4" ry="9.2" transform="rotate(118 1345 495)"/><ellipse cx="1360" cy="520" rx="12.3" ry="9.9" transform="rotate(25 1360 520)"/><ellipse cx="1385" cy="540" rx="9.2" ry="7.5" transform="rotate(67 1385 540)"/><ellipse cx="1410" cy="552" rx="10.5" ry="8.5" transform="rotate(145 1410 552)"/><ellipse cx="1440" cy="558" rx="12.4" ry="10.0" transform="rotate(108 1440 558)"/><ellipse cx="1470" cy="555" rx="11.8" ry="9.5" transform="rotate(119 1470 555)"/></g><ellipse cx="1448" cy="460" rx="97" ry="90" fill="#2d0cff"/><g fill="#12007a" opacity="0.7"><ellipse cx="1422" cy="468" rx="12.5" ry="6.8" transform="rotate(80 1422 468)"/><ellipse cx="1410" cy="465" rx="10.6" ry="5.8" transform="rotate(114 1410 465)"/><ellipse cx="1472" cy="455" rx="11.5" ry="6.3" transform="rotate(25 1472 455)"/><ellipse cx="1443" cy="441" rx="17.0" ry="9.2" transform="rotate(172 1443 441)"/><ellipse cx="1443" cy="478" rx="17.2" ry="9.4" transform="rotate(120 1443 478)"/></g><ellipse cx="1300" cy="36" rx="40" ry="8" fill="#1808a0"/></g></g>
<g clip-path="url(#cB20)"><g transform="translate(550,375) scale(0.16218)" filter="url(#bM)"><ellipse cx="580" cy="510" rx="110" ry="180" fill="#ff2a10" opacity="0.35" filter="url(#bH)"/><g fill="#ff2a10" opacity="0.9"><ellipse cx="597" cy="637" rx="7.8" ry="6.4" transform="rotate(147 597 637)"/><ellipse cx="603" cy="642" rx="12.2" ry="9.9" transform="rotate(71 603 642)"/><ellipse cx="674" cy="479" rx="10.1" ry="8.2" transform="rotate(113 674 479)"/><ellipse cx="546" cy="454" rx="12.6" ry="10.2" transform="rotate(72 546 454)"/><ellipse cx="682" cy="493" rx="7.1" ry="5.7" transform="rotate(46 682 493)"/><ellipse cx="510" cy="532" rx="7.9" ry="6.4" transform="rotate(110 510 532)"/><ellipse cx="538" cy="628" rx="12.2" ry="9.9" transform="rotate(137 538 628)"/><ellipse cx="623" cy="657" rx="9.4" ry="7.6" transform="rotate(150 623 657)"/><ellipse cx="506" cy="541" rx="12.6" ry="10.2" transform="rotate(148 506 541)"/><ellipse cx="634" cy="365" rx="10.3" ry="8.4" transform="rotate(31 634 365)"/><ellipse cx="659" cy="499" rx="7.0" ry="5.7" transform="rotate(78 659 499)"/><ellipse cx="558" cy="551" rx="12.4" ry="10.1" transform="rotate(20 558 551)"/><ellipse cx="653" cy="434" rx="7.9" ry="6.4" transform="rotate(64 653 434)"/><ellipse cx="563" cy="528" rx="11.3" ry="9.2" transform="rotate(117 563 528)"/><ellipse cx="681" cy="491" rx="11.4" ry="9.3" transform="rotate(179 681 491)"/><ellipse cx="664" cy="450" rx="10.0" ry="8.1" transform="rotate(94 664 450)"/><ellipse cx="630" cy="350" rx="11.7" ry="9.5" transform="rotate(151 630 350)"/><ellipse cx="655" cy="529" rx="7.4" ry="6.0" transform="rotate(105 655 529)"/><ellipse cx="532" cy="444" rx="11.8" ry="9.6" transform="rotate(40 532 444)"/><ellipse cx="585" cy="373" rx="8.1" ry="6.6" transform="rotate(176 585 373)"/><ellipse cx="656" cy="550" rx="10.0" ry="8.1" transform="rotate(107 656 550)"/><ellipse cx="665" cy="494" rx="12.0" ry="9.7" transform="rotate(53 665 494)"/><ellipse cx="558" cy="518" rx="10.6" ry="8.6" transform="rotate(76 558 518)"/><ellipse cx="601" cy="451" rx="9.6" ry="7.8" transform="rotate(172 601 451)"/><ellipse cx="672" cy="520" rx="10.8" ry="8.8" transform="rotate(130 672 520)"/><ellipse cx="532" cy="465" rx="12.4" ry="10.1" transform="rotate(50 532 465)"/><ellipse cx="572" cy="369" rx="11.1" ry="9.0" transform="rotate(86 572 369)"/><ellipse cx="678" cy="526" rx="8.5" ry="6.9" transform="rotate(140 678 526)"/><ellipse cx="678" cy="497" rx="9.2" ry="7.5" transform="rotate(154 678 497)"/><ellipse cx="554" cy="576" rx="10.2" ry="8.3" transform="rotate(117 554 576)"/><ellipse cx="567" cy="386" rx="9.3" ry="7.5" transform="rotate(133 567 386)"/><ellipse cx="561" cy="635" rx="6.9" ry="5.6" transform="rotate(23 561 635)"/><ellipse cx="624" cy="448" rx="9.3" ry="7.5" transform="rotate(9 624 448)"/><ellipse cx="600" cy="407" rx="7.2" ry="5.8" transform="rotate(49 600 407)"/><ellipse cx="669" cy="443" rx="6.9" ry="5.6" transform="rotate(171 669 443)"/><ellipse cx="654" cy="564" rx="10.0" ry="8.1" transform="rotate(140 654 564)"/><ellipse cx="649" cy="636" rx="8.5" ry="6.9" transform="rotate(132 649 636)"/><ellipse cx="660" cy="448" rx="6.9" ry="5.6" transform="rotate(120 660 448)"/><ellipse cx="520" cy="570" rx="11.4" ry="9.3" transform="rotate(19 520 570)"/><ellipse cx="525" cy="450" rx="12.2" ry="9.9" transform="rotate(110 525 450)"/><ellipse cx="532" cy="405" rx="7.8" ry="6.3" transform="rotate(154 532 405)"/><ellipse cx="528" cy="439" rx="7.8" ry="6.3" transform="rotate(94 528 439)"/><ellipse cx="558" cy="554" rx="12.3" ry="10.0" transform="rotate(152 558 554)"/><ellipse cx="569" cy="522" rx="12.6" ry="10.2" transform="rotate(21 569 522)"/><ellipse cx="523" cy="504" rx="11.8" ry="9.6" transform="rotate(118 523 504)"/><ellipse cx="540" cy="431" rx="12.5" ry="10.2" transform="rotate(147 540 431)"/><ellipse cx="542" cy="636" rx="12.3" ry="10.0" transform="rotate(87 542 636)"/><ellipse cx="616" cy="533" rx="12.5" ry="10.1" transform="rotate(37 616 533)"/><ellipse cx="608" cy="435" rx="8.2" ry="6.6" transform="rotate(28 608 435)"/><ellipse cx="606" cy="460" rx="9.6" ry="7.8" transform="rotate(145 606 460)"/><ellipse cx="586" cy="507" rx="7.0" ry="5.7" transform="rotate(149 586 507)"/><ellipse cx="586" cy="559" rx="9.9" ry="8.0" transform="rotate(141 586 559)"/><ellipse cx="583" cy="572" rx="8.0" ry="6.5" transform="rotate(85 583 572)"/><ellipse cx="600" cy="459" rx="11.3" ry="9.1" transform="rotate(122 600 459)"/><ellipse cx="540" cy="470" rx="7.1" ry="5.7" transform="rotate(90 540 470)"/><ellipse cx="528" cy="588" rx="7.3" ry="5.9" transform="rotate(29 528 588)"/><ellipse cx="660" cy="524" rx="7.2" ry="5.9" transform="rotate(95 660 524)"/><ellipse cx="544" cy="549" rx="8.0" ry="6.5" transform="rotate(165 544 549)"/><ellipse cx="564" cy="517" rx="10.2" ry="8.3" transform="rotate(137 564 517)"/><ellipse cx="505" cy="522" rx="11.7" ry="9.5" transform="rotate(122 505 522)"/><ellipse cx="654" cy="528" rx="9.8" ry="8.0" transform="rotate(30 654 528)"/><ellipse cx="517" cy="510" rx="11.2" ry="9.1" transform="rotate(136 517 510)"/><ellipse cx="594" cy="411" rx="10.4" ry="8.4" transform="rotate(90 594 411)"/><ellipse cx="596" cy="447" rx="7.9" ry="6.4" transform="rotate(129 596 447)"/><ellipse cx="587" cy="424" rx="11.3" ry="9.2" transform="rotate(139 587 424)"/><ellipse cx="555" cy="412" rx="7.2" ry="5.9" transform="rotate(41 555 412)"/><ellipse cx="603" cy="337" rx="7.8" ry="6.4" transform="rotate(6 603 337)"/><ellipse cx="541" cy="651" rx="8.1" ry="6.6" transform="rotate(168 541 651)"/><ellipse cx="613" cy="348" rx="12.6" ry="10.2" transform="rotate(121 613 348)"/><ellipse cx="615" cy="622" rx="9.2" ry="7.4" transform="rotate(119 615 622)"/></g><g fill="#ff2a10" opacity="0.8"><ellipse cx="430" cy="320" rx="8.3" ry="6.7" transform="rotate(123 430 320)"/><ellipse cx="490" cy="325" rx="9.9" ry="8.0" transform="rotate(152 490 325)"/><ellipse cx="520" cy="340" rx="8.0" ry="6.5" transform="rotate(41 520 340)"/><ellipse cx="275" cy="675" rx="7.9" ry="6.4" transform="rotate(40 275 675)"/><ellipse cx="565" cy="712" rx="10.1" ry="8.2" transform="rotate(23 565 712)"/></g><path d="M255 480C259.17 455 265.83 429.17 280 410C294.17 390.83 320 374.17 340 365C360 355.83 382.5 352.5 400 355C417.5 357.5 434.17 365.83 445 380C455.83 394.17 460.83 416.67 465 440C469.17 463.33 464.17 496.67 470 520C475.83 543.33 488.33 571.67 500 580C511.67 588.33 528.33 563.33 540 570C551.67 576.67 565.83 600 570 620C574.17 640 573.33 670 565 690C556.67 710 539.17 727 520 740C500.83 753 473.33 764.67 450 768C426.67 771.33 401.67 768 380 760C358.33 752 335.83 738.33 320 720C304.17 701.67 290 670 285 650C280 630 295 615 290 600C285 585 260.83 580 255 560C249.17 540 250.83 505 255 480Z" fill="#2d0cff"/><g fill="#12007a" opacity="0.75"><ellipse cx="278" cy="460" rx="19.0" ry="10.4" transform="rotate(52 278 460)"/><ellipse cx="356" cy="403" rx="15.4" ry="8.4" transform="rotate(19 356 403)"/><ellipse cx="398" cy="478" rx="16.5" ry="9.0" transform="rotate(45 398 478)"/><ellipse cx="304" cy="469" rx="17.7" ry="9.6" transform="rotate(170 304 469)"/><ellipse cx="284" cy="516" rx="8.2" ry="4.5" transform="rotate(146 284 516)"/><ellipse cx="372" cy="448" rx="16.0" ry="8.7" transform="rotate(100 372 448)"/><ellipse cx="385" cy="459" rx="14.0" ry="7.6" transform="rotate(158 385 459)"/><ellipse cx="321" cy="435" rx="8.5" ry="4.6" transform="rotate(169 321 435)"/><ellipse cx="271" cy="482" rx="9.2" ry="5.0" transform="rotate(146 271 482)"/><ellipse cx="379" cy="399" rx="7.7" ry="4.2" transform="rotate(66 379 399)"/><ellipse cx="415" cy="492" rx="11.8" ry="6.4" transform="rotate(172 415 492)"/><ellipse cx="300" cy="519" rx="17.9" ry="9.8" transform="rotate(43 300 519)"/><ellipse cx="276" cy="442" rx="13.8" ry="7.5" transform="rotate(64 276 442)"/><ellipse cx="342" cy="540" rx="9.8" ry="5.3" transform="rotate(108 342 540)"/><ellipse cx="294" cy="449" rx="9.1" ry="4.9" transform="rotate(118 294 449)"/><ellipse cx="389" cy="447" rx="11.5" ry="6.3" transform="rotate(163 389 447)"/><ellipse cx="313" cy="450" rx="7.6" ry="4.1" transform="rotate(135 313 450)"/><ellipse cx="318" cy="514" rx="10.8" ry="5.9" transform="rotate(113 318 514)"/><ellipse cx="344" cy="425" rx="8.4" ry="4.6" transform="rotate(177 344 425)"/><ellipse cx="359" cy="463" rx="14.3" ry="7.8" transform="rotate(123 359 463)"/><ellipse cx="293" cy="509" rx="19.0" ry="10.4" transform="rotate(106 293 509)"/><ellipse cx="322" cy="492" rx="10.5" ry="5.7" transform="rotate(27 322 492)"/><ellipse cx="378" cy="493" rx="17.6" ry="9.6" transform="rotate(96 378 493)"/><ellipse cx="375" cy="397" rx="17.2" ry="9.4" transform="rotate(8 375 397)"/><ellipse cx="371" cy="459" rx="16.8" ry="9.1" transform="rotate(151 371 459)"/><ellipse cx="322" cy="427" rx="8.4" ry="4.6" transform="rotate(15 322 427)"/></g><g fill="#12007a" opacity="0.75"><ellipse cx="454" cy="714" rx="11.5" ry="6.3" transform="rotate(35 454 714)"/><ellipse cx="349" cy="672" rx="13.3" ry="7.2" transform="rotate(82 349 672)"/><ellipse cx="415" cy="700" rx="15.8" ry="8.6" transform="rotate(58 415 700)"/><ellipse cx="379" cy="622" rx="17.9" ry="9.7" transform="rotate(169 379 622)"/><ellipse cx="424" cy="699" rx="16.3" ry="8.9" transform="rotate(103 424 699)"/><ellipse cx="444" cy="717" rx="18.0" ry="9.8" transform="rotate(150 444 717)"/><ellipse cx="431" cy="702" rx="7.6" ry="4.1" transform="rotate(175 431 702)"/><ellipse cx="435" cy="720" rx="14.0" ry="7.6" transform="rotate(106 435 720)"/><ellipse cx="330" cy="660" rx="14.7" ry="8.0" transform="rotate(54 330 660)"/><ellipse cx="471" cy="697" rx="18.6" ry="10.1" transform="rotate(26 471 697)"/><ellipse cx="387" cy="626" rx="9.4" ry="5.1" transform="rotate(37 387 626)"/><ellipse cx="394" cy="633" rx="12.4" ry="6.7" transform="rotate(86 394 633)"/><ellipse cx="487" cy="699" rx="14.6" ry="7.9" transform="rotate(96 487 699)"/><ellipse cx="371" cy="715" rx="17.4" ry="9.5" transform="rotate(98 371 715)"/><ellipse cx="452" cy="682" rx="9.3" ry="5.1" transform="rotate(14 452 682)"/><ellipse cx="376" cy="634" rx="9.9" ry="5.4" transform="rotate(163 376 634)"/><ellipse cx="358" cy="631" rx="17.3" ry="9.4" transform="rotate(122 358 631)"/><ellipse cx="322" cy="660" rx="9.1" ry="5.0" transform="rotate(124 322 660)"/><ellipse cx="471" cy="642" rx="17.3" ry="9.4" transform="rotate(32 471 642)"/><ellipse cx="374" cy="685" rx="12.3" ry="6.7" transform="rotate(126 374 685)"/><ellipse cx="456" cy="697" rx="17.7" ry="9.6" transform="rotate(54 456 697)"/><ellipse cx="490" cy="712" rx="14.0" ry="7.6" transform="rotate(3 490 712)"/><ellipse cx="385" cy="660" rx="9.5" ry="5.1" transform="rotate(132 385 660)"/><ellipse cx="382" cy="637" rx="13.7" ry="7.4" transform="rotate(100 382 637)"/><ellipse cx="389" cy="674" rx="16.7" ry="9.1" transform="rotate(138 389 674)"/><ellipse cx="363" cy="687" rx="14.8" ry="8.1" transform="rotate(84 363 687)"/></g></g></g>
<g clip-path="url(#cB21)"><g transform="translate(550,375) scale(0.16218)" filter="url(#bM)"><ellipse cx="1550" cy="470" rx="110" ry="170" fill="#ff2a10" opacity="0.4" filter="url(#bH)"/><g fill="#ff2a10" opacity="0.95"><ellipse cx="1579" cy="454" rx="11.9" ry="9.7" transform="rotate(87 1579 454)"/><ellipse cx="1617" cy="418" rx="13.2" ry="10.7" transform="rotate(28 1617 418)"/><ellipse cx="1622" cy="456" rx="8.2" ry="6.6" transform="rotate(62 1622 456)"/><ellipse cx="1541" cy="435" rx="9.6" ry="7.8" transform="rotate(1 1541 435)"/><ellipse cx="1594" cy="491" rx="8.5" ry="6.9" transform="rotate(49 1594 491)"/><ellipse cx="1566" cy="345" rx="12.8" ry="10.4" transform="rotate(161 1566 345)"/><ellipse cx="1635" cy="352" rx="10.9" ry="8.8" transform="rotate(120 1635 352)"/><ellipse cx="1611" cy="370" rx="7.9" ry="6.4" transform="rotate(93 1611 370)"/><ellipse cx="1511" cy="445" rx="7.5" ry="6.1" transform="rotate(33 1511 445)"/><ellipse cx="1524" cy="306" rx="11.4" ry="9.3" transform="rotate(76 1524 306)"/><ellipse cx="1561" cy="462" rx="11.4" ry="9.3" transform="rotate(95 1561 462)"/><ellipse cx="1513" cy="480" rx="7.8" ry="6.3" transform="rotate(32 1513 480)"/><ellipse cx="1611" cy="560" rx="9.0" ry="7.3" transform="rotate(99 1611 560)"/><ellipse cx="1484" cy="517" rx="12.0" ry="9.8" transform="rotate(140 1484 517)"/><ellipse cx="1615" cy="602" rx="12.8" ry="10.4" transform="rotate(147 1615 602)"/><ellipse cx="1456" cy="511" rx="12.5" ry="10.1" transform="rotate(43 1456 511)"/><ellipse cx="1517" cy="306" rx="12.1" ry="9.8" transform="rotate(161 1517 306)"/><ellipse cx="1470" cy="433" rx="7.4" ry="6.0" transform="rotate(119 1470 433)"/><ellipse cx="1609" cy="581" rx="13.1" ry="10.6" transform="rotate(66 1609 581)"/><ellipse cx="1574" cy="475" rx="10.5" ry="8.5" transform="rotate(28 1574 475)"/><ellipse cx="1549" cy="319" rx="10.4" ry="8.4" transform="rotate(120 1549 319)"/><ellipse cx="1596" cy="558" rx="7.2" ry="5.9" transform="rotate(98 1596 558)"/><ellipse cx="1566" cy="391" rx="11.7" ry="9.4" transform="rotate(178 1566 391)"/><ellipse cx="1533" cy="533" rx="8.6" ry="7.0" transform="rotate(149 1533 533)"/><ellipse cx="1635" cy="536" rx="8.7" ry="7.1" transform="rotate(136 1635 536)"/><ellipse cx="1628" cy="352" rx="8.2" ry="6.7" transform="rotate(98 1628 352)"/><ellipse cx="1514" cy="613" rx="8.9" ry="7.2" transform="rotate(30 1514 613)"/><ellipse cx="1529" cy="489" rx="8.4" ry="6.8" transform="rotate(126 1529 489)"/><ellipse cx="1534" cy="528" rx="13.4" ry="10.8" transform="rotate(46 1534 528)"/><ellipse cx="1579" cy="317" rx="10.7" ry="8.7" transform="rotate(116 1579 317)"/><ellipse cx="1470" cy="379" rx="11.7" ry="9.5" transform="rotate(48 1470 379)"/><ellipse cx="1513" cy="353" rx="13.3" ry="10.8" transform="rotate(20 1513 353)"/><ellipse cx="1456" cy="512" rx="7.4" ry="6.0" transform="rotate(130 1456 512)"/><ellipse cx="1621" cy="377" rx="7.3" ry="5.9" transform="rotate(139 1621 377)"/><ellipse cx="1548" cy="589" rx="12.5" ry="10.2" transform="rotate(56 1548 589)"/><ellipse cx="1556" cy="521" rx="9.3" ry="7.5" transform="rotate(18 1556 521)"/><ellipse cx="1522" cy="305" rx="7.3" ry="5.9" transform="rotate(94 1522 305)"/><ellipse cx="1579" cy="306" rx="8.7" ry="7.1" transform="rotate(95 1579 306)"/><ellipse cx="1523" cy="341" rx="13.8" ry="11.2" transform="rotate(163 1523 341)"/><ellipse cx="1591" cy="446" rx="7.1" ry="5.7" transform="rotate(106 1591 446)"/><ellipse cx="1507" cy="415" rx="8.6" ry="7.0" transform="rotate(141 1507 415)"/><ellipse cx="1558" cy="439" rx="7.7" ry="6.3" transform="rotate(129 1558 439)"/><ellipse cx="1518" cy="493" rx="13.4" ry="10.9" transform="rotate(59 1518 493)"/><ellipse cx="1614" cy="513" rx="9.7" ry="7.9" transform="rotate(116 1614 513)"/><ellipse cx="1557" cy="408" rx="10.2" ry="8.2" transform="rotate(162 1557 408)"/><ellipse cx="1456" cy="474" rx="13.1" ry="10.6" transform="rotate(144 1456 474)"/><ellipse cx="1534" cy="411" rx="13.7" ry="11.1" transform="rotate(54 1534 411)"/><ellipse cx="1529" cy="579" rx="10.6" ry="8.6" transform="rotate(138 1529 579)"/><ellipse cx="1457" cy="417" rx="12.3" ry="10.0" transform="rotate(116 1457 417)"/><ellipse cx="1542" cy="601" rx="10.4" ry="8.4" transform="rotate(136 1542 601)"/><ellipse cx="1540" cy="618" rx="11.8" ry="9.6" transform="rotate(32 1540 618)"/><ellipse cx="1622" cy="412" rx="9.9" ry="8.1" transform="rotate(60 1622 412)"/><ellipse cx="1483" cy="565" rx="13.3" ry="10.8" transform="rotate(84 1483 565)"/><ellipse cx="1484" cy="435" rx="7.7" ry="6.3" transform="rotate(160 1484 435)"/><ellipse cx="1539" cy="474" rx="8.5" ry="6.9" transform="rotate(53 1539 474)"/><ellipse cx="1564" cy="385" rx="8.0" ry="6.5" transform="rotate(162 1564 385)"/><ellipse cx="1520" cy="623" rx="7.0" ry="5.7" transform="rotate(16 1520 623)"/><ellipse cx="1571" cy="569" rx="10.6" ry="8.6" transform="rotate(59 1571 569)"/><ellipse cx="1654" cy="420" rx="10.8" ry="8.8" transform="rotate(177 1654 420)"/><ellipse cx="1621" cy="324" rx="10.9" ry="8.9" transform="rotate(19 1621 324)"/><ellipse cx="1533" cy="443" rx="9.7" ry="7.9" transform="rotate(178 1533 443)"/><ellipse cx="1486" cy="551" rx="13.5" ry="10.9" transform="rotate(127 1486 551)"/><ellipse cx="1499" cy="546" rx="7.7" ry="6.3" transform="rotate(140 1499 546)"/><ellipse cx="1519" cy="377" rx="9.9" ry="8.0" transform="rotate(153 1519 377)"/><ellipse cx="1601" cy="485" rx="11.2" ry="9.1" transform="rotate(142 1601 485)"/><ellipse cx="1474" cy="423" rx="7.0" ry="5.7" transform="rotate(102 1474 423)"/><ellipse cx="1528" cy="443" rx="10.6" ry="8.6" transform="rotate(45 1528 443)"/><ellipse cx="1502" cy="592" rx="12.7" ry="10.3" transform="rotate(2 1502 592)"/><ellipse cx="1626" cy="534" rx="13.3" ry="10.8" transform="rotate(113 1626 534)"/><ellipse cx="1505" cy="590" rx="13.2" ry="10.7" transform="rotate(11 1505 590)"/><ellipse cx="1622" cy="486" rx="11.8" ry="9.6" transform="rotate(94 1622 486)"/><ellipse cx="1513" cy="470" rx="8.0" ry="6.5" transform="rotate(7 1513 470)"/><ellipse cx="1502" cy="479" rx="10.9" ry="8.8" transform="rotate(84 1502 479)"/><ellipse cx="1515" cy="602" rx="9.2" ry="7.5" transform="rotate(83 1515 602)"/><ellipse cx="1470" cy="500" rx="13.7" ry="11.1" transform="rotate(133 1470 500)"/><ellipse cx="1646" cy="460" rx="10.5" ry="8.5" transform="rotate(115 1646 460)"/><ellipse cx="1567" cy="464" rx="7.0" ry="5.7" transform="rotate(21 1567 464)"/><ellipse cx="1621" cy="559" rx="12.2" ry="9.9" transform="rotate(73 1621 559)"/><ellipse cx="1569" cy="576" rx="7.7" ry="6.2" transform="rotate(44 1569 576)"/><ellipse cx="1461" cy="517" rx="11.9" ry="9.7" transform="rotate(20 1461 517)"/></g><g fill="#ff2a10"><ellipse cx="1280" cy="310" rx="11.6" ry="9.4" transform="rotate(126 1280 310)"/><ellipse cx="1265" cy="325" rx="14.6" ry="11.9" transform="rotate(169 1265 325)"/></g><path d="M1215 440C1219.67 415 1225.83 374.17 1240 350C1254.17 325.83 1278.33 307.5 1300 295C1321.67 282.5 1348.33 275 1370 275C1391.67 275 1416.67 284.17 1430 295C1443.33 305.83 1450 322.5 1450 340C1450 357.5 1434.17 380 1430 400C1425.83 420 1421.67 440 1425 460C1428.33 480 1439.17 501.67 1450 520C1460.83 538.33 1480.83 553.33 1490 570C1499.17 586.67 1506.67 603.33 1505 620C1503.33 636.67 1494.17 656.67 1480 670C1465.83 683.33 1441.67 696.67 1420 700C1398.33 703.33 1373.33 700 1350 690C1326.67 680 1299.17 660 1280 640C1260.83 620 1246.33 593.33 1235 570C1223.67 546.67 1215.33 521.67 1212 500C1208.67 478.33 1210.33 465 1215 440Z" fill="#2d0cff"/><g fill="#12007a" opacity="0.75"><ellipse cx="1288" cy="338" rx="13.7" ry="7.5" transform="rotate(92 1288 338)"/><ellipse cx="1257" cy="536" rx="11.0" ry="6.0" transform="rotate(26 1257 536)"/><ellipse cx="1317" cy="521" rx="11.4" ry="6.2" transform="rotate(48 1317 521)"/><ellipse cx="1355" cy="499" rx="11.2" ry="6.1" transform="rotate(102 1355 499)"/><ellipse cx="1326" cy="485" rx="9.9" ry="5.4" transform="rotate(97 1326 485)"/><ellipse cx="1267" cy="527" rx="17.1" ry="9.3" transform="rotate(74 1267 527)"/><ellipse cx="1375" cy="519" rx="16.6" ry="9.0" transform="rotate(71 1375 519)"/><ellipse cx="1296" cy="385" rx="18.5" ry="10.1" transform="rotate(150 1296 385)"/><ellipse cx="1340" cy="317" rx="10.3" ry="5.6" transform="rotate(98 1340 317)"/><ellipse cx="1311" cy="325" rx="12.2" ry="6.6" transform="rotate(24 1311 325)"/><ellipse cx="1301" cy="417" rx="16.0" ry="8.7" transform="rotate(1 1301 417)"/><ellipse cx="1266" cy="477" rx="8.9" ry="4.9" transform="rotate(86 1266 477)"/><ellipse cx="1271" cy="449" rx="18.3" ry="9.9" transform="rotate(155 1271 449)"/><ellipse cx="1350" cy="406" rx="7.8" ry="4.3" transform="rotate(67 1350 406)"/><ellipse cx="1370" cy="527" rx="10.7" ry="5.8" transform="rotate(23 1370 527)"/><ellipse cx="1309" cy="536" rx="16.3" ry="8.9" transform="rotate(82 1309 536)"/><ellipse cx="1299" cy="559" rx="8.0" ry="4.4" transform="rotate(37 1299 559)"/><ellipse cx="1293" cy="337" rx="8.7" ry="4.7" transform="rotate(11 1293 337)"/><ellipse cx="1255" cy="445" rx="7.7" ry="4.2" transform="rotate(78 1255 445)"/><ellipse cx="1316" cy="490" rx="9.6" ry="5.2" transform="rotate(51 1316 490)"/><ellipse cx="1293" cy="459" rx="14.9" ry="8.1" transform="rotate(158 1293 459)"/><ellipse cx="1311" cy="416" rx="15.3" ry="8.3" transform="rotate(114 1311 416)"/><ellipse cx="1369" cy="454" rx="15.3" ry="8.3" transform="rotate(171 1369 454)"/><ellipse cx="1374" cy="404" rx="14.6" ry="7.9" transform="rotate(172 1374 404)"/><ellipse cx="1333" cy="546" rx="8.2" ry="4.5" transform="rotate(139 1333 546)"/><ellipse cx="1299" cy="397" rx="9.9" ry="5.4" transform="rotate(94 1299 397)"/><ellipse cx="1320" cy="398" rx="11.4" ry="6.2" transform="rotate(92 1320 398)"/><ellipse cx="1314" cy="581" rx="16.2" ry="8.8" transform="rotate(171 1314 581)"/><ellipse cx="1278" cy="360" rx="10.9" ry="5.9" transform="rotate(90 1278 360)"/><ellipse cx="1270" cy="491" rx="8.2" ry="4.5" transform="rotate(152 1270 491)"/><ellipse cx="1350" cy="528" rx="18.7" ry="10.2" transform="rotate(92 1350 528)"/><ellipse cx="1347" cy="397" rx="13.1" ry="7.1" transform="rotate(68 1347 397)"/><ellipse cx="1298" cy="525" rx="12.8" ry="7.0" transform="rotate(151 1298 525)"/><ellipse cx="1344" cy="442" rx="15.5" ry="8.4" transform="rotate(95 1344 442)"/><ellipse cx="1306" cy="464" rx="11.8" ry="6.4" transform="rotate(57 1306 464)"/><ellipse cx="1278" cy="529" rx="11.9" ry="6.5" transform="rotate(53 1278 529)"/><ellipse cx="1307" cy="586" rx="12.2" ry="6.6" transform="rotate(175 1307 586)"/><ellipse cx="1352" cy="548" rx="14.2" ry="7.7" transform="rotate(127 1352 548)"/><ellipse cx="1245" cy="438" rx="14.6" ry="7.9" transform="rotate(8 1245 438)"/><ellipse cx="1294" cy="350" rx="10.4" ry="5.7" transform="rotate(131 1294 350)"/></g><g fill="#12007a" opacity="0.75"><ellipse cx="1441" cy="596" rx="16.7" ry="9.1" transform="rotate(162 1441 596)"/><ellipse cx="1397" cy="659" rx="18.4" ry="10.0" transform="rotate(156 1397 659)"/><ellipse cx="1377" cy="610" rx="12.4" ry="6.8" transform="rotate(178 1377 610)"/><ellipse cx="1427" cy="637" rx="18.9" ry="10.3" transform="rotate(80 1427 637)"/><ellipse cx="1408" cy="647" rx="18.4" ry="10.0" transform="rotate(60 1408 647)"/><ellipse cx="1357" cy="637" rx="17.2" ry="9.3" transform="rotate(88 1357 637)"/><ellipse cx="1439" cy="638" rx="7.9" ry="4.3" transform="rotate(17 1439 638)"/><ellipse cx="1418" cy="658" rx="10.9" ry="5.9" transform="rotate(124 1418 658)"/><ellipse cx="1410" cy="634" rx="7.8" ry="4.2" transform="rotate(127 1410 634)"/><ellipse cx="1417" cy="601" rx="10.4" ry="5.6" transform="rotate(2 1417 601)"/><ellipse cx="1379" cy="598" rx="9.1" ry="5.0" transform="rotate(116 1379 598)"/><ellipse cx="1367" cy="600" rx="9.3" ry="5.1" transform="rotate(114 1367 600)"/></g></g></g>
<g clip-path="url(#cB22)"><g transform="translate(860,375) scale(0.16218)" filter="url(#bM)"><ellipse cx="300" cy="360" rx="190" ry="190" fill="#ff2a10" opacity="0.22" filter="url(#bH)"/><ellipse cx="690" cy="660" rx="180" ry="190" fill="#ff2a10" opacity="0.25" filter="url(#bH)"/><g fill="#ff2a10"><ellipse cx="401" cy="360" rx="11.3" ry="9.2" transform="rotate(128 401 360)"/><ellipse cx="476" cy="399" rx="12.6" ry="10.2" transform="rotate(131 476 399)"/><ellipse cx="446" cy="413" rx="10.0" ry="8.1" transform="rotate(179 446 413)"/><ellipse cx="439" cy="373" rx="12.6" ry="10.2" transform="rotate(30 439 373)"/><ellipse cx="416" cy="486" rx="10.3" ry="8.3" transform="rotate(24 416 486)"/><ellipse cx="395" cy="425" rx="10.7" ry="8.6" transform="rotate(118 395 425)"/><ellipse cx="452" cy="427" rx="10.5" ry="8.5" transform="rotate(16 452 427)"/><ellipse cx="424" cy="366" rx="11.2" ry="9.1" transform="rotate(44 424 366)"/><ellipse cx="448" cy="335" rx="11.3" ry="9.1" transform="rotate(148 448 335)"/><ellipse cx="443" cy="494" rx="13.6" ry="11.0" transform="rotate(41 443 494)"/><ellipse cx="446" cy="445" rx="12.3" ry="10.0" transform="rotate(147 446 445)"/><ellipse cx="476" cy="454" rx="11.0" ry="8.9" transform="rotate(59 476 454)"/><ellipse cx="443" cy="497" rx="9.8" ry="8.0" transform="rotate(165 443 497)"/><ellipse cx="452" cy="506" rx="12.1" ry="9.9" transform="rotate(118 452 506)"/><ellipse cx="400" cy="442" rx="13.5" ry="11.0" transform="rotate(31 400 442)"/><ellipse cx="449" cy="487" rx="12.6" ry="10.2" transform="rotate(76 449 487)"/><ellipse cx="428" cy="449" rx="9.8" ry="7.9" transform="rotate(117 428 449)"/><ellipse cx="444" cy="503" rx="10.3" ry="8.3" transform="rotate(55 444 503)"/><ellipse cx="458" cy="527" rx="12.1" ry="9.8" transform="rotate(87 458 527)"/><ellipse cx="446" cy="529" rx="11.8" ry="9.6" transform="rotate(24 446 529)"/><ellipse cx="462" cy="527" rx="10.7" ry="8.7" transform="rotate(73 462 527)"/><ellipse cx="482" cy="488" rx="10.3" ry="8.4" transform="rotate(101 482 488)"/><ellipse cx="433" cy="350" rx="10.9" ry="8.9" transform="rotate(46 433 350)"/><ellipse cx="430" cy="377" rx="12.0" ry="9.8" transform="rotate(172 430 377)"/><ellipse cx="479" cy="388" rx="11.9" ry="9.7" transform="rotate(28 479 388)"/><ellipse cx="460" cy="333" rx="10.8" ry="8.8" transform="rotate(11 460 333)"/><ellipse cx="404" cy="415" rx="13.1" ry="10.6" transform="rotate(135 404 415)"/><ellipse cx="403" cy="463" rx="11.4" ry="9.3" transform="rotate(119 403 463)"/><ellipse cx="411" cy="361" rx="10.2" ry="8.3" transform="rotate(144 411 361)"/><ellipse cx="466" cy="448" rx="11.8" ry="9.5" transform="rotate(4 466 448)"/></g><g fill="#ff2a10" opacity="0.9"><ellipse cx="145" cy="340" rx="12.3" ry="10.0" transform="rotate(2 145 340)"/><ellipse cx="150" cy="385" rx="11.3" ry="9.2" transform="rotate(28 150 385)"/><ellipse cx="140" cy="445" rx="12.4" ry="10.0" transform="rotate(3 140 445)"/><ellipse cx="180" cy="275" rx="11.9" ry="9.7" transform="rotate(122 180 275)"/><ellipse cx="220" cy="295" rx="11.8" ry="9.6" transform="rotate(179 220 295)"/><ellipse cx="270" cy="180" rx="9.3" ry="7.5" transform="rotate(60 270 180)"/><ellipse cx="415" cy="195" rx="11.2" ry="9.1" transform="rotate(50 415 195)"/></g><g fill="#ff2a10"><ellipse cx="510" cy="650" rx="11.9" ry="9.7" transform="rotate(86 510 650)"/><ellipse cx="515" cy="680" rx="12.2" ry="9.9" transform="rotate(80 515 680)"/><ellipse cx="525" cy="715" rx="12.2" ry="9.9" transform="rotate(118 525 715)"/><ellipse cx="550" cy="745" rx="11.4" ry="9.3" transform="rotate(114 550 745)"/><ellipse cx="580" cy="775" rx="10.2" ry="8.2" transform="rotate(54 580 775)"/><ellipse cx="590" cy="805" rx="11.8" ry="9.6" transform="rotate(25 590 805)"/><ellipse cx="620" cy="810" rx="13.9" ry="11.3" transform="rotate(55 620 810)"/><ellipse cx="670" cy="820" rx="14.1" ry="11.4" transform="rotate(172 670 820)"/><ellipse cx="730" cy="830" rx="11.4" ry="9.2" transform="rotate(160 730 830)"/><ellipse cx="760" cy="825" rx="14.2" ry="11.5" transform="rotate(120 760 825)"/><ellipse cx="820" cy="780" rx="10.3" ry="8.3" transform="rotate(82 820 780)"/><ellipse cx="740" cy="490" rx="13.3" ry="10.8" transform="rotate(53 740 490)"/><ellipse cx="715" cy="465" rx="11.3" ry="9.1" transform="rotate(55 715 465)"/><ellipse cx="530" cy="620" rx="11.4" ry="9.3" transform="rotate(141 530 620)"/></g><ellipse cx="735" cy="580" rx="22" ry="10" fill="#ff2a10" transform="rotate(-30 735 580)"/><path d="M290 270C297.5 255.83 311.67 227.5 330 215C348.33 202.5 380 195 400 195C420 195 436.67 203.33 450 215C463.33 226.67 477.5 247.5 480 265C482.5 282.5 475 302.5 465 320C455 337.5 434.17 355 420 370C405.83 385 387.5 393.33 380 410C372.5 426.67 380 450 375 470C370 490 364.17 516.67 350 530C335.83 543.33 308.33 550.83 290 550C271.67 549.17 250.33 538.33 240 525C229.67 511.67 226.33 489.17 228 470C229.67 450.83 240.5 430 250 410C259.5 390 279.17 368.33 285 350C290.83 331.67 284.17 313.33 285 300C285.83 286.67 282.5 284.17 290 270Z" fill="#2d0cff"/><path d="M525 600C530 588.33 545.83 571.67 560 570C574.17 568.33 591.67 581.67 610 590C628.33 598.33 648.33 612.5 670 620C691.67 627.5 715 633.33 740 635C765 636.67 800 625.83 820 630C840 634.17 852.5 645 860 660C867.5 675 868.33 701.67 865 720C861.67 738.33 854.17 759.17 840 770C825.83 780.83 803.33 785 780 785C756.67 785 723.33 774.17 700 770C676.67 765.83 656.67 763.33 640 760C623.33 756.67 613.33 761.67 600 750C586.67 738.33 571.67 708.33 560 690C548.33 671.67 535.83 655 530 640C524.17 625 520 611.67 525 600Z" fill="#2d0cff"/><g fill="#12007a" opacity="0.75"><ellipse cx="395" cy="332" rx="15.1" ry="8.2" transform="rotate(86 395 332)"/><ellipse cx="381" cy="342" rx="17.2" ry="9.4" transform="rotate(92 381 342)"/><ellipse cx="340" cy="289" rx="7.5" ry="4.1" transform="rotate(66 340 289)"/><ellipse cx="356" cy="281" rx="17.0" ry="9.3" transform="rotate(41 356 281)"/><ellipse cx="371" cy="302" rx="19.5" ry="10.6" transform="rotate(132 371 302)"/><ellipse cx="403" cy="256" rx="7.9" ry="4.3" transform="rotate(59 403 256)"/><ellipse cx="349" cy="290" rx="18.9" ry="10.3" transform="rotate(66 349 290)"/><ellipse cx="400" cy="334" rx="9.0" ry="4.9" transform="rotate(167 400 334)"/><ellipse cx="327" cy="302" rx="11.6" ry="6.3" transform="rotate(87 327 302)"/><ellipse cx="374" cy="300" rx="17.9" ry="9.7" transform="rotate(42 374 300)"/><ellipse cx="375" cy="263" rx="19.1" ry="10.4" transform="rotate(160 375 263)"/><ellipse cx="371" cy="237" rx="14.5" ry="7.9" transform="rotate(131 371 237)"/><ellipse cx="399" cy="318" rx="17.4" ry="9.5" transform="rotate(36 399 318)"/><ellipse cx="420" cy="263" rx="12.4" ry="6.8" transform="rotate(65 420 263)"/></g><g fill="#12007a" opacity="0.75"><ellipse cx="309" cy="465" rx="7.8" ry="4.2" transform="rotate(179 309 465)"/><ellipse cx="300" cy="485" rx="15.3" ry="8.3" transform="rotate(62 300 485)"/><ellipse cx="309" cy="454" rx="19.0" ry="10.3" transform="rotate(57 309 454)"/><ellipse cx="263" cy="441" rx="15.7" ry="8.6" transform="rotate(166 263 441)"/><ellipse cx="292" cy="459" rx="18.1" ry="9.8" transform="rotate(106 292 459)"/><ellipse cx="288" cy="490" rx="17.7" ry="9.6" transform="rotate(104 288 490)"/><ellipse cx="327" cy="453" rx="19.0" ry="10.4" transform="rotate(101 327 453)"/><ellipse cx="285" cy="432" rx="10.6" ry="5.8" transform="rotate(172 285 432)"/><ellipse cx="281" cy="510" rx="19.0" ry="10.3" transform="rotate(117 281 510)"/><ellipse cx="317" cy="505" rx="15.5" ry="8.4" transform="rotate(33 317 505)"/></g><g fill="#12007a" opacity="0.75"><ellipse cx="804" cy="677" rx="18.2" ry="9.9" transform="rotate(15 804 677)"/><ellipse cx="634" cy="682" rx="13.9" ry="7.5" transform="rotate(23 634 682)"/><ellipse cx="728" cy="731" rx="10.2" ry="5.5" transform="rotate(81 728 731)"/><ellipse cx="734" cy="702" rx="16.0" ry="8.7" transform="rotate(75 734 702)"/><ellipse cx="597" cy="696" rx="11.8" ry="6.4" transform="rotate(10 597 696)"/><ellipse cx="719" cy="662" rx="15.4" ry="8.4" transform="rotate(111 719 662)"/><ellipse cx="771" cy="694" rx="16.6" ry="9.0" transform="rotate(66 771 694)"/><ellipse cx="612" cy="682" rx="11.3" ry="6.1" transform="rotate(15 612 682)"/><ellipse cx="599" cy="706" rx="14.6" ry="7.9" transform="rotate(80 599 706)"/><ellipse cx="667" cy="683" rx="9.6" ry="5.2" transform="rotate(58 667 683)"/><ellipse cx="721" cy="679" rx="8.9" ry="4.8" transform="rotate(17 721 679)"/><ellipse cx="761" cy="706" rx="14.4" ry="7.8" transform="rotate(147 761 706)"/><ellipse cx="664" cy="726" rx="11.0" ry="6.0" transform="rotate(54 664 726)"/><ellipse cx="715" cy="663" rx="10.6" ry="5.8" transform="rotate(19 715 663)"/><ellipse cx="721" cy="658" rx="17.4" ry="9.5" transform="rotate(42 721 658)"/><ellipse cx="589" cy="686" rx="14.6" ry="8.0" transform="rotate(170 589 686)"/><ellipse cx="758" cy="742" rx="8.2" ry="4.4" transform="rotate(74 758 742)"/><ellipse cx="806" cy="706" rx="15.7" ry="8.6" transform="rotate(175 806 706)"/><ellipse cx="739" cy="654" rx="14.0" ry="7.6" transform="rotate(177 739 654)"/><ellipse cx="699" cy="670" rx="19.2" ry="10.4" transform="rotate(67 699 670)"/><ellipse cx="711" cy="712" rx="13.1" ry="7.1" transform="rotate(35 711 712)"/><ellipse cx="806" cy="680" rx="10.1" ry="5.5" transform="rotate(18 806 680)"/></g></g></g>
<g clip-path="url(#cB23)"><g transform="translate(860,375) scale(0.16218)" filter="url(#bM)"><g fill="#ff2a10" opacity="0.55"><ellipse cx="1370" cy="375" rx="9.3" ry="7.5" transform="rotate(145 1370 375)"/><ellipse cx="1270" cy="495" rx="10.9" ry="8.8" transform="rotate(52 1270 495)"/><ellipse cx="1300" cy="460" rx="10.2" ry="8.3" transform="rotate(126 1300 460)"/><ellipse cx="1480" cy="400" rx="9.8" ry="7.9" transform="rotate(19 1480 400)"/><ellipse cx="1390" cy="480" rx="7.5" ry="6.0" transform="rotate(69 1390 480)"/><ellipse cx="1295" cy="605" rx="10.1" ry="8.2" transform="rotate(45 1295 605)"/><ellipse cx="1440" cy="385" rx="9.2" ry="7.5" transform="rotate(57 1440 385)"/><ellipse cx="1320" cy="430" rx="10.5" ry="8.5" transform="rotate(170 1320 430)"/></g><ellipse cx="1435" cy="565" rx="130" ry="105" fill="#2d0cff"/><g fill="#12007a" opacity="0.75"><ellipse cx="1410" cy="540" rx="9.7" ry="5.3" transform="rotate(179 1410 540)"/><ellipse cx="1455" cy="623" rx="8.6" ry="4.7" transform="rotate(136 1455 623)"/><ellipse cx="1473" cy="619" rx="16.2" ry="8.8" transform="rotate(137 1473 619)"/><ellipse cx="1351" cy="601" rx="19.4" ry="10.5" transform="rotate(20 1351 601)"/><ellipse cx="1342" cy="579" rx="16.4" ry="8.9" transform="rotate(79 1342 579)"/><ellipse cx="1400" cy="630" rx="8.5" ry="4.6" transform="rotate(136 1400 630)"/><ellipse cx="1449" cy="568" rx="11.4" ry="6.2" transform="rotate(54 1449 568)"/><ellipse cx="1377" cy="577" rx="18.2" ry="9.9" transform="rotate(166 1377 577)"/><ellipse cx="1395" cy="628" rx="8.3" ry="4.5" transform="rotate(17 1395 628)"/><ellipse cx="1389" cy="546" rx="17.3" ry="9.4" transform="rotate(178 1389 546)"/><ellipse cx="1459" cy="565" rx="16.4" ry="8.9" transform="rotate(166 1459 565)"/><ellipse cx="1482" cy="604" rx="9.4" ry="5.1" transform="rotate(25 1482 604)"/><ellipse cx="1356" cy="590" rx="19.2" ry="10.4" transform="rotate(23 1356 590)"/><ellipse cx="1340" cy="583" rx="16.7" ry="9.1" transform="rotate(95 1340 583)"/><ellipse cx="1433" cy="624" rx="10.6" ry="5.8" transform="rotate(115 1433 624)"/><ellipse cx="1396" cy="559" rx="17.0" ry="9.3" transform="rotate(72 1396 559)"/><ellipse cx="1349" cy="593" rx="10.5" ry="5.7" transform="rotate(33 1349 593)"/><ellipse cx="1377" cy="570" rx="18.0" ry="9.8" transform="rotate(44 1377 570)"/><ellipse cx="1415" cy="593" rx="12.9" ry="7.0" transform="rotate(56 1415 593)"/><ellipse cx="1355" cy="598" rx="7.9" ry="4.3" transform="rotate(178 1355 598)"/><ellipse cx="1410" cy="541" rx="14.0" ry="7.6" transform="rotate(103 1410 541)"/><ellipse cx="1382" cy="601" rx="10.1" ry="5.5" transform="rotate(54 1382 601)"/></g></g></g>
<text x="630.9" y="58.9" font-size="29.3" text-anchor="middle">Pro</text>
<text x="786.2" y="58.9" font-size="29.3" text-anchor="middle">Baso</text>
<text x="941.6" y="58.9" font-size="29.3" text-anchor="middle">Poly</text>
<text x="1096.9" y="58.9" font-size="29.3" text-anchor="middle">Ortho</text>
<text x="548.2" y="136.6" font-size="34.2" text-anchor="end">shRNA-</text>
<text x="548.2" y="178" font-size="34.2" text-anchor="end">Luciferase</text>
<text x="548.2" y="293.5" font-size="34.2" text-anchor="end">shRNA-</text>
<text x="548.2" y="335" font-size="34.2" text-anchor="end">PIM1#1</text>
<text x="548.2" y="450.5" font-size="34.2" text-anchor="end">shRNA-</text>
<text x="548.2" y="492" font-size="34.2" text-anchor="end">PIM1#2</text>
<rect x="1019.9" y="67.9" width="154.5" height="469.5" fill="none" stroke="#fb2212" stroke-width="4.5"/>
<rect x="1109.3" y="523.9" width="57.7" height="5.5" fill="#fff"/>
</g>
<g id="pBc">
<path d="M1343.76 498.8V290H1376.89V498.8" fill="#fff" stroke="#000" stroke-width="3" stroke-linejoin="miter"/>
<path d="M1389.38 498.8V300.04H1422.51V498.8" fill="#fff" stroke="#000" stroke-width="3" stroke-linejoin="miter"/>
<path d="M1434.64 498.8V304.6H1467.77V498.8" fill="#fff" stroke="#000" stroke-width="3" stroke-linejoin="miter"/>
<path d="M1516.76 498.8V290H1549.89V498.8" fill="#fff" stroke="#000" stroke-width="3" stroke-linejoin="miter"/>
<path d="M1562.01 498.8V301.32H1595.14V498.8" fill="#fff" stroke="#000" stroke-width="3" stroke-linejoin="miter"/>
<path d="M1607.45 498.8V299.49H1640.58V498.8" fill="#fff" stroke="#000" stroke-width="3" stroke-linejoin="miter"/>
<path d="M1689.32 498.8V289.67H1722.77V498.8" fill="#fff" stroke="#000" stroke-width="3" stroke-linejoin="miter"/>
<path d="M1734.41 498.8V310.77H1768.25V498.8" fill="#fff" stroke="#000" stroke-width="3" stroke-linejoin="miter"/>
<path d="M1780.07 498.8V305.4H1813.53V498.8" fill="#fff" stroke="#000" stroke-width="3" stroke-linejoin="miter"/>
<path d="M1862 498.8V289.67H1895.07V498.8" fill="#fff" stroke="#000" stroke-width="3" stroke-linejoin="miter"/>
<path d="M1907.47 498.8V369.67H1940.54V498.8" fill="#fff" stroke="#000" stroke-width="3" stroke-linejoin="miter"/>
<path d="M1952.75 498.8V402.29H1986.21V498.8" fill="#fff" stroke="#000" stroke-width="3" stroke-linejoin="miter"/>
<g fill="#0a05fb"><circle cx="1356.13" cy="241.61" r="6.3"/><circle cx="1364.34" cy="239.6" r="6.3"/><circle cx="1372.55" cy="260.77" r="6.3"/><circle cx="1348.28" cy="266.97" r="6.3"/><circle cx="1356.13" cy="266.97" r="6.3"/><circle cx="1364.34" cy="269.34" r="6.3"/><circle cx="1356.13" cy="303.1" r="6.3"/><circle cx="1364.34" cy="300.91" r="6.3"/><circle cx="1356.13" cy="319.53" r="6.3"/><circle cx="1364.34" cy="317.7" r="6.3"/><circle cx="1356.13" cy="336.86" r="6.3"/><circle cx="1364.34" cy="334.67" r="6.3"/></g>
<g fill="#fb2a15"><circle cx="1405.77" cy="262.59" r="6.3"/><circle cx="1417.99" cy="271.17" r="6.3"/><circle cx="1393.72" cy="277.55" r="6.3"/><circle cx="1405.77" cy="281.57" r="6.3"/><circle cx="1393.72" cy="292.52" r="6.3"/><circle cx="1417.99" cy="299.09" r="6.3"/><circle cx="1393.72" cy="304.93" r="6.3"/><circle cx="1417.99" cy="311.31" r="6.3"/><circle cx="1405.77" cy="321.72" r="6.3"/><circle cx="1417.99" cy="328.28" r="6.3"/><circle cx="1393.72" cy="339.05" r="6.3"/><circle cx="1405.77" cy="294.89" r="6.3"/></g>
<g fill="#47e21c"><circle cx="1451.2" cy="266.61" r="6.3"/><circle cx="1439.34" cy="275.18" r="6.3"/><circle cx="1463.43" cy="281.57" r="6.3"/><circle cx="1451.2" cy="285.77" r="6.3"/><circle cx="1439.34" cy="296.17" r="6.3"/><circle cx="1463.43" cy="303.1" r="6.3"/><circle cx="1439.34" cy="309.49" r="6.3"/><circle cx="1463.43" cy="315.33" r="6.3"/><circle cx="1451.2" cy="325.91" r="6.3"/><circle cx="1463.43" cy="332.66" r="6.3"/><circle cx="1439.34" cy="343.25" r="6.3"/><circle cx="1451.2" cy="299.45" r="6.3"/></g>
<g fill="#0a05fb"><circle cx="1538.98" cy="243.8" r="6.3"/><circle cx="1526.75" cy="249.82" r="6.3"/><circle cx="1520.91" cy="262.59" r="6.3"/><circle cx="1545" cy="269.34" r="6.3"/><circle cx="1532.96" cy="272.99" r="6.3"/><circle cx="1520.91" cy="279.74" r="6.3"/><circle cx="1545" cy="296.72" r="6.3"/><circle cx="1532.96" cy="300.91" r="6.3"/><circle cx="1520.91" cy="304.93" r="6.3"/><circle cx="1545" cy="311.31" r="6.3"/><circle cx="1532.96" cy="324.09" r="6.3"/><circle cx="1532.96" cy="341.06" r="6.3"/></g>
<g fill="#fb2a15"><circle cx="1578.21" cy="237.59" r="6.3"/><circle cx="1582.23" cy="260.77" r="6.3"/><circle cx="1574.2" cy="269.34" r="6.3"/><circle cx="1582.23" cy="277.55" r="6.3"/><circle cx="1575.47" cy="300.36" r="6.3"/><circle cx="1582.23" cy="299.45" r="6.3"/><circle cx="1582.23" cy="313.5" r="6.3"/><circle cx="1566.35" cy="319.89" r="6.3"/><circle cx="1574.2" cy="324.09" r="6.3"/><circle cx="1590.26" cy="328.28" r="6.3"/><circle cx="1566.35" cy="334.67" r="6.3"/><circle cx="1582.23" cy="332.66" r="6.3"/></g>
<g fill="#47e21c"><circle cx="1623.65" cy="241.61" r="6.3"/><circle cx="1611.97" cy="264.78" r="6.3"/><circle cx="1619.82" cy="272.99" r="6.3"/><circle cx="1635.88" cy="273.36" r="6.3"/><circle cx="1611.97" cy="279.74" r="6.3"/><circle cx="1627.66" cy="281.57" r="6.3"/><circle cx="1611.97" cy="315.51" r="6.3"/><circle cx="1627.66" cy="319.89" r="6.3"/><circle cx="1635.88" cy="317.7" r="6.3"/><circle cx="1611.97" cy="328.28" r="6.3"/><circle cx="1627.66" cy="332.66" r="6.3"/><circle cx="1619.82" cy="341.06" r="6.3"/></g>
<g fill="#0a05fb"><circle cx="1706.05" cy="222.74" r="6.3"/><circle cx="1693.96" cy="239.24" r="6.3"/><circle cx="1717.94" cy="250.18" r="6.3"/><circle cx="1693.96" cy="258.43" r="6.3"/><circle cx="1717.94" cy="268.98" r="6.3"/><circle cx="1693.96" cy="277.42" r="6.3"/><circle cx="1717.94" cy="298.72" r="6.3"/><circle cx="1693.96" cy="304.86" r="6.3"/><circle cx="1717.94" cy="315.41" r="6.3"/><circle cx="1693.96" cy="319.82" r="6.3"/><circle cx="1706.05" cy="334.6" r="6.3"/><circle cx="1706.05" cy="366.25" r="6.3"/></g>
<g fill="#fb2a15"><circle cx="1751.33" cy="262.65" r="6.3"/><circle cx="1763.61" cy="271.28" r="6.3"/><circle cx="1751.33" cy="277.42" r="6.3"/><circle cx="1739.24" cy="294.31" r="6.3"/><circle cx="1751.33" cy="302.94" r="6.3"/><circle cx="1739.24" cy="307.35" r="6.3"/><circle cx="1763.61" cy="311.57" r="6.3"/><circle cx="1739.24" cy="319.82" r="6.3"/><circle cx="1763.61" cy="325.96" r="6.3"/><circle cx="1751.33" cy="336.52" r="6.3"/><circle cx="1763.61" cy="347.07" r="6.3"/><circle cx="1739.24" cy="355.7" r="6.3"/></g>
<g fill="#47e21c"><circle cx="1792.39" cy="262.65" r="6.3"/><circle cx="1800.64" cy="271.28" r="6.3"/><circle cx="1792.39" cy="277.42" r="6.3"/><circle cx="1808.7" cy="292.39" r="6.3"/><circle cx="1784.71" cy="298.72" r="6.3"/><circle cx="1792.39" cy="302.94" r="6.3"/><circle cx="1808.7" cy="307.35" r="6.3"/><circle cx="1800.64" cy="319.82" r="6.3"/><circle cx="1792.39" cy="325.96" r="6.3"/><circle cx="1800.64" cy="336.52" r="6.3"/><circle cx="1796.61" cy="349.56" r="6.3"/><circle cx="1796.61" cy="301.98" r="6.3"/></g>
<g fill="#0a05fb"><circle cx="1878.34" cy="243.84" r="6.3"/><circle cx="1866.45" cy="258.43" r="6.3"/><circle cx="1890.62" cy="261.69" r="6.3"/><circle cx="1882.56" cy="266.87" r="6.3"/><circle cx="1874.5" cy="275.12" r="6.3"/><circle cx="1882.56" cy="280.87" r="6.3"/><circle cx="1874.5" cy="301.02" r="6.3"/><circle cx="1882.56" cy="303.9" r="6.3"/><circle cx="1890.62" cy="307.35" r="6.3"/><circle cx="1866.45" cy="312.53" r="6.3"/><circle cx="1882.56" cy="318.29" r="6.3"/><circle cx="1874.5" cy="327.88" r="6.3"/></g>
<g fill="#fb2a15"><circle cx="1924.2" cy="311.57" r="6.3"/><circle cx="1911.92" cy="325.96" r="6.3"/><circle cx="1924.2" cy="334.6" r="6.3"/><circle cx="1936.29" cy="357.62" r="6.3"/><circle cx="1924.2" cy="363.38" r="6.3"/><circle cx="1911.92" cy="366.25" r="6.3"/><circle cx="1936.29" cy="370.67" r="6.3"/><circle cx="1924.2" cy="374.89" r="6.3"/><circle cx="1911.92" cy="383.52" r="6.3"/><circle cx="1936.29" cy="391.2" r="6.3"/><circle cx="1929.95" cy="410.38" r="6.3"/><circle cx="1917.67" cy="418.63" r="6.3"/></g>
<g fill="#47e21c"><circle cx="1969.29" cy="328.27" r="6.3"/><circle cx="1969.29" cy="347.07" r="6.3"/><circle cx="1969.29" cy="362.03" r="6.3"/><circle cx="1981.37" cy="389.28" r="6.3"/><circle cx="1969.29" cy="395.03" r="6.3"/><circle cx="1957.39" cy="397.91" r="6.3"/><circle cx="1981.37" cy="408.47" r="6.3"/><circle cx="1969.29" cy="412.3" r="6.3"/><circle cx="1957.39" cy="420.94" r="6.3"/><circle cx="1981.37" cy="429.19" r="6.3"/><circle cx="1969.29" cy="452.98" r="6.3"/><circle cx="1969.29" cy="467.56" r="6.3"/></g>
<path d="M1351.58 278.47H1369.08M1360.33 278.47V290" fill="none" stroke="#000" stroke-width="3"/>
<path d="M1397.2 291.79H1414.7M1405.95 291.79V300.04" fill="none" stroke="#000" stroke-width="3"/>
<path d="M1442.45 296.17H1459.95M1451.2 296.17V304.6" fill="none" stroke="#000" stroke-width="3"/>
<path d="M1524.57 279.56H1542.07M1533.32 279.56V290" fill="none" stroke="#000" stroke-width="3"/>
<path d="M1569.83 290.69H1587.33M1578.58 290.69V301.32" fill="none" stroke="#000" stroke-width="3"/>
<path d="M1615.26 288.14H1632.76M1624.01 288.14V299.49" fill="none" stroke="#000" stroke-width="3"/>
<path d="M1697.3 275.69H1714.8M1706.05 275.69V289.67" fill="none" stroke="#000" stroke-width="3"/>
<path d="M1742.58 300.64H1760.08M1751.33 300.64V310.77" fill="none" stroke="#000" stroke-width="3"/>
<path d="M1788.05 296.22H1805.55M1796.8 296.22V305.4" fill="none" stroke="#000" stroke-width="3"/>
<path d="M1869.78 280.3H1887.28M1878.53 280.3V289.67" fill="none" stroke="#000" stroke-width="3"/>
<path d="M1915.26 357.24H1932.76M1924.01 357.24V369.67" fill="none" stroke="#000" stroke-width="3"/>
<path d="M1960.73 388.89H1978.23M1969.48 388.89V402.29" fill="none" stroke="#000" stroke-width="3"/>
<line x1="1333" y1="74.5" x2="1333" y2="500.3" stroke="#000" stroke-width="3"/>
<line x1="1320.5" y1="498.8" x2="1998" y2="498.8" stroke="#000" stroke-width="3"/>
<text x="1316.3" y="509.7" font-size="29.4" text-anchor="end">0.0</text>
<line x1="1320.5" y1="393.1" x2="1333" y2="393.1" stroke="#000" stroke-width="3"/>
<text x="1316.3" y="404" font-size="29.4" text-anchor="end">0.5</text>
<line x1="1320.5" y1="287.4" x2="1333" y2="287.4" stroke="#000" stroke-width="3"/>
<text x="1316.3" y="298.3" font-size="29.4" text-anchor="end">1.0</text>
<line x1="1320.5" y1="181.7" x2="1333" y2="181.7" stroke="#000" stroke-width="3"/>
<text x="1316.3" y="192.6" font-size="29.4" text-anchor="end">1.5</text>
<line x1="1320.5" y1="76" x2="1333" y2="76" stroke="#000" stroke-width="3"/>
<text x="1316.3" y="86.9" font-size="29.4" text-anchor="end">2.0</text>
<line x1="1405.5" y1="498.8" x2="1405.5" y2="511.3" stroke="#000" stroke-width="3"/>
<text x="1405.5" y="541" font-size="29.4" text-anchor="middle">Pro</text>
<line x1="1578" y1="498.8" x2="1578" y2="511.3" stroke="#000" stroke-width="3"/>
<text x="1578" y="541" font-size="29.4" text-anchor="middle">Baso</text>
<line x1="1750.8" y1="498.8" x2="1750.8" y2="511.3" stroke="#000" stroke-width="3"/>
<text x="1750.8" y="541" font-size="29.4" text-anchor="middle">Poly</text>
<line x1="1923.8" y1="498.8" x2="1923.8" y2="511.3" stroke="#000" stroke-width="3"/>
<text x="1923.8" y="541" font-size="29.4" text-anchor="middle">Ortho</text>
<text transform="translate(1262.5,285) rotate(-90)" font-size="34.2" text-anchor="middle">Relative mitochondria mass</text>
<circle cx="1366.5" cy="88.7" r="6.3" fill="#0a05fb"/>
<text x="1400.5" y="98.7" font-size="29.8">shRNA-Luciferase</text>
<circle cx="1366.5" cy="129.6" r="6.3" fill="#fb2a15"/>
<text x="1400.5" y="139.6" font-size="29.8">shRNA-PIM1#1</text>
<circle cx="1366.5" cy="170.6" r="6.3" fill="#47e21c"/>
<text x="1400.5" y="180.6" font-size="29.8">shRNA-PIM1#2</text>
<line x1="1879.1" y1="192.7" x2="1969.3" y2="192.7" stroke="#000" stroke-width="4.6"/>
<line x1="1879.1" y1="224.7" x2="1923.8" y2="224.7" stroke="#000" stroke-width="4.6"/>
<text x="1924.2" y="196.2" font-size="28.3" text-anchor="middle">***</text>
<text x="1900.8" y="228.2" font-size="28.3" text-anchor="middle">***</text>
</g>
<g id="pC">
<text class="t" transform="translate(0.0,662.3) scale(0.93,1)" font-size="48" font-weight="bold">C</text>
<text x="309" y="684.9" font-size="29.8" text-anchor="middle">Pro</text>
<text x="436.7" y="684.9" font-size="29.8" text-anchor="middle">Baso</text>
<text x="578.7" y="684.9" font-size="29.8" text-anchor="middle">Poly</text>
<text x="697.5" y="684.9" font-size="29.8" text-anchor="middle">Ortho</text>
<text x="197" y="751.8" font-size="34.1" text-anchor="end">shRNA-</text>
<text x="197" y="792.3" font-size="34.1" text-anchor="end">Luciferase</text>
<text x="197" y="892.5" font-size="34.1" text-anchor="end">shRNA-</text>
<text x="197" y="933.5" font-size="34.1" text-anchor="end">PIM1#1</text>
<text x="197" y="1034.4" font-size="34.1" text-anchor="end">shRNA-</text>
<text x="197" y="1075" font-size="34.1" text-anchor="end">PIM1#2</text>
<line x1="212.2" y1="695.7" x2="212.2" y2="1007.3" stroke="#000" stroke-width="4"/>
<text transform="translate(223.5,1055.5) rotate(-90)" font-size="30.5" text-anchor="middle">Count</text>
<rect x="239.4" y="695.8" width="130.5" height="130.3" fill="#fff" stroke="#7a7a7a" stroke-width="0.8"/>
<rect x="375.3" y="695.8" width="130.5" height="130.3" fill="#fff" stroke="#7a7a7a" stroke-width="0.8"/>
<rect x="511" y="695.8" width="130.5" height="130.3" fill="#fff" stroke="#7a7a7a" stroke-width="0.8"/>
<rect x="649.3" y="695.8" width="130.5" height="130.3" fill="#fff" stroke="#7a7a7a" stroke-width="0.8"/>
<rect x="239.4" y="832.7" width="130.5" height="130.3" fill="#fff" stroke="#7a7a7a" stroke-width="0.8"/>
<rect x="375.3" y="832.7" width="130.5" height="130.3" fill="#fff" stroke="#7a7a7a" stroke-width="0.8"/>
<rect x="511" y="832.7" width="130.5" height="130.3" fill="#fff" stroke="#7a7a7a" stroke-width="0.8"/>
<rect x="649.3" y="832.7" width="130.5" height="130.3" fill="#fff" stroke="#7a7a7a" stroke-width="0.8"/>
<rect x="239.4" y="970.8" width="130.5" height="130.3" fill="#fff" stroke="#7a7a7a" stroke-width="0.8"/>
<rect x="375.3" y="970.8" width="130.5" height="130.3" fill="#fff" stroke="#7a7a7a" stroke-width="0.8"/>
<rect x="511" y="970.8" width="130.5" height="130.3" fill="#fff" stroke="#7a7a7a" stroke-width="0.8"/>
<rect x="649.3" y="970.8" width="130.5" height="130.3" fill="#fff" stroke="#7a7a7a" stroke-width="0.8"/>
<path d="M236 825.1h3.2M237.6 819.07h1.6M237.6 813.03h1.6M237.6 807h1.6M236 800.96h3.2M237.6 794.93h1.6M237.6 788.9h1.6M237.6 782.86h1.6M236 776.83h3.2M237.6 770.79h1.6M237.6 764.76h1.6M237.6 758.73h1.6M236 752.69h3.2M237.6 746.66h1.6M237.6 740.62h1.6M237.6 734.59h1.6M236 728.56h3.2M237.6 722.52h1.6M237.6 716.49h1.6M237.6 710.45h1.6M236 704.42h3.2M256.37 826.1v3.2M298.78 826.1v3.2M329.44 826.1v3.2M358.81 826.1v3.2M245.93 826.1v1.7M249.84 826.1v1.7M252.45 826.1v1.7M260.28 826.1v1.7M264.19 826.1v1.7M266.81 826.1v1.7M278.55 826.1v1.7M285.07 826.1v1.7M290.3 826.1v1.7M294.21 826.1v1.7M296.82 826.1v1.7M308.56 826.1v1.7M315.09 826.1v1.7M320.31 826.1v1.7M324.23 826.1v1.7M326.84 826.1v1.7M338.58 826.1v1.7M345.11 826.1v1.7M350.32 826.1v1.7M354.24 826.1v1.7M356.85 826.1v1.7M365.99 826.1v1.7M371.9 825.1h3.2M373.5 819.07h1.6M373.5 813.03h1.6M373.5 807h1.6M371.9 800.96h3.2M373.5 794.93h1.6M373.5 788.9h1.6M373.5 782.86h1.6M371.9 776.83h3.2M373.5 770.79h1.6M373.5 764.76h1.6M373.5 758.73h1.6M371.9 752.69h3.2M373.5 746.66h1.6M373.5 740.62h1.6M373.5 734.59h1.6M371.9 728.56h3.2M373.5 722.52h1.6M373.5 716.49h1.6M373.5 710.45h1.6M371.9 704.42h3.2M392.26 826.1v3.2M434.68 826.1v3.2M465.35 826.1v3.2M494.71 826.1v3.2M381.82 826.1v1.7M385.74 826.1v1.7M388.35 826.1v1.7M396.18 826.1v1.7M400.1 826.1v1.7M402.7 826.1v1.7M414.45 826.1v1.7M420.98 826.1v1.7M426.19 826.1v1.7M430.11 826.1v1.7M432.72 826.1v1.7M444.47 826.1v1.7M450.99 826.1v1.7M456.21 826.1v1.7M460.12 826.1v1.7M462.74 826.1v1.7M474.48 826.1v1.7M481 826.1v1.7M486.23 826.1v1.7M490.14 826.1v1.7M492.75 826.1v1.7M501.88 826.1v1.7M507.6 825.1h3.2M509.2 819.07h1.6M509.2 813.03h1.6M509.2 807h1.6M507.6 800.96h3.2M509.2 794.93h1.6M509.2 788.9h1.6M509.2 782.86h1.6M507.6 776.83h3.2M509.2 770.79h1.6M509.2 764.76h1.6M509.2 758.73h1.6M507.6 752.69h3.2M509.2 746.66h1.6M509.2 740.62h1.6M509.2 734.59h1.6M507.6 728.56h3.2M509.2 722.52h1.6M509.2 716.49h1.6M509.2 710.45h1.6M507.6 704.42h3.2M527.97 826.1v3.2M570.38 826.1v3.2M601.04 826.1v3.2M630.41 826.1v3.2M517.52 826.1v1.7M521.44 826.1v1.7M524.05 826.1v1.7M531.88 826.1v1.7M535.79 826.1v1.7M538.4 826.1v1.7M550.15 826.1v1.7M556.67 826.1v1.7M561.89 826.1v1.7M565.81 826.1v1.7M568.42 826.1v1.7M580.16 826.1v1.7M586.69 826.1v1.7M591.91 826.1v1.7M595.83 826.1v1.7M598.43 826.1v1.7M610.18 826.1v1.7M616.71 826.1v1.7M621.92 826.1v1.7M625.84 826.1v1.7M628.45 826.1v1.7M637.59 826.1v1.7M645.9 825.1h3.2M647.5 819.07h1.6M647.5 813.03h1.6M647.5 807h1.6M645.9 800.96h3.2M647.5 794.93h1.6M647.5 788.9h1.6M647.5 782.86h1.6M645.9 776.83h3.2M647.5 770.79h1.6M647.5 764.76h1.6M647.5 758.73h1.6M645.9 752.69h3.2M647.5 746.66h1.6M647.5 740.62h1.6M647.5 734.59h1.6M645.9 728.56h3.2M647.5 722.52h1.6M647.5 716.49h1.6M647.5 710.45h1.6M645.9 704.42h3.2M666.26 826.1v3.2M708.68 826.1v3.2M739.34 826.1v3.2M768.71 826.1v3.2M655.82 826.1v1.7M659.74 826.1v1.7M662.35 826.1v1.7M670.18 826.1v1.7M674.09 826.1v1.7M676.7 826.1v1.7M688.45 826.1v1.7M694.97 826.1v1.7M700.19 826.1v1.7M704.11 826.1v1.7M706.72 826.1v1.7M718.46 826.1v1.7M724.99 826.1v1.7M730.21 826.1v1.7M734.12 826.1v1.7M736.73 826.1v1.7M748.48 826.1v1.7M755 826.1v1.7M760.22 826.1v1.7M764.14 826.1v1.7M766.75 826.1v1.7M775.88 826.1v1.7M236 962h3.2M237.6 955.97h1.6M237.6 949.93h1.6M237.6 943.9h1.6M236 937.86h3.2M237.6 931.83h1.6M237.6 925.8h1.6M237.6 919.76h1.6M236 913.73h3.2M237.6 907.69h1.6M237.6 901.66h1.6M237.6 895.63h1.6M236 889.59h3.2M237.6 883.56h1.6M237.6 877.52h1.6M237.6 871.49h1.6M236 865.46h3.2M237.6 859.42h1.6M237.6 853.39h1.6M237.6 847.35h1.6M236 841.32h3.2M256.37 963v3.2M298.78 963v3.2M329.44 963v3.2M358.81 963v3.2M245.93 963v1.7M249.84 963v1.7M252.45 963v1.7M260.28 963v1.7M264.19 963v1.7M266.81 963v1.7M278.55 963v1.7M285.07 963v1.7M290.3 963v1.7M294.21 963v1.7M296.82 963v1.7M308.56 963v1.7M315.09 963v1.7M320.31 963v1.7M324.23 963v1.7M326.84 963v1.7M338.58 963v1.7M345.11 963v1.7M350.32 963v1.7M354.24 963v1.7M356.85 963v1.7M365.99 963v1.7M371.9 962h3.2M373.5 955.97h1.6M373.5 949.93h1.6M373.5 943.9h1.6M371.9 937.86h3.2M373.5 931.83h1.6M373.5 925.8h1.6M373.5 919.76h1.6M371.9 913.73h3.2M373.5 907.69h1.6M373.5 901.66h1.6M373.5 895.63h1.6M371.9 889.59h3.2M373.5 883.56h1.6M373.5 877.52h1.6M373.5 871.49h1.6M371.9 865.46h3.2M373.5 859.42h1.6M373.5 853.39h1.6M373.5 847.35h1.6M371.9 841.32h3.2M392.26 963v3.2M434.68 963v3.2M465.35 963v3.2M494.71 963v3.2M381.82 963v1.7M385.74 963v1.7M388.35 963v1.7M396.18 963v1.7M400.1 963v1.7M402.7 963v1.7M414.45 963v1.7M420.98 963v1.7M426.19 963v1.7M430.11 963v1.7M432.72 963v1.7M444.47 963v1.7M450.99 963v1.7M456.21 963v1.7M460.12 963v1.7M462.74 963v1.7M474.48 963v1.7M481 963v1.7M486.23 963v1.7M490.14 963v1.7M492.75 963v1.7M501.88 963v1.7M507.6 962h3.2M509.2 955.97h1.6M509.2 949.93h1.6M509.2 943.9h1.6M507.6 937.86h3.2M509.2 931.83h1.6M509.2 925.8h1.6M509.2 919.76h1.6M507.6 913.73h3.2M509.2 907.69h1.6M509.2 901.66h1.6M509.2 895.63h1.6M507.6 889.59h3.2M509.2 883.56h1.6M509.2 877.52h1.6M509.2 871.49h1.6M507.6 865.46h3.2M509.2 859.42h1.6M509.2 853.39h1.6M509.2 847.35h1.6M507.6 841.32h3.2M527.97 963v3.2M570.38 963v3.2M601.04 963v3.2M630.41 963v3.2M517.52 963v1.7M521.44 963v1.7M524.05 963v1.7M531.88 963v1.7M535.79 963v1.7M538.4 963v1.7M550.15 963v1.7M556.67 963v1.7M561.89 963v1.7M565.81 963v1.7M568.42 963v1.7M580.16 963v1.7M586.69 963v1.7M591.91 963v1.7M595.83 963v1.7M598.43 963v1.7M610.18 963v1.7M616.71 963v1.7M621.92 963v1.7M625.84 963v1.7M628.45 963v1.7M637.59 963v1.7M645.9 962h3.2M647.5 955.97h1.6M647.5 949.93h1.6M647.5 943.9h1.6M645.9 937.86h3.2M647.5 931.83h1.6M647.5 925.8h1.6M647.5 919.76h1.6M645.9 913.73h3.2M647.5 907.69h1.6M647.5 901.66h1.6M647.5 895.63h1.6M645.9 889.59h3.2M647.5 883.56h1.6M647.5 877.52h1.6M647.5 871.49h1.6M645.9 865.46h3.2M647.5 859.42h1.6M647.5 853.39h1.6M647.5 847.35h1.6M645.9 841.32h3.2M666.26 963v3.2M708.68 963v3.2M739.34 963v3.2M768.71 963v3.2M655.82 963v1.7M659.74 963v1.7M662.35 963v1.7M670.18 963v1.7M674.09 963v1.7M676.7 963v1.7M688.45 963v1.7M694.97 963v1.7M700.19 963v1.7M704.11 963v1.7M706.72 963v1.7M718.46 963v1.7M724.99 963v1.7M730.21 963v1.7M734.12 963v1.7M736.73 963v1.7M748.48 963v1.7M755 963v1.7M760.22 963v1.7M764.14 963v1.7M766.75 963v1.7M775.88 963v1.7M236 1100.1h3.2M237.6 1094.07h1.6M237.6 1088.03h1.6M237.6 1082h1.6M236 1075.96h3.2M237.6 1069.93h1.6M237.6 1063.9h1.6M237.6 1057.86h1.6M236 1051.83h3.2M237.6 1045.79h1.6M237.6 1039.76h1.6M237.6 1033.73h1.6M236 1027.69h3.2M237.6 1021.66h1.6M237.6 1015.62h1.6M237.6 1009.59h1.6M236 1003.56h3.2M237.6 997.52h1.6M237.6 991.49h1.6M237.6 985.45h1.6M236 979.42h3.2M256.37 1101.1v3.2M298.78 1101.1v3.2M329.44 1101.1v3.2M358.81 1101.1v3.2M245.93 1101.1v1.7M249.84 1101.1v1.7M252.45 1101.1v1.7M260.28 1101.1v1.7M264.19 1101.1v1.7M266.81 1101.1v1.7M278.55 1101.1v1.7M285.07 1101.1v1.7M290.3 1101.1v1.7M294.21 1101.1v1.7M296.82 1101.1v1.7M308.56 1101.1v1.7M315.09 1101.1v1.7M320.31 1101.1v1.7M324.23 1101.1v1.7M326.84 1101.1v1.7M338.58 1101.1v1.7M345.11 1101.1v1.7M350.32 1101.1v1.7M354.24 1101.1v1.7M356.85 1101.1v1.7M365.99 1101.1v1.7M371.9 1100.1h3.2M373.5 1094.07h1.6M373.5 1088.03h1.6M373.5 1082h1.6M371.9 1075.96h3.2M373.5 1069.93h1.6M373.5 1063.9h1.6M373.5 1057.86h1.6M371.9 1051.83h3.2M373.5 1045.79h1.6M373.5 1039.76h1.6M373.5 1033.73h1.6M371.9 1027.69h3.2M373.5 1021.66h1.6M373.5 1015.62h1.6M373.5 1009.59h1.6M371.9 1003.56h3.2M373.5 997.52h1.6M373.5 991.49h1.6M373.5 985.45h1.6M371.9 979.42h3.2M392.26 1101.1v3.2M434.68 1101.1v3.2M465.35 1101.1v3.2M494.71 1101.1v3.2M381.82 1101.1v1.7M385.74 1101.1v1.7M388.35 1101.1v1.7M396.18 1101.1v1.7M400.1 1101.1v1.7M402.7 1101.1v1.7M414.45 1101.1v1.7M420.98 1101.1v1.7M426.19 1101.1v1.7M430.11 1101.1v1.7M432.72 1101.1v1.7M444.47 1101.1v1.7M450.99 1101.1v1.7M456.21 1101.1v1.7M460.12 1101.1v1.7M462.74 1101.1v1.7M474.48 1101.1v1.7M481 1101.1v1.7M486.23 1101.1v1.7M490.14 1101.1v1.7M492.75 1101.1v1.7M501.88 1101.1v1.7M507.6 1100.1h3.2M509.2 1094.07h1.6M509.2 1088.03h1.6M509.2 1082h1.6M507.6 1075.96h3.2M509.2 1069.93h1.6M509.2 1063.9h1.6M509.2 1057.86h1.6M507.6 1051.83h3.2M509.2 1045.79h1.6M509.2 1039.76h1.6M509.2 1033.73h1.6M507.6 1027.69h3.2M509.2 1021.66h1.6M509.2 1015.62h1.6M509.2 1009.59h1.6M507.6 1003.56h3.2M509.2 997.52h1.6M509.2 991.49h1.6M509.2 985.45h1.6M507.6 979.42h3.2M527.97 1101.1v3.2M570.38 1101.1v3.2M601.04 1101.1v3.2M630.41 1101.1v3.2M517.52 1101.1v1.7M521.44 1101.1v1.7M524.05 1101.1v1.7M531.88 1101.1v1.7M535.79 1101.1v1.7M538.4 1101.1v1.7M550.15 1101.1v1.7M556.67 1101.1v1.7M561.89 1101.1v1.7M565.81 1101.1v1.7M568.42 1101.1v1.7M580.16 1101.1v1.7M586.69 1101.1v1.7M591.91 1101.1v1.7M595.83 1101.1v1.7M598.43 1101.1v1.7M610.18 1101.1v1.7M616.71 1101.1v1.7M621.92 1101.1v1.7M625.84 1101.1v1.7M628.45 1101.1v1.7M637.59 1101.1v1.7M645.9 1100.1h3.2M647.5 1094.07h1.6M647.5 1088.03h1.6M647.5 1082h1.6M645.9 1075.96h3.2M647.5 1069.93h1.6M647.5 1063.9h1.6M647.5 1057.86h1.6M645.9 1051.83h3.2M647.5 1045.79h1.6M647.5 1039.76h1.6M647.5 1033.73h1.6M645.9 1027.69h3.2M647.5 1021.66h1.6M647.5 1015.62h1.6M647.5 1009.59h1.6M645.9 1003.56h3.2M647.5 997.52h1.6M647.5 991.49h1.6M647.5 985.45h1.6M645.9 979.42h3.2M666.26 1101.1v3.2M708.68 1101.1v3.2M739.34 1101.1v3.2M768.71 1101.1v3.2M655.82 1101.1v1.7M659.74 1101.1v1.7M662.35 1101.1v1.7M670.18 1101.1v1.7M674.09 1101.1v1.7M676.7 1101.1v1.7M688.45 1101.1v1.7M694.97 1101.1v1.7M700.19 1101.1v1.7M704.11 1101.1v1.7M706.72 1101.1v1.7M718.46 1101.1v1.7M724.99 1101.1v1.7M730.21 1101.1v1.7M734.12 1101.1v1.7M736.73 1101.1v1.7M748.48 1101.1v1.7M755 1101.1v1.7M760.22 1101.1v1.7M764.14 1101.1v1.7M766.75 1101.1v1.7M775.88 1101.1v1.7" stroke="#222" stroke-width="0.9" fill="none"/>
<text x="234.4" y="826.9" font-size="4.8" text-anchor="end" fill="#222" class="t">0</text>
<text x="234.4" y="802.76" font-size="4.8" text-anchor="end" fill="#222" class="t">20</text>
<text x="234.4" y="778.63" font-size="4.8" text-anchor="end" fill="#222" class="t">40</text>
<text x="234.4" y="754.49" font-size="4.8" text-anchor="end" fill="#222" class="t">60</text>
<text x="234.4" y="730.36" font-size="4.8" text-anchor="end" fill="#222" class="t">80</text>
<text x="234.4" y="706.22" font-size="4.8" text-anchor="end" fill="#222" class="t">100</text>
<text x="234.4" y="963.8" font-size="4.8" text-anchor="end" fill="#222" class="t">0</text>
<text x="234.4" y="939.66" font-size="4.8" text-anchor="end" fill="#222" class="t">20</text>
<text x="234.4" y="915.53" font-size="4.8" text-anchor="end" fill="#222" class="t">40</text>
<text x="234.4" y="891.39" font-size="4.8" text-anchor="end" fill="#222" class="t">60</text>
<text x="234.4" y="867.26" font-size="4.8" text-anchor="end" fill="#222" class="t">80</text>
<text x="234.4" y="843.12" font-size="4.8" text-anchor="end" fill="#222" class="t">100</text>
<text x="234.4" y="1101.9" font-size="4.8" text-anchor="end" fill="#222" class="t">0</text>
<text x="234.4" y="1077.76" font-size="4.8" text-anchor="end" fill="#222" class="t">20</text>
<text x="234.4" y="1053.63" font-size="4.8" text-anchor="end" fill="#222" class="t">40</text>
<text x="234.4" y="1029.49" font-size="4.8" text-anchor="end" fill="#222" class="t">60</text>
<text x="234.4" y="1005.36" font-size="4.8" text-anchor="end" fill="#222" class="t">80</text>
<text x="234.4" y="981.22" font-size="4.8" text-anchor="end" fill="#222" class="t">100</text>
<text x="256.37" y="1117.5" font-size="4.8" text-anchor="middle" fill="#222" class="t">0</text>
<text x="298.78" y="1117.5" font-size="4.8" text-anchor="middle" fill="#222" class="t">10<tspan dy="-2" font-size="3.2">3</tspan></text>
<text x="329.44" y="1117.5" font-size="4.8" text-anchor="middle" fill="#222" class="t">10<tspan dy="-2" font-size="3.2">4</tspan></text>
<text x="358.81" y="1117.5" font-size="4.8" text-anchor="middle" fill="#222" class="t">10<tspan dy="-2" font-size="3.2">5</tspan></text>
<text x="392.26" y="1117.5" font-size="4.8" text-anchor="middle" fill="#222" class="t">0</text>
<text x="434.68" y="1117.5" font-size="4.8" text-anchor="middle" fill="#222" class="t">10<tspan dy="-2" font-size="3.2">3</tspan></text>
<text x="465.35" y="1117.5" font-size="4.8" text-anchor="middle" fill="#222" class="t">10<tspan dy="-2" font-size="3.2">4</tspan></text>
<text x="494.71" y="1117.5" font-size="4.8" text-anchor="middle" fill="#222" class="t">10<tspan dy="-2" font-size="3.2">5</tspan></text>
<text x="527.97" y="1117.5" font-size="4.8" text-anchor="middle" fill="#222" class="t">0</text>
<text x="570.38" y="1117.5" font-size="4.8" text-anchor="middle" fill="#222" class="t">10<tspan dy="-2" font-size="3.2">3</tspan></text>
<text x="601.04" y="1117.5" font-size="4.8" text-anchor="middle" fill="#222" class="t">10<tspan dy="-2" font-size="3.2">4</tspan></text>
<text x="630.41" y="1117.5" font-size="4.8" text-anchor="middle" fill="#222" class="t">10<tspan dy="-2" font-size="3.2">5</tspan></text>
<text x="666.26" y="1117.5" font-size="4.8" text-anchor="middle" fill="#222" class="t">0</text>
<text x="708.68" y="1117.5" font-size="4.8" text-anchor="middle" fill="#222" class="t">10</text>
<text x="739.34" y="1117.5" font-size="4.8" text-anchor="middle" fill="#222" class="t">10</text>
<text x="768.71" y="1117.5" font-size="4.8" text-anchor="middle" fill="#222" class="t">10</text>
<path d="M239.4 825.5L313.74 825.5L313.74 825.51C314.92 825.27 318.7 825.27 320.83 824.09C322.96 822.9 324.85 821.25 326.51 818.41C328.16 815.57 329.35 813.68 330.77 807.06C332.19 800.43 333.84 789.55 335.02 778.67C336.21 767.79 336.92 752.65 337.86 741.77C338.81 730.89 339.9 718.68 340.7 713.38C341.51 708.09 341.98 710.69 342.69 709.98C343.4 709.27 344.34 708.56 344.96 709.13C345.57 709.69 345.81 707.94 346.38 713.38C346.95 718.83 347.66 728.52 348.37 741.77C349.07 755.02 349.93 780.56 350.64 792.86C351.35 805.16 351.91 810.37 352.62 815.57C353.33 820.77 354.04 822.43 354.89 824.09C355.75 825.74 357.26 825.27 357.73 825.51L369.9 825.5" fill="none" stroke="#000" stroke-width="1.9" stroke-linejoin="round"/>
<path d="M375.3 825.5L432.95 825.5L432.95 825.51C433.9 825.03 436.74 824.8 438.63 822.67C440.52 820.54 442.41 816.28 444.31 812.73C446.2 809.18 448.33 806.58 449.98 801.38C451.64 796.17 452.82 787.66 454.24 781.51C455.66 775.36 457.46 767.79 458.5 764.48C459.54 761.17 459.78 765.42 460.49 761.64C461.2 757.85 462 745.79 462.76 741.77C463.51 737.75 464.32 742.24 465.03 737.51C465.74 732.78 466.35 718.59 467.01 713.38C467.68 708.18 468.29 707.33 469 706.29C469.71 705.25 470.66 703.59 471.27 707.14C471.89 710.69 472.12 718.02 472.69 727.58C473.26 737.13 473.97 752.65 474.68 764.48C475.39 776.3 476.19 789.55 476.95 798.54C477.71 807.53 478.37 814.01 479.22 818.41C480.07 822.81 481.02 823.75 482.06 824.94C483.1 826.12 484.9 825.41 485.46 825.51L505.8 825.5" fill="none" stroke="#000" stroke-width="1.9" stroke-linejoin="round"/>
<path d="M511 825.5L545.07 825.5L545.07 825.51C546.49 825.27 551.22 825.27 553.59 824.09C555.95 822.9 557.75 822.67 559.26 818.41C560.78 814.15 561.72 807.53 562.67 798.54C563.62 789.55 564.23 775.83 564.94 764.48C565.65 753.12 566.46 737.04 566.93 730.42C567.4 723.79 567.4 724.74 567.78 724.74C568.16 724.74 568.73 731.36 569.2 730.42C569.67 729.47 569.91 721.66 570.62 719.06C571.33 716.46 572.65 716.08 573.46 714.8C574.26 713.53 574.88 710.22 575.44 711.4C576.01 712.58 576.25 715.42 576.86 721.9C577.48 728.38 578.28 741.3 579.13 750.29C579.99 759.27 580.79 768.74 581.97 775.83C583.16 782.93 584.91 788.84 586.23 792.86C587.56 796.88 588.97 798.54 589.92 799.96C590.87 801.38 590.87 799.72 591.91 801.38C592.95 803.03 594.51 807.53 596.17 809.89C597.82 812.26 599.48 813.21 601.84 815.57C604.21 817.94 607.99 822.43 610.36 824.09C612.72 825.74 615.09 825.27 616.03 825.51L641.5 825.5" fill="none" stroke="#000" stroke-width="1.9" stroke-linejoin="round"/>
<path d="M649.3 825.5L664.29 825.5L664.29 825.51C665.47 825.03 669.49 825.27 671.39 822.67C673.28 820.06 674.37 816.28 675.64 809.89C676.92 803.51 678.01 793.34 679.05 784.35C680.09 775.36 681.04 763.06 681.89 755.96C682.74 748.87 683.54 746.03 684.16 741.77C684.77 737.51 685.01 730.18 685.58 730.42C686.15 730.65 686.85 741.77 687.56 743.19C688.27 744.61 688.89 742.01 689.84 738.93C690.78 735.86 692.06 727.81 693.24 724.74C694.42 721.66 695.84 719.77 696.93 720.48C698.02 721.19 698.73 726.63 699.77 729C700.81 731.36 702.14 731.13 703.18 734.67C704.22 738.22 704.93 744.37 706.01 750.29C707.1 756.2 708.62 764 709.7 770.15C710.79 776.3 711.5 780.56 712.54 787.19C713.58 793.81 714.91 804.22 715.95 809.89C716.99 815.57 717.7 818.65 718.79 821.25C719.88 823.85 721.86 824.8 722.48 825.51L779.8 825.5" fill="none" stroke="#000" stroke-width="1.9" stroke-linejoin="round"/>
<path d="M239.4 962.4L317.99 962.4L317.99 962.67C318.94 961.96 322.01 961.48 323.67 958.41C325.33 955.33 326.75 950.37 327.93 944.22C329.11 938.07 329.82 928.6 330.77 921.51C331.71 914.41 332.9 906.37 333.6 901.64C334.31 896.91 334.55 894.54 335.02 893.12C335.5 891.7 335.88 896.44 336.44 893.12C337.01 889.81 337.72 879.4 338.43 873.25C339.14 867.1 339.99 859.53 340.7 856.22C341.41 852.91 342.07 854.57 342.69 853.38C343.3 852.2 343.78 848.65 344.39 849.13C345.01 849.6 345.72 850.78 346.38 856.22C347.04 861.66 347.66 870.42 348.37 881.77C349.07 893.12 349.93 912.99 350.64 924.35C351.35 935.7 351.91 943.74 352.62 949.89C353.33 956.04 354.04 959.12 354.89 961.25C355.75 963.38 357.26 962.43 357.73 962.67L369.9 962.4" fill="none" stroke="#000" stroke-width="1.9" stroke-linejoin="round"/>
<path d="M375.3 962.4L432.95 962.4L432.95 962.67C434.37 961.96 439.24 961.01 441.47 958.41C443.69 955.81 444.87 950.84 446.29 947.06C447.71 943.27 448.66 939.96 449.98 935.7C451.31 931.44 453.06 924.91 454.24 921.51C455.42 918.1 456.27 915.97 457.08 915.26C457.88 914.55 458.36 919.05 459.07 917.25C459.78 915.45 460.63 907.17 461.34 904.48C462.05 901.78 462.52 904.38 463.32 901.07C464.13 897.76 465.22 890.19 466.16 884.61C467.11 879.03 468.1 873.35 469 867.58C469.9 861.81 470.85 850.92 471.56 849.98C472.27 849.03 472.6 854.24 473.26 861.9C473.92 869.56 474.77 884.14 475.53 895.96C476.29 907.79 477.09 923.4 477.8 932.86C478.51 942.32 478.98 947.91 479.79 952.73C480.59 957.56 481.68 960.16 482.63 961.82C483.57 963.47 484.99 962.52 485.46 962.67L505.8 962.4" fill="none" stroke="#000" stroke-width="1.9" stroke-linejoin="round"/>
<path d="M511 962.4L542.23 962.4L542.23 962.67C543.65 962.19 548.48 962.43 550.75 959.83C553.02 957.23 554.44 953.44 555.86 947.06C557.28 940.67 558.22 931.44 559.26 921.51C560.31 911.57 561.3 897.38 562.1 887.45C562.91 877.51 563.38 867.58 564.09 861.9C564.8 856.22 565.41 855.14 566.36 853.38C567.31 851.63 568.58 850.92 569.77 851.4C570.95 851.87 572.27 853.76 573.46 856.22C574.64 858.68 575.68 861.9 576.86 866.16C578.05 870.42 579.47 875.86 580.55 881.77C581.64 887.68 582.45 894.54 583.39 901.64C584.34 908.74 585.14 918.2 586.23 924.35C587.32 930.5 588.74 934.75 589.92 938.54C591.1 942.32 592.19 945.26 593.33 947.06C594.46 948.85 595.31 948.14 596.73 949.33C598.15 950.51 600.04 952.64 601.84 954.15C603.64 955.67 605.15 956.99 607.52 958.41C609.88 959.83 614.62 961.96 616.03 962.67L641.5 962.4" fill="none" stroke="#000" stroke-width="1.9" stroke-linejoin="round"/>
<path d="M649.3 962.4L665.71 962.4L665.71 962.67C666.42 961.96 668.78 962.43 669.97 958.41C671.15 954.39 672 948.95 672.8 938.54C673.61 928.13 674.18 909.21 674.79 895.96C675.41 882.72 675.88 866.63 676.49 859.06C677.11 851.49 677.77 851.02 678.48 850.55C679.19 850.07 680.04 850.07 680.75 856.22C681.46 862.37 681.84 878.46 682.74 887.45C683.64 896.44 684.96 902.59 686.15 910.15C687.33 917.72 688.51 927.19 689.84 932.86C691.16 938.54 692.91 941.14 694.09 944.22C695.28 947.29 695.99 950.46 696.93 951.31C697.88 952.16 698.59 948.62 699.77 949.33C700.95 950.04 701.9 953.58 704.03 955.57C706.16 957.56 709.7 960.06 712.54 961.25C715.38 962.43 719.64 962.43 721.06 962.67L779.8 962.4" fill="none" stroke="#000" stroke-width="1.9" stroke-linejoin="round"/>
<path d="M239.4 1100.5L319.41 1100.5L319.41 1100.51C320.12 1099.8 322.25 1099.8 323.67 1096.25C325.09 1092.7 326.6 1086.79 327.93 1079.22C329.25 1071.65 330.44 1060.29 331.62 1050.83C332.8 1041.37 334.08 1030.49 335.02 1022.45C335.97 1014.4 336.49 1008.02 337.29 1002.58C338.1 997.14 338.95 993.02 339.85 989.8C340.75 986.59 341.93 983.04 342.69 983.28C343.44 983.51 343.78 986.11 344.39 991.22C345.01 996.33 345.67 1003.52 346.38 1013.93C347.09 1024.34 347.94 1042.32 348.65 1053.67C349.36 1065.02 349.97 1075.2 350.64 1082.06C351.3 1088.91 351.68 1091.75 352.62 1094.83C353.57 1097.9 355.7 1099.56 356.31 1100.51L369.9 1100.5" fill="none" stroke="#000" stroke-width="1.9" stroke-linejoin="round"/>
<path d="M375.3 1100.5L449.98 1100.5L449.98 1100.51C450.69 1099.8 453.06 1098.14 454.24 1096.25C455.42 1094.36 456.13 1091.52 457.08 1089.15C458.03 1086.79 458.97 1086.08 459.92 1082.06C460.86 1078.03 461.9 1069.75 462.76 1065.02C463.61 1060.29 464.32 1060.29 465.03 1053.67C465.74 1047.05 466.35 1034.75 467.01 1025.29C467.68 1015.82 468.34 1003.62 469 996.9C469.66 990.18 470.37 985.45 470.99 984.98C471.6 984.51 472.08 987.82 472.69 994.06C473.31 1000.31 473.97 1012.04 474.68 1022.45C475.39 1032.85 476.19 1046.57 476.95 1056.51C477.71 1066.44 478.51 1075.67 479.22 1082.06C479.93 1088.44 480.31 1091.75 481.21 1094.83C482.11 1097.9 484.04 1099.56 484.61 1100.51L505.8 1100.5" fill="none" stroke="#000" stroke-width="1.9" stroke-linejoin="round"/>
<path d="M511 1100.5L550.75 1100.5L550.75 1100.51C552.17 1100.03 556.9 1099.8 559.26 1097.67C561.63 1095.54 563.29 1093.17 564.94 1087.73C566.6 1082.29 568.02 1073.54 569.2 1065.02C570.38 1056.51 571.19 1046.57 572.04 1036.64C572.89 1026.7 573.6 1013.46 574.31 1005.42C575.02 997.37 575.49 991.79 576.3 988.38C577.1 984.98 578.33 983.09 579.13 984.98C579.94 986.87 580.41 994.91 581.12 999.74C581.83 1004.56 582.54 1007.78 583.39 1013.93C584.24 1020.08 585.28 1029.54 586.23 1036.64C587.18 1043.74 588.12 1050.83 589.07 1056.51C590.02 1062.19 590.96 1065.5 591.91 1070.7C592.85 1075.91 593.8 1083.47 594.75 1087.73C595.69 1091.99 596.4 1094.12 597.58 1096.25C598.77 1098.38 601.13 1099.8 601.84 1100.51L641.5 1100.5" fill="none" stroke="#000" stroke-width="1.9" stroke-linejoin="round"/>
<path d="M649.3 1100.5L662.87 1100.5L662.87 1100.51C663.82 1099.8 667.13 1099.32 668.55 1096.25C669.97 1093.17 670.53 1090.57 671.39 1082.06C672.24 1073.54 672.85 1058.4 673.66 1045.15C674.46 1031.91 675.41 1012.51 676.21 1002.58C677.01 992.64 677.63 985.55 678.48 985.55C679.33 985.55 680.37 994.06 681.32 1002.58C682.27 1011.09 683.12 1027.65 684.16 1036.64C685.2 1045.63 686.38 1051.07 687.56 1056.51C688.75 1061.95 690.17 1066.68 691.25 1069.28C692.34 1071.88 692.91 1069.99 694.09 1072.12C695.28 1074.25 697.17 1079.93 698.35 1082.06C699.53 1084.18 700.01 1083 701.19 1084.89C702.37 1086.79 703.79 1091.04 705.45 1093.41C707.1 1095.77 709 1097.9 711.12 1099.09C713.25 1100.27 717.04 1100.27 718.22 1100.51L779.8 1100.5" fill="none" stroke="#000" stroke-width="1.9" stroke-linejoin="round"/>
<line x1="694.7" y1="703" x2="694.7" y2="826.6" stroke="#1a0cf5" stroke-width="4"/>
<line x1="680.8" y1="853.4" x2="680.8" y2="963.5" stroke="#1a0cf5" stroke-width="4"/>
<line x1="681.6" y1="979.3" x2="681.6" y2="1101.6" stroke="#1a0cf5" stroke-width="4"/>
<rect x="643.2" y="693.6" width="139.4" height="415" fill="none" stroke="#fb2212" stroke-width="4.6"/>
<text x="236.4" y="1143.1" font-size="29.8">Mito-tracker</text>
<line x1="405.4" y1="1133.1" x2="784.4" y2="1133.1" stroke="#000" stroke-width="4.8"/>
</g>
<g id="pCc">
<path d="M907.43 1097V886.45H935.47V1097" fill="#fff" stroke="#000" stroke-width="3" stroke-linejoin="miter"/>
<path d="M945.81 1097V896.68H973.68V1097" fill="#fff" stroke="#000" stroke-width="3" stroke-linejoin="miter"/>
<path d="M983.5 1097V886.45H1011.55V1097" fill="#fff" stroke="#000" stroke-width="3" stroke-linejoin="miter"/>
<path d="M1052.59 1097V886.45H1080.29V1097" fill="#fff" stroke="#000" stroke-width="3" stroke-linejoin="miter"/>
<path d="M1090.46 1097V860.35H1118.5V1097" fill="#fff" stroke="#000" stroke-width="3" stroke-linejoin="miter"/>
<path d="M1128.49 1097V875.19H1156.2V1097" fill="#fff" stroke="#000" stroke-width="3" stroke-linejoin="miter"/>
<path d="M1196.81 1097V886.45H1224.51V1097" fill="#fff" stroke="#000" stroke-width="3" stroke-linejoin="miter"/>
<path d="M1234.51 1097V874.51H1262.55V1097" fill="#fff" stroke="#000" stroke-width="3" stroke-linejoin="miter"/>
<path d="M1273.06 1097V891.39H1300.59V1097" fill="#fff" stroke="#000" stroke-width="3" stroke-linejoin="miter"/>
<path d="M1341.46 1097V886.45H1369.5V1097" fill="#fff" stroke="#000" stroke-width="3" stroke-linejoin="miter"/>
<path d="M1379.33 1097V984.87H1407.03V1097" fill="#fff" stroke="#000" stroke-width="3" stroke-linejoin="miter"/>
<path d="M1417.36 1097V979.41H1445.41V1097" fill="#fff" stroke="#000" stroke-width="3" stroke-linejoin="miter"/>
<g fill="#0a05fb"><circle cx="912.41" cy="886.14" r="6.3"/><circle cx="921.45" cy="886.14" r="6.3"/><circle cx="930.83" cy="886.14" r="6.3"/></g>
<g fill="#fb2a15"><circle cx="950.45" cy="884.78" r="6.3"/><circle cx="968.7" cy="896.03" r="6.3"/><circle cx="950.45" cy="903.54" r="6.3"/></g>
<g fill="#47e21c"><circle cx="997.36" cy="878.98" r="6.3"/><circle cx="988.66" cy="889.55" r="6.3"/><circle cx="1006.74" cy="886.48" r="6.3"/></g>
<g fill="#0a05fb"><circle cx="1057.4" cy="886.14" r="6.3"/><circle cx="1066.27" cy="886.14" r="6.3"/><circle cx="1075.65" cy="886.14" r="6.3"/></g>
<g fill="#fb2a15"><circle cx="1104.14" cy="836.16" r="6.3"/><circle cx="1104.14" cy="857.65" r="6.3"/><circle cx="1104.14" cy="882.22" r="6.3"/></g>
<g fill="#47e21c"><circle cx="1142.17" cy="851.51" r="6.3"/><circle cx="1151.22" cy="878.98" r="6.3"/><circle cx="1133.13" cy="890.06" r="6.3"/></g>
<g fill="#0a05fb"><circle cx="1201.45" cy="886.48" r="6.3"/><circle cx="1210.66" cy="886.48" r="6.3"/><circle cx="1220.04" cy="886.48" r="6.3"/></g>
<g fill="#fb2a15"><circle cx="1248.36" cy="869.42" r="6.3"/><circle cx="1257.74" cy="871.64" r="6.3"/><circle cx="1239.32" cy="877.61" r="6.3"/></g>
<g fill="#47e21c"><circle cx="1277.36" cy="881.36" r="6.3"/><circle cx="1295.61" cy="891.26" r="6.3"/><circle cx="1277.36" cy="897.57" r="6.3"/></g>
<g fill="#0a05fb"><circle cx="1346.27" cy="886.48" r="6.3"/><circle cx="1355.31" cy="886.48" r="6.3"/><circle cx="1364.69" cy="886.48" r="6.3"/></g>
<g fill="#fb2a15"><circle cx="1393.18" cy="965.46" r="6.3"/><circle cx="1393.18" cy="984.73" r="6.3"/><circle cx="1393.18" cy="999.57" r="6.3"/></g>
<g fill="#47e21c"><circle cx="1422.17" cy="968.87" r="6.3"/><circle cx="1440.26" cy="978.59" r="6.3"/><circle cx="1422.17" cy="985.93" r="6.3"/></g>
<path d="M952.24 889.61H967.24M959.74 889.61V896.68" fill="none" stroke="#000" stroke-width="3"/>
<path d="M990.03 882.28H1005.03M997.53 882.28V886.45" fill="none" stroke="#000" stroke-width="3"/>
<path d="M1096.98 845.94H1111.98M1104.48 845.94V860.35" fill="none" stroke="#000" stroke-width="3"/>
<path d="M1134.85 862.15H1149.85M1142.35 862.15V875.19" fill="none" stroke="#000" stroke-width="3"/>
<path d="M1241.03 870.85H1256.03M1248.53 870.85V874.51" fill="none" stroke="#000" stroke-width="3"/>
<path d="M1279.32 885.69H1294.32M1286.82 885.69V891.39" fill="none" stroke="#000" stroke-width="3"/>
<path d="M1385.68 973.88H1400.68M1393.18 973.88V984.87" fill="none" stroke="#000" stroke-width="3"/>
<path d="M1423.89 973.02H1438.89M1431.39 973.02V979.41" fill="none" stroke="#000" stroke-width="3"/>
<line x1="898.6" y1="672.6" x2="898.6" y2="1098.5" stroke="#000" stroke-width="3"/>
<line x1="886.1" y1="1097" x2="1455.6" y2="1097" stroke="#000" stroke-width="3"/>
<text x="881.8" y="1107.9" font-size="29.4" text-anchor="end">0.0</text>
<line x1="886.1" y1="991.27" x2="898.6" y2="991.27" stroke="#000" stroke-width="3"/>
<text x="881.8" y="1002.17" font-size="29.4" text-anchor="end">0.5</text>
<line x1="886.1" y1="885.55" x2="898.6" y2="885.55" stroke="#000" stroke-width="3"/>
<text x="881.8" y="896.45" font-size="29.4" text-anchor="end">1.0</text>
<line x1="886.1" y1="779.83" x2="898.6" y2="779.83" stroke="#000" stroke-width="3"/>
<text x="881.8" y="790.73" font-size="29.4" text-anchor="end">1.5</text>
<line x1="886.1" y1="674.1" x2="898.6" y2="674.1" stroke="#000" stroke-width="3"/>
<text x="881.8" y="685" font-size="29.4" text-anchor="end">2.0</text>
<line x1="958.6" y1="1097" x2="958.6" y2="1109.5" stroke="#000" stroke-width="3"/>
<text x="958.6" y="1139.3" font-size="29.4" text-anchor="middle">Pro</text>
<line x1="1104" y1="1097" x2="1104" y2="1109.5" stroke="#000" stroke-width="3"/>
<text x="1104" y="1139.3" font-size="29.4" text-anchor="middle">Baso</text>
<line x1="1247.8" y1="1097" x2="1247.8" y2="1109.5" stroke="#000" stroke-width="3"/>
<text x="1247.8" y="1139.3" font-size="29.4" text-anchor="middle">Poly</text>
<line x1="1393.2" y1="1097" x2="1393.2" y2="1109.5" stroke="#000" stroke-width="3"/>
<text x="1393.2" y="1139.3" font-size="29.4" text-anchor="middle">Ortho</text>
<text transform="translate(825.5,883.5) rotate(-90)" font-size="34.2" text-anchor="middle">Relative mitochondria mass</text>
<circle cx="932.3" cy="687.2" r="6.3" fill="#0a05fb"/>
<text x="966.3" y="697.2" font-size="29.8">shRNA-Luciferase</text>
<circle cx="932.3" cy="727.7" r="6.3" fill="#fb2a15"/>
<text x="966.3" y="737.7" font-size="29.8">shRNA-PIM1#1</text>
<circle cx="932.3" cy="768.2" r="6.3" fill="#47e21c"/>
<text x="966.3" y="778.2" font-size="29.8">shRNA-PIM1#2</text>
<line x1="1356.7" y1="833.8" x2="1431.2" y2="833.8" stroke="#000" stroke-width="4.6"/>
<line x1="1356.7" y1="864.5" x2="1393.3" y2="864.5" stroke="#000" stroke-width="4.6"/>
<text x="1393" y="837.3" font-size="28.3" text-anchor="middle">***</text>
<text x="1374.9" y="868" font-size="28.3" text-anchor="middle">***</text>
</g>
<g id="pD">
<text class="t" transform="translate(1450.6,663.2) scale(0.95,1)" font-size="48" font-weight="bold">D</text>
<text x="1570" y="811.4" font-size="29.8" text-anchor="end">DMSO</text>
<text x="1570.4" y="973.4" font-size="29.8" text-anchor="end">CCCP</text>
<line x1="1589.7" y1="728.4" x2="1589.7" y2="924.4" stroke="#000" stroke-width="3.8"/>
<text transform="translate(1597,978) rotate(-90)" font-size="25.4" text-anchor="middle">H33342</text>
<rect x="1618.9" y="727.3" width="134" height="134.1" fill="#fff" stroke="#8c8c8c" stroke-width="0.8"/>
<rect x="1618.9" y="889.4" width="134" height="134" fill="#fff" stroke="#8c8c8c" stroke-width="0.8"/>
<path d="M1619.7 861.4v3.6M1624.76 861.4v1.8M1629.82 861.4v1.8M1634.88 861.4v1.8M1639.94 861.4v1.8M1645 861.4v3.6M1650.06 861.4v1.8M1655.12 861.4v1.8M1660.18 861.4v1.8M1665.24 861.4v1.8M1670.3 861.4v3.6M1675.36 861.4v1.8M1680.42 861.4v1.8M1685.48 861.4v1.8M1690.54 861.4v1.8M1695.6 861.4v3.6M1700.66 861.4v1.8M1705.72 861.4v1.8M1710.78 861.4v1.8M1715.84 861.4v1.8M1720.9 861.4v3.6M1725.96 861.4v1.8M1731.02 861.4v1.8M1736.08 861.4v1.8M1741.14 861.4v1.8M1746.2 861.4v3.6M1751.26 861.4v1.8M1618.9 739.77h-3.4M1618.9 769.81h-3.4M1618.9 799.71h-3.4M1618.9 832.57h-3.4M1618.9 846.65h-3.4M1618.9 731.32h-1.7M1618.9 734h-1.7M1618.9 736.69h-1.7M1618.9 748.76h-1.7M1618.9 754.12h-1.7M1618.9 758.14h-1.7M1618.9 762.17h-1.7M1618.9 764.85h-1.7M1618.9 778.26h-1.7M1618.9 783.62h-1.7M1618.9 787.64h-1.7M1618.9 791.67h-1.7M1618.9 794.35h-1.7M1618.9 807.76h-1.7M1618.9 813.12h-1.7M1618.9 818.49h-1.7M1618.9 822.51h-1.7M1618.9 826.53h-1.7M1618.9 837.26h-1.7M1618.9 841.28h-1.7M1618.9 852.01h-1.7M1618.9 856.04h-1.7M1619.7 1023.4v3.6M1624.76 1023.4v1.8M1629.82 1023.4v1.8M1634.88 1023.4v1.8M1639.94 1023.4v1.8M1645 1023.4v3.6M1650.06 1023.4v1.8M1655.12 1023.4v1.8M1660.18 1023.4v1.8M1665.24 1023.4v1.8M1670.3 1023.4v3.6M1675.36 1023.4v1.8M1680.42 1023.4v1.8M1685.48 1023.4v1.8M1690.54 1023.4v1.8M1695.6 1023.4v3.6M1700.66 1023.4v1.8M1705.72 1023.4v1.8M1710.78 1023.4v1.8M1715.84 1023.4v1.8M1720.9 1023.4v3.6M1725.96 1023.4v1.8M1731.02 1023.4v1.8M1736.08 1023.4v1.8M1741.14 1023.4v1.8M1746.2 1023.4v3.6M1751.26 1023.4v1.8M1618.9 901.86h-3.4M1618.9 931.88h-3.4M1618.9 961.76h-3.4M1618.9 994.59h-3.4M1618.9 1008.66h-3.4M1618.9 893.42h-1.7M1618.9 896.1h-1.7M1618.9 898.78h-1.7M1618.9 910.84h-1.7M1618.9 916.2h-1.7M1618.9 920.22h-1.7M1618.9 924.24h-1.7M1618.9 926.92h-1.7M1618.9 940.32h-1.7M1618.9 945.68h-1.7M1618.9 949.7h-1.7M1618.9 953.72h-1.7M1618.9 956.4h-1.7M1618.9 969.8h-1.7M1618.9 975.16h-1.7M1618.9 980.52h-1.7M1618.9 984.54h-1.7M1618.9 988.56h-1.7M1618.9 999.28h-1.7M1618.9 1003.3h-1.7M1618.9 1014.02h-1.7M1618.9 1018.04h-1.7" stroke="#555" stroke-width="0.7" fill="none"/>
<text x="1620.1" y="876.2" font-size="4.7" text-anchor="middle" fill="#444" class="t">0</text>
<text x="1645.3" y="876.2" font-size="4.7" text-anchor="middle" fill="#444" class="t">50K</text>
<text x="1670.5" y="876.2" font-size="4.7" text-anchor="middle" fill="#444" class="t">100K</text>
<text x="1695.7" y="876.2" font-size="4.7" text-anchor="middle" fill="#444" class="t">150K</text>
<text x="1720.9" y="876.2" font-size="4.7" text-anchor="middle" fill="#444" class="t">200K</text>
<text x="1746.1" y="876.2" font-size="4.7" text-anchor="middle" fill="#444" class="t">250K</text>
<text x="1613.9" y="741.47" font-size="4.7" text-anchor="end" fill="#444" class="t">10<tspan dy="-1.9" font-size="3.3">5</tspan></text>
<text x="1613.9" y="771.51" font-size="4.7" text-anchor="end" fill="#444" class="t">10<tspan dy="-1.9" font-size="3.3">4</tspan></text>
<text x="1613.9" y="801.41" font-size="4.7" text-anchor="end" fill="#444" class="t">10<tspan dy="-1.9" font-size="3.3">3</tspan></text>
<text x="1613.9" y="834.27" font-size="4.7" text-anchor="end" fill="#444" class="t">10<tspan dy="-1.9" font-size="3.3">2</tspan></text>
<text x="1611.9" y="848.35" font-size="4.7" text-anchor="end" fill="#444" class="t">0</text>
<text x="1620.1" y="1038.2" font-size="4.7" text-anchor="middle" fill="#444" class="t">0</text>
<text x="1645.3" y="1038.2" font-size="4.7" text-anchor="middle" fill="#444" class="t">50K</text>
<text x="1670.5" y="1038.2" font-size="4.7" text-anchor="middle" fill="#444" class="t">100K</text>
<text x="1695.7" y="1038.2" font-size="4.7" text-anchor="middle" fill="#444" class="t">150K</text>
<text x="1720.9" y="1038.2" font-size="4.7" text-anchor="middle" fill="#444" class="t">200K</text>
<text x="1746.1" y="1038.2" font-size="4.7" text-anchor="middle" fill="#444" class="t">250K</text>
<text x="1613.9" y="903.56" font-size="4.7" text-anchor="end" fill="#444" class="t">10<tspan dy="-1.9" font-size="3.3">5</tspan></text>
<text x="1613.9" y="933.58" font-size="4.7" text-anchor="end" fill="#444" class="t">10<tspan dy="-1.9" font-size="3.3">4</tspan></text>
<text x="1613.9" y="963.46" font-size="4.7" text-anchor="end" fill="#444" class="t">10<tspan dy="-1.9" font-size="3.3">3</tspan></text>
<text x="1613.9" y="996.29" font-size="4.7" text-anchor="end" fill="#444" class="t">10<tspan dy="-1.9" font-size="3.3">2</tspan></text>
<text x="1611.9" y="1010.36" font-size="4.7" text-anchor="end" fill="#444" class="t">0</text>
<path transform="translate(1618.9,727.3) scale(0.25)" d="M0 0m162 31h3m72 4h3m-129 20h3m84 5h3m17 0h3m-163 1h3m137 0h3m-95 6h3m13 2h3m119 8h3m-111 2h3m110 0h3m-127 3h3m5 0h3m82 0h3m-2 0h3m-141 2h3m84 0h3m-25 1h3m102 0h3m-211 2h3m33 0h3m61 0h3m-19 2h3m-44 1h3m-11 1h3m33 0h3m-40 1h3m33 0h3m-87 1h3m89 1h3m85 0h3m80 1h3m-164 1h3m-70 1h3m6 1h3m62 0h3m-16 1h3m-59 2h3m94 0h3m-13 1h3m25 0h3m-83 1h3m80 0h3m41 0h3m-125 1h3m1 0h3m61 0h3m41 1h3m65 0h3m-240 1h3m-1 0h3m39 0h3m32 1h3m63 0h3m-138 1h3m62 0h3m74 0h3m24 0h3m-213 1h3m3 0h3m99 0h3m-66 1h3m21 0h3m99 0h3m-148 1h3m7 0h3m26 0h3m80 0h3m18 0h3m61 0h3m-138 1h3m3 0h3m8 0h3m-79 1h3m50 0h3m-2 0h3m20 0h3m-2 0h3m-114 1h3m104 0h3m24 0h3m63 0h3m-180 1h3m16 0h3m62 0h3m51 0h3m6 0h3m-151 1h3m45 0h3m6 0h3m70 0h3m-96 1h3m-1 0h3m9 0h3m21 0h3m70 0h3m43 0h3m32 0h3m-168 1h3m31 0h3m4 0h3m21 0h3m1 0h3m-139 1h3m8 0h3m27 0h3m-2 0h3m61 0h3m0 0h3m22 0h3m38 0h3m-191 1h3m18 0h3m5 0h3m44 0h3m18 0h3m33 0h3m17 0h3m4 0h3m-164 1h3m17 0h3m5 0h3m14 0h3m29 0h3m6 0h3m6 0h3m28 0h3m3 0h3m7 0h3m10 0h3m33 0h3m13 0h3m96 0h3m-291 1h3m59 0h3m19 0h3m8 0h3m9 0h3m18 0h3m23 0h3m-174 1h3m13 0h3m4 0h3m32 0h3m-2 0h3m69 0h3m39 0h3m-166 1h3m13 0h3m-2 0h3m28 0h3m-1 0h3m48 0h3m-2 0h3m10 0h3m6 0h3m0 0h3m55 0h3m-182 1h3m2 0h3m12 0h3m16 0h3m17 0h3m5 0h3m-2 0h3m-1 0h3m9 0h3m2 0h3m40 0h3m3 0h3m20 0h3m22 0h3m-168 1h3m28 0h3m1 0h3m7 0h3m12 0h3m-1 0h3m1 0h3m42 0h3m35 0h3m-158 1h3m8 0h3m2 0h3m5 0h3m5 0h3m-2 0h3m77 0h3m10 0h3m-152 1h3m9 0h3m19 0h3m24 0h3m-2 0h3m8 0h3m23 0h3m1 0h3m25 0h3m22 0h3m14 0h3m-183 1h3m19 0h3m17 0h3m22 0h3m1 0h3m8 0h3m18 0h3m10 0h3m-2 0h3m8 0h3m13 0h3m8 0h3m24 0h3m12 0h3m-154 1h3m8 0h3m3 0h3m36 0h3m22 0h3m3 0h3m2 0h3m6 0h3m111 0h3m-260 1h3m19 0h3m9 0h3m41 0h3m22 0h3m37 0h3m-121 1h3m52 0h3m6 0h3m4 0h3m-2 0h3m-2 0h3m-2 0h3m12 0h3m66 0h3m-161 1h3m30 0h3m8 0h3m12 0h3m13 0h3m3 0h3m-1 0h3m2 0h3m10 0h3m22 0h3m20 0h3m-161 1h3m7 0h3m-2 0h3m0 0h3m26 0h3m39 0h3m6 0h3m-1 0h3m29 0h3m3 0h3m2 0h3m0 0h3m31 0h3m21 0h3m52 0h3m-262 1h3m5 0h3m4 0h3m4 0h3m20 0h3m5 0h3m39 0h3m21 0h3m70 0h3m2 0h3m-216 1h3m13 0h3m6 0h3m-1 0h3m9 0h3m9 0h3m4 0h3m11 0h3m12 0h3m2 0h3m-1 0h3m1 0h3m15 0h3m-1 0h3m69 0h3m-190 1h3m9 0h3m43 0h3m7 0h3m3 0h3m13 0h3m4 0h3m1 0h3m-2 0h3m7 0h3m-2 0h3m5 0h3m-90 1h3m2 0h3m16 0h3m14 0h3m34 0h3m-2 0h3m3 0h3m10 0h3m20 0h3m14 0h3m52 0h3m-236 1h3m38 0h3m-1 0h3m10 0h3m7 0h3m19 0h3m4 0h3m-2 0h3m4 0h3m28 0h3m13 0h3m-2 0h3m60 0h3m-206 1h3m8 0h3m5 0h3m6 0h3m-1 0h3m-1 0h3m1 0h3m23 0h3m10 0h3m3 0h3m6 0h3m1 0h3m17 0h3m10 0h3m-2 0h3m4 0h3m4 0h3m12 0h3m5 0h3m78 0h3m28 0h3m-287 1h3m14 0h3m30 0h3m16 0h3m-1 0h3m14 0h3m-1 0h3m4 0h3m12 0h3m3 0h3m19 0h3m1 0h3m21 0h3m2 0h3m20 0h3m-182 1h3m-1 0h3m38 0h3m5 0h3m14 0h3m3 0h3m9 0h3m18 0h3m0 0h3m6 0h3m6 0h3m20 0h3m0 0h3m-1 0h3m22 0h3m-215 1h3m30 0h3m-1 0h3m19 0h3m29 0h3m0 0h3m16 0h3m-1 0h3m16 0h3m6 0h3m8 0h3m3 0h3m11 0h3m-1 0h3m34 0h3m38 0h3m41 0h3m-296 1h3m34 0h3m26 0h3m-1 0h3m26 0h3m9 0h3m19 0h3m8 0h3m6 0h3m17 0h3m21 0h3m4 0h3m15 0h3m-221 1h3m39 0h3m9 0h3m20 0h3m-1 0h3m12 0h3m34 0h3m10 0h3m1 0h3m0 0h3m23 0h3m-2 0h3m6 0h3m1 0h3m11 0h3m30 0h3m-211 1h3m-1 0h3m16 0h3m55 0h3m30 0h3m8 0h3m18 0h3m3 0h3m-2 0h3m7 0h3m23 0h3m57 0h3m-254 1h3m26 0h3m2 0h3m3 0h3m2 0h3m2 0h3m9 0h3m0 0h3m14 0h3m0 0h3m16 0h3m5 0h3m56 0h3m19 0h3m-201 1h3m2 0h3m-2 0h3m2 0h3m51 0h3m4 0h3m1 0h3m14 0h3m21 0h3m-2 0h3m-1 0h3m21 0h3m13 0h3m14 0h3m-2 0h3m-193 1h3m30 0h3m23 0h3m4 0h3m2 0h3m-1 0h3m1 0h3m0 0h3m2 0h3m25 0h3m-1 0h3m19 0h3m0 0h3m-2 0h3m51 0h3m-176 1h3m7 0h3m19 0h3m-1 0h3m4 0h3m5 0h3m4 0h3m33 0h3m4 0h3m2 0h3m1 0h3m-1 0h3m18 0h3m26 0h3m2 0h3m1 0h3m7 0h3m7 0h3m19 0h3m-246 1h3m21 0h3m60 0h3m19 0h3m4 0h3m-2 0h3m8 0h3m25 0h3m13 0h3m-2 0h3m19 0h3m-2 0h3m-185 1h3m7 0h3m2 0h3m-1 0h3m2 0h3m8 0h3m3 0h3m0 0h3m1 0h3m1 0h3m1 0h3m6 0h3m-1 0h3m12 0h3m4 0h3m9 0h3m3 0h3m6 0h3m2 0h3m7 0h3m40 0h3m23 0h3m20 0h3m-239 1h3m8 0h3m11 0h3m13 0h3m2 0h3m-1 0h3m14 0h3m10 0h3m-2 0h3m3 0h3m18 0h3m9 0h3m-1 0h3m19 0h3m6 0h3m3 0h3m15 0h3m-2 0h3m-1 0h3m13 0h3m-2 0h3m58 0h3m-234 1h3m40 0h3m-1 0h3m0 0h3m-1 0h3m2 0h3m7 0h3m2 0h3m0 0h3m2 0h3m1 0h3m6 0h3m-1 0h3m1 0h3m31 0h3m0 0h3m-1 0h3m8 0h3m6 0h3m39 0h3m5 0h3m-237 1h3m5 0h3m3 0h3m28 0h3m2 0h3m5 0h3m2 0h3m7 0h3m1 0h3m5 0h3m7 0h3m7 0h3m1 0h3m-1 0h3m17 0h3m3 0h3m18 0h3m26 0h3m11 0h3m9 0h3m-177 1h3m19 0h3m0 0h3m9 0h3m8 0h3m1 0h3m7 0h3m13 0h3m6 0h3m5 0h3m3 0h3m8 0h3m2 0h3m-2 0h3m18 0h3m17 0h3m47 0h3m-231 1h3m9 0h3m-2 0h3m12 0h3m-1 0h3m0 0h3m-2 0h3m0 0h3m-1 0h3m-1 0h3m14 0h3m-1 0h3m-2 0h3m0 0h3m-2 0h3m4 0h3m-2 0h3m8 0h3m9 0h3m10 0h3m5 0h3m12 0h3m10 0h3m0 0h3m2 0h3m-2 0h3m1 0h3m19 0h3m27 0h3m-185 1h3m1 0h3m3 0h3m-1 0h3m2 0h3m-2 0h3m5 0h3m-2 0h3m-2 0h3m-1 0h3m3 0h3m-2 0h3m1 0h3m8 0h3m7 0h3m1 0h3m6 0h3m11 0h3m3 0h3m33 0h3m4 0h3m5 0h3m11 0h3m64 0h3m-251 1h3m3 0h3m4 0h3m7 0h3m-2 0h3m8 0h3m6 0h3m-2 0h3m4 0h3m0 0h3m1 0h3m0 0h3m3 0h3m9 0h3m2 0h3m17 0h3m9 0h3m20 0h3m4 0h3m26 0h3m-182 1h3m16 0h3m17 0h3m8 0h3m4 0h3m4 0h3m-2 0h3m-2 0h3m2 0h3m-1 0h3m5 0h3m5 0h3m7 0h3m3 0h3m4 0h3m34 0h3m25 0h3m-186 1h3m18 0h3m-1 0h3m10 0h3m15 0h3m-2 0h3m5 0h3m4 0h3m-2 0h3m24 0h3m-1 0h3m1 0h3m4 0h3m18 0h3m-2 0h3m-2 0h3m3 0h3m3 0h3m15 0h3m10 0h3m14 0h3m2 0h3m21 0h3m-242 1h3m18 0h3m6 0h3m6 0h3m-2 0h3m2 0h3m0 0h3m3 0h3m6 0h3m4 0h3m6 0h3m1 0h3m0 0h3m1 0h3m0 0h3m-2 0h3m-1 0h3m4 0h3m0 0h3m3 0h3m-1 0h3m10 0h3m18 0h3m6 0h3m6 0h3m15 0h3m2 0h3m13 0h3m-197 1h3m4 0h3m2 0h3m14 0h3m-2 0h3m7 0h3m5 0h3m1 0h3m-2 0h3m-2 0h3m-2 0h3m3 0h3m10 0h3m-2 0h3m7 0h3m8 0h3m-2 0h3m18 0h3m13 0h3m2 0h3m10 0h3m37 0h3m11 0h3m21 0h3m-241 1h3m37 0h3m4 0h3m-1 0h3m0 0h3m0 0h3m-1 0h3m5 0h3m1 0h3m2 0h3m2 0h3m-1 0h3m0 0h3m0 0h3m-1 0h3m0 0h3m-1 0h3m18 0h3m2 0h3m-2 0h3m1 0h3m-2 0h3m-2 0h3m3 0h3m5 0h3m18 0h3m0 0h3m0 0h3m-2 0h3m3 0h3m0 0h3m27 0h3m13 0h3m-232 1h3m12 0h3m0 0h3m15 0h3m0 0h3m5 0h3m4 0h3m3 0h3m4 0h3m4 0h3m5 0h3m3 0h3m1 0h3m2 0h3m-2 0h3m1 0h3m-2 0h3m0 0h3m-2 0h3m-1 0h3m20 0h3m11 0h3m0 0h3m56 0h3m0 0h3m18 0h3m5 0h3m-206 1h3m13 0h3m1 0h3m8 0h3m1 0h3m-2 0h3m8 0h3m-2 0h3m-1 0h3m8 0h3m6 0h3m1 0h3m3 0h3m12 0h3m0 0h3m9 0h3m12 0h3m7 0h3m4 0h3m0 0h3m4 0h3m4 0h3m8 0h3m12 0h3m78 0h3m-277 1h3m0 0h3m1 0h3m17 0h3m3 0h3m1 0h3m2 0h3m15 0h3m5 0h3m13 0h3m-1 0h3m4 0h3m2 0h3m0 0h3m1 0h3m-2 0h3m29 0h3m9 0h3m2 0h3m11 0h3m-181 1h3m7 0h3m0 0h3m1 0h3m17 0h3m4 0h3m7 0h3m-2 0h3m0 0h3m6 0h3m3 0h3m-1 0h3m7 0h3m3 0h3m26 0h3m4 0h3m-2 0h3m31 0h3m70 0h3m-255 1h3m29 0h3m9 0h3m5 0h3m-1 0h3m0 0h3m3 0h3m-2 0h3m7 0h3m0 0h3m8 0h3m-1 0h3m6 0h3m0 0h3m-1 0h3m0 0h3m10 0h3m55 0h3m6 0h3m0 0h3m0 0h3m9 0h3m-2 0h3m-191 1h3m13 0h3m4 0h3m9 0h3m2 0h3m-1 0h3m1 0h3m1 0h3m-1 0h3m3 0h3m5 0h3m1 0h3m11 0h3m16 0h3m13 0h3m-2 0h3m7 0h3m13 0h3m-141 1h3m14 0h3m1 0h3m11 0h3m3 0h3m14 0h3m17 0h3m3 0h3m0 0h3m13 0h3m0 0h3m2 0h3m17 0h3m-1 0h3m4 0h3m23 0h3m10 0h3m56 0h3m-241 1h3m-2 0h3m12 0h3m4 0h3m11 0h3m7 0h3m13 0h3m0 0h3m0 0h3m12 0h3m3 0h3m-1 0h3m0 0h3m43 0h3m-2 0h3m34 0h3m24 0h3m26 0h3m-219 1h3m8 0h3m0 0h3m4 0h3m-2 0h3m3 0h3m0 0h3m14 0h3m0 0h3m4 0h3m1 0h3m18 0h3m-2 0h3m-2 0h3m0 0h3m-2 0h3m-1 0h3m34 0h3m2 0h3m3 0h3m-1 0h3m18 0h3m11 0h3m43 0h3m1 0h3m-234 1h3m7 0h3m-1 0h3m1 0h3m-1 0h3m9 0h3m5 0h3m-2 0h3m3 0h3m-2 0h3m9 0h3m1 0h3m2 0h3m16 0h3m10 0h3m17 0h3m3 0h3m3 0h3m8 0h3m9 0h3m-183 1h3m28 0h3m8 0h3m0 0h3m6 0h3m25 0h3m12 0h3m-1 0h3m0 0h3m1 0h3m2 0h3m18 0h3m1 0h3m1 0h3m26 0h3m-1 0h3m39 0h3m13 0h3m-242 1h3m8 0h3m6 0h3m8 0h3m10 0h3m-2 0h3m4 0h3m0 0h3m-1 0h3m8 0h3m1 0h3m-2 0h3m0 0h3m1 0h3m-1 0h3m-2 0h3m1 0h3m7 0h3m11 0h3m19 0h3m80 0h3m37 0h3m-261 1h3m1 0h3m3 0h3m4 0h3m2 0h3m22 0h3m11 0h3m18 0h3m1 0h3m-2 0h3m0 0h3m10 0h3m0 0h3m31 0h3m3 0h3m45 0h3m-198 1h3m6 0h3m21 0h3m-1 0h3m7 0h3m9 0h3m10 0h3m19 0h3m2 0h3m-1 0h3m0 0h3m1 0h3m-2 0h3m3 0h3m-2 0h3m10 0h3m2 0h3m-2 0h3m6 0h3m10 0h3m-2 0h3m12 0h3m14 0h3m7 0h3m-203 1h3m8 0h3m17 0h3m4 0h3m16 0h3m2 0h3m3 0h3m-2 0h3m0 0h3m4 0h3m0 0h3m0 0h3m-2 0h3m8 0h3m-2 0h3m14 0h3m3 0h3m15 0h3m-2 0h3m18 0h3m1 0h3m0 0h3m72 0h3m-236 1h3m6 0h3m32 0h3m0 0h3m0 0h3m10 0h3m0 0h3m4 0h3m1 0h3m-1 0h3m0 0h3m-2 0h3m0 0h3m5 0h3m-1 0h3m3 0h3m7 0h3m-2 0h3m10 0h3m3 0h3m0 0h3m0 0h3m-1 0h3m24 0h3m45 0h3m-226 1h3m37 0h3m7 0h3m14 0h3m0 0h3m6 0h3m4 0h3m4 0h3m-2 0h3m1 0h3m6 0h3m-2 0h3m14 0h3m-2 0h3m4 0h3m0 0h3m3 0h3m3 0h3m8 0h3m-1 0h3m-1 0h3m4 0h3m11 0h3m-2 0h3m45 0h3m-233 1h3m11 0h3m18 0h3m7 0h3m3 0h3m4 0h3m0 0h3m18 0h3m6 0h3m12 0h3m6 0h3m2 0h3m3 0h3m7 0h3m-2 0h3m10 0h3m5 0h3m-1 0h3m9 0h3m-2 0h3m58 0h3m13 0h3m27 0h3m-275 1h3m4 0h3m0 0h3m5 0h3m26 0h3m-2 0h3m-2 0h3m-2 0h3m-2 0h3m-2 0h3m2 0h3m-2 0h3m0 0h3m-1 0h3m5 0h3m4 0h3m4 0h3m21 0h3m19 0h3m6 0h3m-2 0h3m-2 0h3m-2 0h3m8 0h3m4 0h3m9 0h3m11 0h3m96 0h3m-271 1h3m7 0h3m9 0h3m4 0h3m-2 0h3m7 0h3m1 0h3m21 0h3m4 0h3m-1 0h3m21 0h3m3 0h3m1 0h3m1 0h3m0 0h3m6 0h3m6 0h3m3 0h3m8 0h3m-163 1h3m1 0h3m-1 0h3m1 0h3m8 0h3m-1 0h3m2 0h3m4 0h3m-1 0h3m1 0h3m0 0h3m4 0h3m14 0h3m0 0h3m1 0h3m0 0h3m7 0h3m2 0h3m-1 0h3m9 0h3m19 0h3m2 0h3m3 0h3m8 0h3m2 0h3m39 0h3m-220 1h3m15 0h3m1 0h3m-2 0h3m3 0h3m13 0h3m6 0h3m14 0h3m4 0h3m2 0h3m-2 0h3m-2 0h3m1 0h3m6 0h3m7 0h3m2 0h3m5 0h3m-2 0h3m4 0h3m5 0h3m2 0h3m10 0h3m59 0h3m0 0h3m34 0h3m-266 1h3m10 0h3m12 0h3m5 0h3m3 0h3m-2 0h3m8 0h3m-2 0h3m-1 0h3m6 0h3m-2 0h3m-1 0h3m5 0h3m13 0h3m0 0h3m12 0h3m-2 0h3m11 0h3m13 0h3m4 0h3m23 0h3m1 0h3m43 0h3m-200 1h3m3 0h3m1 0h3m19 0h3m3 0h3m1 0h3m-1 0h3m8 0h3m-1 0h3m-2 0h3m6 0h3m3 0h3m-1 0h3m6 0h3m0 0h3m0 0h3m4 0h3m4 0h3m28 0h3m1 0h3m2 0h3m14 0h3m8 0h3m-177 1h3m13 0h3m10 0h3m-2 0h3m19 0h3m3 0h3m-1 0h3m5 0h3m1 0h3m6 0h3m6 0h3m-2 0h3m12 0h3m-2 0h3m-1 0h3m7 0h3m20 0h3m-2 0h3m1 0h3m5 0h3m-2 0h3m15 0h3m-149 1h3m12 0h3m11 0h3m4 0h3m3 0h3m-1 0h3m9 0h3m1 0h3m-2 0h3m3 0h3m-1 0h3m11 0h3m2 0h3m-1 0h3m17 0h3m19 0h3m46 0h3m-236 1h3m6 0h3m1 0h3m-2 0h3m26 0h3m7 0h3m0 0h3m5 0h3m2 0h3m-1 0h3m-2 0h3m4 0h3m-2 0h3m0 0h3m-1 0h3m6 0h3m1 0h3m12 0h3m4 0h3m16 0h3m6 0h3m32 0h3m49 0h3m5 0h3m18 0h3m-213 1h3m3 0h3m-1 0h3m34 0h3m7 0h3m21 0h3m29 0h3m19 0h3m30 0h3m-223 1h3m12 0h3m20 0h3m9 0h3m25 0h3m16 0h3m10 0h3m24 0h3m9 0h3m2 0h3m5 0h3m15 0h3m21 0h3m22 0h3m-202 1h3m5 0h3m13 0h3m0 0h3m-2 0h3m-1 0h3m0 0h3m7 0h3m2 0h3m11 0h3m7 0h3m-1 0h3m-1 0h3m7 0h3m-2 0h3m16 0h3m10 0h3m31 0h3m17 0h3m28 0h3m-240 1h3m-2 0h3m5 0h3m13 0h3m2 0h3m14 0h3m-2 0h3m24 0h3m8 0h3m1 0h3m0 0h3m5 0h3m-1 0h3m7 0h3m-1 0h3m0 0h3m11 0h3m11 0h3m3 0h3m-2 0h3m12 0h3m27 0h3m7 0h3m-210 1h3m16 0h3m11 0h3m12 0h3m26 0h3m32 0h3m1 0h3m8 0h3m27 0h3m20 0h3m38 0h3m14 0h3m-228 1h3m22 0h3m22 0h3m13 0h3m10 0h3m-2 0h3m17 0h3m-2 0h3m14 0h3m-2 0h3m8 0h3m17 0h3m43 0h3m39 0h3m-234 1h3m23 0h3m24 0h3m3 0h3m15 0h3m26 0h3m13 0h3m4 0h3m31 0h3m-1 0h3m-181 1h3m20 0h3m6 0h3m22 0h3m-2 0h3m-1 0h3m6 0h3m-1 0h3m-2 0h3m66 0h3m-2 0h3m52 0h3m-205 1h3m17 0h3m18 0h3m3 0h3m21 0h3m5 0h3m26 0h3m-2 0h3m4 0h3m54 0h3m7 0h3m12 0h3m60 0h3m-253 1h3m52 0h3m7 0h3m26 0h3m7 0h3m13 0h3m9 0h3m2 0h3m8 0h3m4 0h3m45 0h3m60 0h3m-261 1h3m25 0h3m0 0h3m-2 0h3m13 0h3m-2 0h3m7 0h3m1 0h3m4 0h3m-2 0h3m-1 0h3m12 0h3m1 0h3m2 0h3m1 0h3m0 0h3m15 0h3m22 0h3m47 0h3m-211 1h3m58 0h3m1 0h3m2 0h3m0 0h3m7 0h3m15 0h3m26 0h3m0 0h3m13 0h3m38 0h3m35 0h3m7 0h3m17 0h3m-247 1h3m1 0h3m28 0h3m23 0h3m18 0h3m1 0h3m12 0h3m8 0h3m30 0h3m83 0h3m-227 1h3m4 0h3m21 0h3m3 0h3m1 0h3m31 0h3m13 0h3m10 0h3m1 0h3m9 0h3m9 0h3m-2 0h3m6 0h3m4 0h3m1 0h3m11 0h3m29 0h3m28 0h3m-220 1h3m7 0h3m5 0h3m11 0h3m-1 0h3m11 0h3m3 0h3m0 0h3m9 0h3m4 0h3m2 0h3m0 0h3m13 0h3m44 0h3m49 0h3m16 0h3m-261 1h3m44 0h3m4 0h3m-2 0h3m35 0h3m12 0h3m3 0h3m45 0h3m108 0h3m-233 1h3m45 0h3m2 0h3m-2 0h3m3 0h3m0 0h3m68 0h3m39 0h3m29 0h3m-240 1h3m3 0h3m17 0h3m5 0h3m19 0h3m0 0h3m4 0h3m12 0h3m2 0h3m14 0h3m-2 0h3m13 0h3m29 0h3m23 0h3m32 0h3m-198 1h3m41 0h3m15 0h3m16 0h3m18 0h3m52 0h3m7 0h3m-183 1h3m44 0h3m58 0h3m-1 0h3m80 0h3m8 0h3m-230 1h3m3 0h3m32 0h3m55 0h3m1 0h3m8 0h3m6 0h3m7 0h3m6 0h3m14 0h3m9 0h3m42 0h3m-219 1h3m2 0h3m7 0h3m-1 0h3m24 0h3m2 0h3m2 0h3m9 0h3m-1 0h3m3 0h3m14 0h3m16 0h3m20 0h3m15 0h3m23 0h3m-1 0h3m-145 1h3m14 0h3m13 0h3m-2 0h3m7 0h3m47 0h3m21 0h3m17 0h3m112 0h3m-220 1h3m63 0h3m123 0h3m30 0h3m-294 1h3m9 0h3m10 0h3m29 0h3m25 0h3m9 0h3m6 0h3m23 0h3m-1 0h3m9 0h3m-106 1h3m9 0h3m9 0h3m28 0h3m41 0h3m46 0h3m6 0h3m54 0h3m-248 1h3m17 0h3m25 0h3m27 0h3m16 0h3m-102 1h3m18 0h3m39 0h3m5 0h3m24 0h3m-1 0h3m13 0h3m-130 1h3m41 0h3m-1 0h3m5 0h3m58 0h3m20 0h3m-85 1h3m39 0h3m9 0h3m12 0h3m33 0h3m6 0h3m13 0h3m-127 1h3m8 0h3m38 0h3m24 0h3m11 0h3m68 0h3m-161 1h3m45 0h3m0 0h3m16 0h3m2 0h3m-2 1h3m-88 1h3m21 0h3m75 0h3m-135 1h3m42 0h3m-2 0h3m11 0h3m36 0h3m1 0h3m-53 1h3m44 0h3m-115 1h3m21 0h3m12 0h3m-21 1h3m8 0h3m39 0h3m33 0h3m-103 1h3m110 0h3m66 0h3m-69 1h3m44 0h3m-199 1h3m62 0h3m1 0h3m1 0h3m-1 0h3m14 0h3m7 0h3m19 0h3m9 0h3m-72 1h3m51 0h3m-1 0h3m-77 1h3m-7 1h3m10 0h3m-17 1h3m116 0h3m-164 1h3m153 0h3m202 0h3m-254 1h3m28 1h3m-7 1h3m-93 1h3m11 1h3m131 1h3m18 0h3m-66 1h3m-121 1h3m154 0h3m-89 1h3m164 0h3m-209 1h3m-52 1h3m179 0h3m-44 1h3m-148 4h3m89 2h3m-56 2h3m89 1h3m-18 5h3m-43 15h3m62 0h3m-109 2h3m100 5h3m-80 3h3m26 1h3m10 1h3m114 8h3m-221 2h3m120 1h3m-51 4h3m8 0h3m12 1h3m-5 2h3m11 4h3m17 7h3m-151 1h3m129 0h3m-27 2h3m-30 1h3m32 1h3m-72 1h3m31 2h3m-8 1h3m106 3h3m-154 1h3m86 0h3m-39 1h3m32 0h3m9 1h3m-41 1h3m28 0h3m-52 1h3m-35 1h3m30 1h3m17 1h3m-37 1h3m17 0h3m51 0h3m-66 1h3m35 0h3m-38 2h3m42 0h3m-75 1h3m61 0h3m-104 1h3m58 0h3m81 1h3m-43 5h3m-95 1h3m53 0h3m-33 1h3m14 1h3m38 0h3m66 0h3m-73 3h3m29 2h3m-14 1h3m-43 4h3m47 2h3m-124 1h3m80 2h3m9 0h3m10 2h3m-42 3h3m68 1h3m-118 2h3m96 0h3m-15 4h3m-122 1h3m114 1h3m-59 2h3m77 2h3m-49 2h3m71 1h3m-66 1h3m47 1h3m-125 4h3m21 1h3m91 1h3m-63 2h3m-67 1h3m70 0h3m-47 1h3m17 0h3m22 1h3m15 0h3m-96 1h3m29 0h3m3 0h3m16 0h3m-68 2h3m114 0h3m-84 1h3m-7 1h3m50 0h3m-43 1h3m11 0h3m13 0h3m-77 1h3m32 0h3m4 0h3m28 0h3m-105 1h3m4 0h3m92 0h3m-42 1h3m9 0h3m9 0h3m-1 0h3m13 0h3m-73 1h3m1 0h3m13 0h3m-2 0h3m2 0h3m91 0h3m-150 1h3m2 0h3m11 0h3m19 0h3m31 0h3m9 0h3m9 0h3m19 0h3m-77 1h3m0 0h3m28 0h3m-42 1h3m10 0h3m0 0h3m-2 0h3m9 0h3m32 0h3m-120 1h3m18 0h3m128 0h3m-115 1h3m22 0h3m27 0h3m8 0h3m-111 1h3m51 0h3m10 0h3m6 0h3m13 0h3m10 0h3m21 0h3m52 0h3m53 0h3m-219 1h3m4 0h3m47 0h3m4 0h3m40 0h3m27 0h3m-151 1h3m22 0h3m3 0h3m14 0h3m35 0h3m8 0h3m-64 1h3m20 0h3m3 0h3m-2 0h3m6 0h3m7 0h3m0 0h3m-2 0h3m11 0h3m52 0h3m-171 1h3m31 0h3m7 0h3m22 0h3m1 0h3m0 0h3m38 0h3m2 0h3m-106 1h3m15 0h3m20 0h3m-2 0h3m1 0h3m5 0h3m12 0h3m25 0h3m7 0h3m29 0h3m-148 1h3m5 0h3m2 0h3m-1 0h3m0 0h3m14 0h3m17 0h3m59 0h3m-122 1h3m63 0h3m-1 0h3m20 0h3m2 0h3m-115 1h3m7 0h3m19 0h3m-1 0h3m2 0h3m6 0h3m-1 0h3m54 0h3m21 0h3m12 0h3m21 0h3m77 0h3m-211 1h3m10 0h3m3 0h3m0 0h3m7 0h3m4 0h3m0 0h3m1 0h3m0 0h3m10 0h3m3 0h3m1 0h3m12 0h3m8 0h3m9 0h3m39 0h3m-175 1h3m7 0h3m13 0h3m0 0h3m41 0h3m9 0h3m0 0h3m6 0h3m21 0h3m31 0h3m-1 0h3m-122 1h3m11 0h3m1 0h3m8 0h3m6 0h3m8 0h3m16 0h3m56 0h3m-184 1h3m20 0h3m6 0h3m-2 0h3m2 0h3m3 0h3m12 0h3m7 0h3m-2 0h3m0 0h3m27 0h3m24 0h3m17 0h3m124 0h3m-277 1h3m2 0h3m8 0h3m-2 0h3m9 0h3m-2 0h3m10 0h3m18 0h3m3 0h3m25 0h3m19 0h3m7 0h3m20 0h3m19 0h3m-160 1h3m7 0h3m-2 0h3m15 0h3m18 0h3m97 0h3m-174 1h3m2 0h3m6 0h3m11 0h3m45 0h3m-1 0h3m-2 0h3m0 0h3m15 0h3m32 0h3m6 0h3m-147 1h3m-2 0h3m16 0h3m-2 0h3m23 0h3m2 0h3m-2 0h3m-1 0h3m2 0h3m1 0h3m8 0h3m10 0h3m1 0h3m-2 0h3m0 0h3m17 0h3m17 0h3m8 0h3m-128 1h3m1 0h3m-2 0h3m12 0h3m9 0h3m19 0h3m41 0h3m25 0h3m6 0h3m-168 1h3m40 0h3m10 0h3m1 0h3m-1 0h3m-1 0h3m0 0h3m6 0h3m1 0h3m4 0h3m51 0h3m-99 1h3m4 0h3m9 0h3m9 0h3m0 0h3m1 0h3m21 0h3m28 0h3m18 0h3m-149 1h3m22 0h3m4 0h3m2 0h3m1 0h3m1 0h3m19 0h3m3 0h3m12 0h3m1 0h3m0 0h3m7 0h3m0 0h3m5 0h3m4 0h3m70 0h3m-194 1h3m-2 0h3m8 0h3m16 0h3m11 0h3m2 0h3m7 0h3m-2 0h3m-1 0h3m0 0h3m18 0h3m1 0h3m-1 0h3m1 0h3m18 0h3m-2 0h3m2 0h3m28 0h3m-176 1h3m30 0h3m-2 0h3m0 0h3m19 0h3m7 0h3m10 0h3m-2 0h3m-1 0h3m-1 0h3m1 0h3m-1 0h3m9 0h3m0 0h3m-78 1h3m3 0h3m12 0h3m-2 0h3m1 0h3m15 0h3m-1 0h3m-2 0h3m18 0h3m48 0h3m-154 1h3m-1 0h3m10 0h3m14 0h3m-1 0h3m13 0h3m0 0h3m11 0h3m11 0h3m-2 0h3m14 0h3m9 0h3m0 0h3m-1 0h3m-114 1h3m2 0h3m3 0h3m17 0h3m1 0h3m10 0h3m0 0h3m4 0h3m7 0h3m-1 0h3m3 0h3m2 0h3m4 0h3m4 0h3m6 0h3m-2 0h3m12 0h3m8 0h3m0 0h3m-134 1h3m8 0h3m1 0h3m12 0h3m-2 0h3m62 0h3m0 0h3m12 0h3m3 0h3m-108 1h3m23 0h3m4 0h3m-1 0h3m2 0h3m9 0h3m0 0h3m-1 0h3m24 0h3m25 0h3m14 0h3m-1 0h3m5 0h3m-144 1h3m-2 0h3m-1 0h3m-2 0h3m7 0h3m5 0h3m5 0h3m3 0h3m14 0h3m8 0h3m0 0h3m-1 0h3m11 0h3m0 0h3m3 0h3m14 0h3m15 0h3m-151 1h3m17 0h3m-2 0h3m-2 0h3m16 0h3m-1 0h3m-1 0h3m8 0h3m8 0h3m4 0h3m-1 0h3m3 0h3m2 0h3m35 0h3m-2 0h3m34 0h3m11 0h3m-171 1h3m5 0h3m0 0h3m8 0h3m3 0h3m3 0h3m0 0h3m0 0h3m13 0h3m2 0h3m10 0h3m10 0h3m66 0h3m4 0h3m-143 1h3m16 0h3m0 0h3m5 0h3m17 0h3m45 0h3m-112 1h3m6 0h3m3 0h3m7 0h3m17 0h3m4 0h3m-1 0h3m5 0h3m5 0h3m12 0h3m27 0h3m6 0h3m3 0h3m-156 1h3m16 0h3m1 0h3m40 0h3m-2 0h3m8 0h3m-1 0h3m8 0h3m12 0h3m36 0h3m-141 1h3m14 0h3m7 0h3m15 0h3m19 0h3m1 0h3m27 0h3m2 0h3m11 0h3m0 0h3m14 0h3m-121 1h3m-2 0h3m13 0h3m10 0h3m17 0h3m27 0h3m-2 0h3m18 0h3m7 0h3m90 0h3m-197 1h3m16 0h3m-2 0h3m0 0h3m3 0h3m4 0h3m17 0h3m4 0h3m6 0h3m27 0h3m0 0h3m-137 1h3m36 0h3m-2 0h3m1 0h3m-1 0h3m20 0h3m31 0h3m30 0h3m20 0h3m-164 1h3m15 0h3m7 0h3m2 0h3m8 0h3m9 0h3m7 0h3m3 0h3m-2 0h3m5 0h3m-2 0h3m15 0h3m2 0h3m-1 0h3m25 0h3m-81 1h3m1 0h3m13 0h3m4 0h3m17 0h3m86 0h3m3 0h3m-183 1h3m1 0h3m6 0h3m31 0h3m9 0h3m47 0h3m27 0h3m-118 1h3m1 0h3m9 0h3m7 0h3m10 0h3m2 0h3m9 0h3m1 0h3m1 0h3m30 0h3m-132 1h3m36 0h3m23 0h3m0 0h3m36 0h3m139 0h3m-255 1h3m17 0h3m1 0h3m0 0h3m18 0h3m4 0h3m-1 0h3m43 0h3m7 0h3m26 0h3m2 0h3m-95 1h3m5 0h3m33 0h3m7 0h3m8 0h3m4 0h3m3 0h3m-151 1h3m9 0h3m-1 0h3m46 0h3m29 0h3m66 0h3m-151 1h3m5 0h3m-2 0h3m1 0h3m28 0h3m0 0h3m6 0h3m12 0h3m-2 0h3m15 0h3m13 0h3m8 0h3m0 0h3m3 0h3m-110 1h3m3 0h3m5 0h3m5 0h3m0 0h3m20 0h3m-1 0h3m4 0h3m1 0h3m5 0h3m2 0h3m21 0h3m-129 1h3m0 0h3m2 0h3m7 0h3m2 0h3m-2 0h3m5 0h3m12 0h3m11 0h3m6 0h3m1 0h3m5 0h3m65 0h3m23 0h3m-181 1h3m18 0h3m1 0h3m35 0h3m23 0h3m0 0h3m30 0h3m29 0h3m-157 1h3m44 0h3m35 0h3m16 0h3m-74 1h3m14 0h3m27 0h3m6 0h3m8 0h3m53 0h3m-142 1h3m31 0h3m0 0h3m33 0h3m0 0h3m15 0h3m-100 1h3m25 0h3m8 0h3m12 0h3m30 0h3m-56 1h3m33 0h3m19 0h3m-110 1h3m29 0h3m1 0h3m8 0h3m13 0h3m-2 0h3m15 0h3m8 0h3m28 0h3m75 0h3m-151 1h3m13 0h3m81 0h3m-145 1h3m26 0h3m11 0h3m-1 0h3m5 0h3m4 0h3m10 1h3m12 0h3m16 0h3m-34 1h3m21 0h3m16 0h3m51 0h3m-156 1h3m4 0h3m47 0h3m11 0h3m15 0h3m72 0h3m-204 1h3m16 0h3m16 0h3m24 0h3m1 0h3m5 0h3m13 0h3m5 0h3m-45 1h3m68 0h3m20 0h3m-137 1h3m45 0h3m23 0h3m8 0h3m-68 1h3m6 0h3m-23 1h3m5 0h3m-19 1h3m82 0h3m-107 1h3m54 0h3m0 0h3m80 0h3m23 0h3m-139 1h3m52 1h3m-37 1h3m5 0h3m-24 1h3m22 3h3m-18 2h3m31 0h3m23 0h3m86 0h3m-203 2h3m114 0h3m-5 1h3m-115 1h3m71 3h3m21 0h3m-13 5h3m38 1h3" stroke="#3d3dff" stroke-width="3.2" fill="none" opacity="0.75"/><path transform="translate(1618.9,727.3) scale(0.25)" d="M0 0m85 130h3m22 3h3m1 1h3m10 0h3m-76 1h3m35 0h3m-45 1h3m12 0h3m1 0h3m1 0h3m59 1h3m5 2h3m-21 1h3m-10 1h3m11 1h3m12 0h3m-113 1h3m-16 3h3m115 0h3m7 0h3m-15 1h3m3 3h3m-116 4h3m124 0h3m-132 2h3m-6 1h3m138 0h3m-10 1h3m-2 2h3m-143 1h3m-1 2h3m140 0h3m0 1h3m-11 5h3m-2 0h3m2 2h3m1 0h3m-8 3h3m-145 1h3m148 0h3m-156 2h3m142 0h3m0 1h3m-16 1h3m-131 2h3m-7 2h3m-10 4h3m137 1h3m-133 3h3m124 1h3m-106 4h3m91 0h3m-111 1h3m13 2h3m-5 1h3m56 0h3m0 0h3m33 0h3m-49 1h3m-36 1h3m27 0h3m31 0h3m-71 1h3m38 0h3m4 0h3m-75 1h3m24 0h3m54 0h3m4 0h3m-11 1h3m-61 2h3m14 0h3m-19 2h3m23 1h3m-22 1h3m-1 207h3m19 0h3m-16 2h3m-23 1h3m2 0h3m-18 1h3m57 0h3m-70 1h3m12 0h3m47 1h3m15 1h3m-91 1h3m-1 0h3m80 4h3m12 0h3m-118 1h3m103 0h3m-113 2h3m113 0h3m-120 1h3m8 0h3m97 0h3m6 1h3m-120 3h3m-2 4h3m-14 2h3m7 4h3m-11 2h3m12 0h3m-6 4h3m109 0h3m-110 2h3m98 0h3m-107 5h3m98 0h3m-97 2h3m-2 0h3m1 2h3m71 0h3m-83 1h3m75 0h3m-75 1h3m23 2h3m18 2h3m10 0h3m-11 1h3m11 0h3m-21 1h3m-29 1h3" stroke="#22a8e8" stroke-width="3.2" fill="none" opacity="0.85"/><path transform="translate(1618.9,727.3) scale(0.25)" d="M0 0m85 139h3m-6 1h3m3 0h3m-11 1h3m7 1h3m15 0h3m-46 1h3m0 0h3m-2 0h3m11 0h3m7 0h3m-14 1h3m13 0h3m2 0h3m15 0h3m-41 1h3m7 0h3m14 0h3m1 0h3m-59 1h3m6 0h3m15 0h3m-35 1h3m20 0h3m30 0h3m-52 1h3m12 0h3m7 0h3m-2 0h3m12 0h3m28 0h3m-47 1h3m10 0h3m6 0h3m17 0h3m-72 1h3m15 0h3m15 0h3m5 0h3m1 0h3m2 0h3m2 0h3m18 0h3m-93 1h3m11 0h3m15 0h3m4 0h3m2 0h3m8 0h3m22 0h3m-88 1h3m-2 0h3m10 0h3m14 0h3m0 0h3m12 0h3m5 0h3m12 0h3m14 0h3m-1 0h3m-43 1h3m12 0h3m25 0h3m-102 1h3m-2 0h3m22 0h3m60 0h3m10 0h3m-87 1h3m19 0h3m26 0h3m4 0h3m1 0h3m3 0h3m-91 1h3m21 0h3m8 0h3m7 0h3m5 0h3m-1 0h3m11 0h3m10 0h3m24 0h3m-93 1h3m14 0h3m39 0h3m32 0h3m-118 1h3m22 0h3m10 0h3m7 0h3m4 0h3m2 0h3m22 0h3m-64 1h3m31 0h3m5 0h3m0 0h3m42 0h3m-111 1h3m105 0h3m-74 1h3m59 0h3m8 0h3m-94 1h3m-1 0h3m6 0h3m15 0h3m3 0h3m15 0h3m6 0h3m24 0h3m-2 0h3m-87 1h3m52 0h3m3 0h3m-86 1h3m1 0h3m45 0h3m32 0h3m4 0h3m-107 1h3m-1 0h3m15 0h3m22 0h3m20 0h3m7 0h3m-30 1h3m0 0h3m34 0h3m14 0h3m5 0h3m-102 1h3m2 0h3m5 0h3m15 0h3m13 0h3m1 0h3m-1 0h3m18 0h3m-89 1h3m0 0h3m0 0h3m16 0h3m13 0h3m-2 0h3m4 0h3m0 0h3m8 0h3m12 0h3m-74 1h3m19 0h3m3 0h3m-2 0h3m22 0h3m-52 1h3m14 0h3m3 0h3m57 0h3m-99 1h3m52 0h3m-11 1h3m4 0h3m-1 0h3m3 0h3m-1 0h3m1 0h3m-67 1h3m-2 0h3m10 0h3m18 0h3m7 0h3m7 0h3m18 0h3m9 0h3m0 0h3m-69 1h3m7 0h3m1 0h3m0 0h3m4 0h3m0 0h3m11 0h3m1 0h3m17 0h3m12 0h3m-77 1h3m37 0h3m8 0h3m2 0h3m-82 1h3m11 0h3m39 0h3m-2 0h3m-69 1h3m2 0h3m35 0h3m1 0h3m1 0h3m15 0h3m31 0h3m-101 1h3m38 0h3m11 0h3m10 0h3m-36 1h3m-1 0h3m2 0h3m6 0h3m11 0h3m27 0h3m1 0h3m-2 0h3m-115 1h3m5 0h3m33 0h3m11 0h3m13 0h3m21 0h3m10 0h3m-102 1h3m17 0h3m13 0h3m6 0h3m54 0h3m-73 1h3m7 0h3m3 0h3m-1 0h3m10 0h3m10 0h3m-53 1h3m-1 0h3m8 0h3m19 0h3m0 0h3m0 0h3m-81 1h3m-1 0h3m3 0h3m9 0h3m21 0h3m18 0h3m15 0h3m2 0h3m3 0h3m-2 0h3m15 0h3m-72 1h3m37 0h3m-81 1h3m1 0h3m14 0h3m12 0h3m26 0h3m-49 1h3m0 0h3m0 0h3m13 0h3m38 0h3m-85 1h3m29 0h3m10 0h3m2 0h3m10 0h3m-31 1h3m1 0h3m2 0h3m0 0h3m16 0h3m24 0h3m-82 1h3m10 0h3m1 0h3m31 0h3m18 0h3m9 0h3m-97 1h3m-2 0h3m12 0h3m25 0h3m22 0h3m-49 1h3m8 0h3m-1 0h3m-26 1h3m10 0h3m1 0h3m5 0h3m3 0h3m0 0h3m1 0h3m6 0h3m3 0h3m12 0h3m-61 1h3m11 0h3m17 0h3m3 0h3m-45 1h3m64 0h3m-67 1h3m-1 0h3m15 0h3m-2 0h3m-2 0h3m4 0h3m14 0h3m-8 2h3m-41 1h3m-2 0h3m0 1h3m-2 0h3m5 222h3m0 0h3m-1 1h3m-1 0h3m-24 1h3m5 0h3m5 0h3m6 1h3m-40 1h3m15 0h3m2 0h3m4 0h3m-30 1h3m24 0h3m-17 1h3m13 0h3m1 0h3m5 0h3m11 0h3m-27 2h3m4 0h3m4 0h3m-34 1h3m0 0h3m5 0h3m-25 1h3m47 0h3m-13 1h3m-48 1h3m12 0h3m10 0h3m22 0h3m-66 1h3m59 0h3m-1 0h3m-76 1h3m22 0h3m44 0h3m0 0h3m5 0h3m4 1h3m-29 2h3m14 0h3m-71 1h3m36 0h3m-45 1h3m3 0h3m46 0h3m-60 1h3m46 0h3m10 0h3m-63 1h3m1 0h3m25 0h3m19 0h3m7 0h3m-73 1h3m17 0h3m59 0h3m-61 1h3m49 0h3m-2 0h3m-86 1h3m7 0h3m5 0h3m31 0h3m2 0h3m10 0h3m18 0h3m-89 1h3m27 0h3m8 0h3m-8 1h3m18 0h3m-34 1h3m15 1h3m39 1h3m-1 0h3m3 0h3m-3 1h3m-92 1h3m65 0h3m-76 1h3m30 0h3m20 0h3m13 0h3m-77 1h3m10 0h3m-12 1h3m-1 0h3m54 0h3m19 0h3m-35 1h3m13 0h3m1 0h3m-55 1h3m-2 0h3m19 0h3m-41 1h3m4 1h3m47 0h3m-60 1h3m-1 0h3m0 0h3m37 0h3m4 0h3m0 0h3m6 0h3m-61 1h3m7 0h3m0 0h3m16 0h3m39 0h3m-59 2h3m22 0h3m10 0h3m-56 1h3m16 0h3m6 0h3m-2 0h3m17 0h3m0 0h3m-12 1h3m-36 1h3m21 0h3m14 0h3m-30 1h3m4 0h3" stroke="#35d535" stroke-width="3.2" fill="none" opacity="0.9"/><path transform="translate(1618.9,727.3) scale(0.25)" d="M0 0m100 151h3m-1 2h3m-32 1h3m-2 1h3m20 0h3m-3 1h3m-16 1h3m-17 1h3m43 0h3m-42 1h3m47 2h3m-74 2h3m25 1h3m11 0h3m-35 1h3m25 2h3m29 0h3m-73 1h3m18 0h3m19 0h3m-49 2h3m29 0h3m6 0h3m6 0h3m0 0h3m-34 2h3m-11 1h3m6 0h3m24 0h3m-37 1h3m8 0h3m-1 1h3m16 0h3m-1 1h3m23 0h3m-6 2h3m-63 1h3m23 0h3m5 1h3m-1 0h3m-27 1h3m18 0h3m-9 1h3m-32 1h3m47 0h3m-2 1h3m-26 1h3m3 1h3m10 0h3m1 0h3m-26 1h3m6 0h3m-11 2h3m-13 244h3m2 1h3m-13 2h3m-1 1h3m27 0h3m-28 2h3m18 0h3m-10 3h3m12 0h3m-39 1h3m40 0h3m-36 1h3m-30 3h3m3 0h3m27 1h3m-23 1h3m5 0h3m3 1h3m12 0h3m-3 1h3m5 0h3m-28 3h3m3 0h3m-8 4h3" stroke="#e8d020" stroke-width="3.2" fill="none" opacity="0.9"/><path transform="translate(1618.9,727.3) scale(0.25)" d="M0 0m73 155h3m31 3h3m-11 4h3m15 1h3m-1 0h3m-45 1h3m-6 2h3m11 0h3m-2 1h3m0 0h3m-37 1h3m-1 1h3m6 3h3m59 0h3m-43 7h3m-1 0h3m0 0h3m25 0h3m-27 3h3m21 0h3m-27 2h3m-22 4h3m19 0h3m-18 1h3m11 0h3m-24 249h3m6 0h3m17 3h3m-50 1h3m12 0h3m34 0h3m-57 2h3m44 3h3m-39 4h3m35 4h3m-31 3h3m-7 1h3" stroke="#ff5020" stroke-width="3.2" fill="none" opacity="0.9"/>
<path transform="translate(1618.9,889.4) scale(0.25)" d="M0 0m47 5h3m72 2h3m-10 8h3m-48 3h3m79 4h3m41 5h3m14 2h3m57 0h3m15 3h3m-204 1h3m-20 9h3m86 1h3m24 2h3m-136 8h3m172 0h3m-48 1h3m-114 1h3m83 0h3m-26 2h3m168 0h3m0 1h3m-232 1h3m-2 0h3m129 0h3m-90 1h3m81 0h3m-110 1h3m27 0h3m191 1h3m-225 1h3m53 0h3m23 1h3m77 0h3m-111 1h3m0 0h3m-30 1h3m-96 1h3m51 0h3m136 0h3m-64 1h3m61 0h3m-166 2h3m11 0h3m38 0h3m19 0h3m-1 0h3m133 0h3m-252 1h3m11 0h3m15 0h3m42 0h3m35 0h3m29 0h3m40 0h3m16 0h3m13 0h3m-224 1h3m2 0h3m48 0h3m2 0h3m-2 0h3m16 0h3m-97 1h3m14 0h3m-1 0h3m22 0h3m0 0h3m7 0h3m38 0h3m40 0h3m-82 1h3m38 0h3m127 0h3m-157 1h3m23 0h3m100 0h3m-134 1h3m83 0h3m-117 1h3m46 0h3m46 0h3m57 0h3m-108 1h3m26 0h3m12 0h3m-154 1h3m22 0h3m84 0h3m66 0h3m-2 0h3m103 0h3m-272 1h3m5 0h3m19 0h3m44 0h3m86 0h3m26 0h3m23 0h3m-214 1h3m11 0h3m21 0h3m-22 1h3m10 0h3m34 0h3m8 0h3m2 0h3m0 0h3m86 0h3m11 0h3m42 0h3m-263 1h3m43 0h3m7 0h3m16 0h3m14 0h3m15 0h3m-35 1h3m17 0h3m45 0h3m33 0h3m-100 1h3m2 0h3m26 0h3m17 0h3m-154 1h3m31 0h3m12 0h3m86 0h3m156 0h3m-277 1h3m31 0h3m9 0h3m9 0h3m41 0h3m51 0h3m37 0h3m-114 1h3m5 0h3m30 0h3m-137 1h3m19 0h3m8 0h3m3 0h3m1 0h3m8 0h3m8 0h3m12 0h3m1 0h3m10 0h3m9 0h3m7 0h3m6 0h3m-138 1h3m-2 0h3m25 0h3m3 0h3m10 0h3m8 0h3m11 0h3m102 0h3m-1 0h3m8 0h3m4 0h3m-170 1h3m31 0h3m25 0h3m53 0h3m116 0h3m-247 1h3m28 0h3m24 0h3m3 0h3m10 0h3m1 0h3m1 0h3m0 0h3m0 0h3m10 0h3m0 0h3m4 0h3m35 0h3m7 0h3m46 0h3m-231 1h3m31 0h3m-1 0h3m1 0h3m4 0h3m1 0h3m13 0h3m3 0h3m-1 0h3m4 0h3m52 0h3m15 0h3m-142 1h3m35 0h3m-2 0h3m43 0h3m12 0h3m38 0h3m-126 1h3m7 0h3m44 0h3m9 0h3m40 0h3m-87 1h3m-59 1h3m24 0h3m5 0h3m7 0h3m-2 0h3m36 0h3m50 0h3m2 0h3m18 0h3m4 0h3m-164 1h3m5 0h3m14 0h3m1 0h3m11 0h3m4 0h3m29 0h3m53 0h3m2 0h3m35 0h3m-184 1h3m14 0h3m26 0h3m12 0h3m4 0h3m17 0h3m1 0h3m0 0h3m18 0h3m0 0h3m13 0h3m-1 0h3m-98 1h3m24 0h3m10 0h3m12 0h3m11 0h3m6 0h3m20 0h3m-1 0h3m-2 0h3m-173 1h3m17 0h3m28 0h3m6 0h3m3 0h3m22 0h3m-40 1h3m6 0h3m35 0h3m54 0h3m12 0h3m16 0h3m-178 1h3m18 0h3m12 0h3m6 0h3m18 0h3m41 0h3m17 0h3m0 0h3m0 0h3m2 0h3m-2 0h3m-119 1h3m4 0h3m18 0h3m32 0h3m12 0h3m0 0h3m9 0h3m6 0h3m-74 1h3m23 0h3m3 0h3m43 0h3m15 0h3m1 0h3m39 0h3m25 0h3m-198 1h3m-2 0h3m6 0h3m2 0h3m29 0h3m1 0h3m-2 0h3m3 0h3m0 0h3m31 0h3m80 0h3m-208 1h3m45 0h3m4 0h3m-1 0h3m-1 0h3m17 0h3m8 0h3m19 0h3m-2 0h3m17 0h3m0 0h3m5 0h3m95 0h3m15 0h3m-266 1h3m29 0h3m0 0h3m0 0h3m1 0h3m31 0h3m9 0h3m29 0h3m82 0h3m7 0h3m-243 1h3m26 0h3m-1 0h3m18 0h3m0 0h3m-1 0h3m11 0h3m3 0h3m0 0h3m13 0h3m-1 0h3m20 0h3m0 0h3m0 0h3m18 0h3m1 0h3m3 0h3m16 0h3m12 0h3m20 0h3m-186 1h3m8 0h3m25 0h3m13 0h3m23 0h3m28 0h3m-1 0h3m14 0h3m10 0h3m2 0h3m-1 0h3m-164 1h3m16 0h3m20 0h3m56 0h3m8 0h3m14 0h3m7 0h3m-2 0h3m2 0h3m6 0h3m-2 0h3m-162 1h3m9 0h3m9 0h3m6 0h3m3 0h3m36 0h3m8 0h3m7 0h3m18 0h3m7 0h3m16 0h3m-1 0h3m4 0h3m60 0h3m-230 1h3m22 0h3m4 0h3m27 0h3m6 0h3m2 0h3m6 0h3m10 0h3m5 0h3m0 0h3m10 0h3m7 0h3m1 0h3m65 0h3m-206 1h3m69 0h3m29 0h3m7 0h3m2 0h3m6 0h3m-1 0h3m27 0h3m39 0h3m-195 1h3m40 0h3m2 0h3m-2 0h3m2 0h3m12 0h3m8 0h3m-2 0h3m20 0h3m27 0h3m3 0h3m3 0h3m2 0h3m14 0h3m-177 1h3m11 0h3m16 0h3m1 0h3m0 0h3m-2 0h3m13 0h3m4 0h3m5 0h3m3 0h3m3 0h3m-1 0h3m3 0h3m1 0h3m8 0h3m6 0h3m-2 0h3m23 0h3m21 0h3m-183 1h3m42 0h3m14 0h3m0 0h3m0 0h3m-1 0h3m9 0h3m1 0h3m-2 0h3m8 0h3m1 0h3m12 0h3m6 0h3m46 0h3m12 0h3m56 0h3m-254 1h3m71 0h3m13 0h3m2 0h3m12 0h3m4 0h3m15 0h3m14 0h3m42 0h3m-170 1h3m17 0h3m3 0h3m9 0h3m6 0h3m0 0h3m7 0h3m5 0h3m11 0h3m0 0h3m11 0h3m0 0h3m-2 0h3m28 0h3m-173 1h3m27 0h3m4 0h3m7 0h3m12 0h3m34 0h3m10 0h3m1 0h3m4 0h3m-2 0h3m11 0h3m3 0h3m11 0h3m2 0h3m-1 0h3m-1 0h3m27 0h3m-182 1h3m16 0h3m6 0h3m19 0h3m0 0h3m12 0h3m2 0h3m33 0h3m0 0h3m-2 0h3m2 0h3m17 0h3m64 0h3m52 0h3m3 0h3m-266 1h3m7 0h3m6 0h3m-1 0h3m7 0h3m-2 0h3m16 0h3m3 0h3m17 0h3m12 0h3m11 0h3m2 0h3m3 0h3m42 0h3m0 0h3m6 0h3m54 0h3m-218 1h3m9 0h3m30 0h3m12 0h3m3 0h3m10 0h3m3 0h3m-2 0h3m1 0h3m25 0h3m36 0h3m30 0h3m32 0h3m-223 1h3m3 0h3m0 0h3m4 0h3m1 0h3m41 0h3m1 0h3m-2 0h3m-1 0h3m20 0h3m1 0h3m7 0h3m2 0h3m1 0h3m3 0h3m23 0h3m-147 1h3m0 0h3m14 0h3m11 0h3m6 0h3m18 0h3m2 0h3m-1 0h3m-1 0h3m1 0h3m143 0h3m-222 1h3m0 0h3m5 0h3m5 0h3m-2 0h3m3 0h3m1 0h3m-2 0h3m12 0h3m-1 0h3m4 0h3m8 0h3m2 0h3m-2 0h3m0 0h3m50 0h3m18 0h3m46 0h3m2 0h3m-240 1h3m1 0h3m24 0h3m3 0h3m15 0h3m1 0h3m10 0h3m5 0h3m-2 0h3m6 0h3m-2 0h3m-1 0h3m46 0h3m23 0h3m12 0h3m-2 0h3m-201 1h3m10 0h3m8 0h3m1 0h3m1 0h3m11 0h3m14 0h3m-2 0h3m-2 0h3m12 0h3m2 0h3m0 0h3m20 0h3m-2 0h3m12 0h3m23 0h3m5 0h3m-1 0h3m-157 1h3m7 0h3m-2 0h3m1 0h3m2 0h3m11 0h3m1 0h3m17 0h3m2 0h3m2 0h3m3 0h3m-2 0h3m9 0h3m6 0h3m-1 0h3m-1 0h3m42 0h3m2 0h3m5 0h3m48 0h3m61 0h3m-288 1h3m37 0h3m0 0h3m5 0h3m34 0h3m-2 0h3m0 0h3m6 0h3m-1 0h3m17 0h3m-1 0h3m6 0h3m11 0h3m7 0h3m16 0h3m56 0h3m-208 1h3m1 0h3m12 0h3m12 0h3m10 0h3m3 0h3m10 0h3m12 0h3m10 0h3m9 0h3m-2 0h3m-2 0h3m3 0h3m-2 0h3m3 0h3m-2 0h3m6 0h3m19 0h3m-171 1h3m3 0h3m-2 0h3m8 0h3m12 0h3m0 0h3m-1 0h3m3 0h3m6 0h3m-2 0h3m5 0h3m4 0h3m2 0h3m26 0h3m8 0h3m-2 0h3m-1 0h3m11 0h3m12 0h3m10 0h3m-1 0h3m26 0h3m47 0h3m-249 1h3m15 0h3m31 0h3m4 0h3m6 0h3m-1 0h3m0 0h3m9 0h3m21 0h3m-2 0h3m16 0h3m34 0h3m20 0h3m2 0h3m3 0h3m6 0h3m-208 1h3m1 0h3m1 0h3m14 0h3m33 0h3m3 0h3m4 0h3m12 0h3m1 0h3m-2 0h3m10 0h3m1 0h3m1 0h3m-2 0h3m26 0h3m1 0h3m4 0h3m4 0h3m2 0h3m1 0h3m-162 1h3m1 0h3m1 0h3m10 0h3m1 0h3m-2 0h3m-1 0h3m10 0h3m7 0h3m0 0h3m4 0h3m22 0h3m15 0h3m28 0h3m1 0h3m1 0h3m26 0h3m17 0h3m26 0h3m26 0h3m-255 1h3m8 0h3m20 0h3m8 0h3m15 0h3m15 0h3m22 0h3m-2 0h3m7 0h3m5 0h3m31 0h3m-188 1h3m15 0h3m15 0h3m11 0h3m2 0h3m1 0h3m17 0h3m1 0h3m6 0h3m2 0h3m10 0h3m-1 0h3m11 0h3m-1 0h3m1 0h3m-2 0h3m7 0h3m2 0h3m2 0h3m-1 0h3m0 0h3m-1 0h3m11 0h3m2 0h3m106 0h3m-260 1h3m5 0h3m12 0h3m5 0h3m-2 0h3m3 0h3m-2 0h3m8 0h3m23 0h3m-2 0h3m23 0h3m7 0h3m-1 0h3m0 0h3m3 0h3m1 0h3m-2 0h3m2 0h3m-1 0h3m18 0h3m3 0h3m-2 0h3m11 0h3m-173 1h3m-1 0h3m22 0h3m7 0h3m9 0h3m-2 0h3m8 0h3m-1 0h3m-1 0h3m2 0h3m11 0h3m-1 0h3m2 0h3m-2 0h3m-2 0h3m13 0h3m1 0h3m26 0h3m2 0h3m18 0h3m-192 1h3m9 0h3m27 0h3m-1 0h3m2 0h3m-1 0h3m-2 0h3m7 0h3m6 0h3m25 0h3m30 0h3m3 0h3m8 0h3m1 0h3m-2 0h3m3 0h3m65 0h3m-235 1h3m26 0h3m11 0h3m-2 0h3m6 0h3m1 0h3m-2 0h3m3 0h3m4 0h3m6 0h3m-1 0h3m2 0h3m2 0h3m0 0h3m9 0h3m7 0h3m8 0h3m7 0h3m12 0h3m64 0h3m-215 1h3m-2 0h3m-2 0h3m12 0h3m5 0h3m1 0h3m2 0h3m13 0h3m6 0h3m14 0h3m1 0h3m2 0h3m3 0h3m6 0h3m7 0h3m5 0h3m-2 0h3m1 0h3m-1 0h3m3 0h3m17 0h3m37 0h3m-170 1h3m6 0h3m9 0h3m-1 0h3m0 0h3m18 0h3m-2 0h3m-1 0h3m0 0h3m14 0h3m2 0h3m6 0h3m11 0h3m4 0h3m1 0h3m0 0h3m-2 0h3m-2 0h3m23 0h3m-2 0h3m8 0h3m1 0h3m9 0h3m22 0h3m-233 1h3m18 0h3m-2 0h3m20 0h3m7 0h3m14 0h3m-1 0h3m1 0h3m21 0h3m33 0h3m5 0h3m19 0h3m-157 1h3m8 0h3m-1 0h3m16 0h3m0 0h3m1 0h3m1 0h3m-1 0h3m1 0h3m0 0h3m13 0h3m-1 0h3m15 0h3m24 0h3m-1 0h3m5 0h3m4 0h3m10 0h3m36 0h3m32 0h3m-213 1h3m-1 0h3m7 0h3m-1 0h3m1 0h3m7 0h3m0 0h3m4 0h3m2 0h3m2 0h3m1 0h3m4 0h3m5 0h3m1 0h3m2 0h3m-1 0h3m12 0h3m-2 0h3m22 0h3m-2 0h3m0 0h3m5 0h3m15 0h3m1 0h3m-2 0h3m27 0h3m35 0h3m-245 1h3m2 0h3m11 0h3m8 0h3m-1 0h3m17 0h3m-1 0h3m-1 0h3m-1 0h3m11 0h3m0 0h3m5 0h3m5 0h3m1 0h3m3 0h3m4 0h3m0 0h3m14 0h3m-2 0h3m-1 0h3m-1 0h3m14 0h3m-2 0h3m7 0h3m12 0h3m39 0h3m22 0h3m-243 1h3m23 0h3m6 0h3m5 0h3m0 0h3m-2 0h3m5 0h3m11 0h3m4 0h3m0 0h3m-2 0h3m1 0h3m0 0h3m1 0h3m13 0h3m3 0h3m-2 0h3m-1 0h3m-2 0h3m-2 0h3m8 0h3m35 0h3m2 0h3m37 0h3m1 0h3m74 0h3m-293 1h3m16 0h3m1 0h3m20 0h3m-1 0h3m-2 0h3m1 0h3m-2 0h3m-1 0h3m2 0h3m4 0h3m8 0h3m22 0h3m6 0h3m7 0h3m0 0h3m23 0h3m14 0h3m29 0h3m107 0h3m-299 1h3m11 0h3m-2 0h3m-2 0h3m-1 0h3m15 0h3m1 0h3m17 0h3m4 0h3m-1 0h3m2 0h3m9 0h3m8 0h3m2 0h3m6 0h3m1 0h3m5 0h3m-2 0h3m-2 0h3m6 0h3m17 0h3m9 0h3m17 0h3m11 0h3m20 0h3m18 0h3m-237 1h3m22 0h3m-1 0h3m-2 0h3m-2 0h3m9 0h3m5 0h3m26 0h3m13 0h3m5 0h3m11 0h3m1 0h3m26 0h3m-1 0h3m8 0h3m24 0h3m18 0h3m1 0h3m-234 1h3m-2 0h3m18 0h3m-1 0h3m3 0h3m-2 0h3m0 0h3m8 0h3m5 0h3m15 0h3m9 0h3m4 0h3m1 0h3m-2 0h3m16 0h3m6 0h3m2 0h3m29 0h3m10 0h3m-1 0h3m-2 0h3m13 0h3m7 0h3m6 0h3m-209 1h3m10 0h3m2 0h3m4 0h3m13 0h3m5 0h3m6 0h3m8 0h3m1 0h3m26 0h3m5 0h3m10 0h3m58 0h3m5 0h3m6 0h3m-226 1h3m38 0h3m-2 0h3m27 0h3m0 0h3m11 0h3m-1 0h3m0 0h3m1 0h3m0 0h3m-1 0h3m-2 0h3m5 0h3m3 0h3m4 0h3m-2 0h3m6 0h3m6 0h3m11 0h3m6 0h3m13 0h3m32 0h3m-198 1h3m8 0h3m18 0h3m-2 0h3m-2 0h3m-1 0h3m-1 0h3m2 0h3m6 0h3m-2 0h3m4 0h3m21 0h3m1 0h3m13 0h3m7 0h3m23 0h3m-2 0h3m5 0h3m27 0h3m-207 1h3m27 0h3m1 0h3m29 0h3m0 0h3m-1 0h3m5 0h3m6 0h3m2 0h3m-1 0h3m-1 0h3m2 0h3m2 0h3m16 0h3m10 0h3m8 0h3m-1 0h3m11 0h3m20 0h3m-152 1h3m17 0h3m-1 0h3m12 0h3m16 0h3m2 0h3m1 0h3m-2 0h3m6 0h3m1 0h3m13 0h3m5 0h3m-2 0h3m4 0h3m9 0h3m4 0h3m-2 0h3m-2 0h3m56 0h3m-229 1h3m32 0h3m10 0h3m5 0h3m0 0h3m5 0h3m4 0h3m-2 0h3m0 0h3m23 0h3m11 0h3m0 0h3m9 0h3m0 0h3m3 0h3m18 0h3m0 0h3m60 0h3m2 0h3m-1 0h3m15 0h3m-233 1h3m1 0h3m1 0h3m0 0h3m1 0h3m-2 0h3m12 0h3m7 0h3m4 0h3m13 0h3m4 0h3m-2 0h3m1 0h3m4 0h3m-1 0h3m9 0h3m1 0h3m-1 0h3m9 0h3m6 0h3m0 0h3m21 0h3m146 0h3m-271 1h3m0 0h3m1 0h3m4 0h3m4 0h3m-1 0h3m9 0h3m-2 0h3m-2 0h3m-2 0h3m10 0h3m-2 0h3m-2 0h3m1 0h3m11 0h3m5 0h3m1 0h3m5 0h3m52 0h3m25 0h3m-214 1h3m0 0h3m6 0h3m12 0h3m5 0h3m3 0h3m1 0h3m1 0h3m1 0h3m4 0h3m-1 0h3m0 0h3m7 0h3m19 0h3m-1 0h3m-1 0h3m35 0h3m-1 0h3m14 0h3m18 0h3m25 0h3m-231 1h3m5 0h3m19 0h3m-2 0h3m6 0h3m1 0h3m1 0h3m9 0h3m-2 0h3m3 0h3m2 0h3m-2 0h3m-2 0h3m8 0h3m13 0h3m-1 0h3m-2 0h3m8 0h3m8 0h3m13 0h3m10 0h3m26 0h3m-2 0h3m16 0h3m0 0h3m85 0h3m-301 1h3m-1 0h3m23 0h3m8 0h3m6 0h3m2 0h3m1 0h3m2 0h3m2 0h3m-2 0h3m-2 0h3m0 0h3m-2 0h3m-1 0h3m1 0h3m4 0h3m2 0h3m11 0h3m0 0h3m11 0h3m34 0h3m3 0h3m45 0h3m23 0h3m-227 1h3m-2 0h3m19 0h3m9 0h3m10 0h3m0 0h3m15 0h3m20 0h3m0 0h3m-2 0h3m0 0h3m10 0h3m20 0h3m13 0h3m1 0h3m30 0h3m47 0h3m-242 1h3m3 0h3m23 0h3m10 0h3m12 0h3m5 0h3m-1 0h3m7 0h3m0 0h3m1 0h3m-2 0h3m8 0h3m1 0h3m-1 0h3m1 0h3m0 0h3m10 0h3m0 0h3m21 0h3m3 0h3m11 0h3m5 0h3m59 0h3m-229 1h3m-1 0h3m13 0h3m-2 0h3m3 0h3m-1 0h3m1 0h3m-2 0h3m-2 0h3m0 0h3m3 0h3m1 0h3m-2 0h3m1 0h3m13 0h3m2 0h3m7 0h3m0 0h3m4 0h3m1 0h3m5 0h3m5 0h3m3 0h3m25 0h3m17 0h3m8 0h3m10 0h3m74 0h3m-265 1h3m8 0h3m4 0h3m4 0h3m7 0h3m-2 0h3m1 0h3m4 0h3m25 0h3m1 0h3m2 0h3m1 0h3m3 0h3m76 0h3m-207 1h3m11 0h3m0 0h3m33 0h3m12 0h3m0 0h3m-1 0h3m3 0h3m-2 0h3m7 0h3m-1 0h3m1 0h3m2 0h3m2 0h3m0 0h3m5 0h3m13 0h3m13 0h3m90 0h3m-219 1h3m7 0h3m12 0h3m0 0h3m9 0h3m-1 0h3m-2 0h3m4 0h3m2 0h3m8 0h3m13 0h3m27 0h3m0 0h3m-2 0h3m0 0h3m4 0h3m3 0h3m2 0h3m1 0h3m23 0h3m14 0h3m-201 1h3m4 0h3m1 0h3m0 0h3m10 0h3m5 0h3m2 0h3m6 0h3m3 0h3m-2 0h3m12 0h3m10 0h3m-2 0h3m6 0h3m0 0h3m6 0h3m22 0h3m-2 0h3m22 0h3m1 0h3m4 0h3m8 0h3m18 0h3m27 0h3m-245 1h3m-2 0h3m33 0h3m5 0h3m2 0h3m-1 0h3m6 0h3m-1 0h3m-2 0h3m-1 0h3m1 0h3m15 0h3m0 0h3m-2 0h3m0 0h3m6 0h3m2 0h3m-1 0h3m1 0h3m15 0h3m38 0h3m12 0h3m-2 0h3m-2 0h3m2 0h3m-2 0h3m19 0h3m1 0h3m24 0h3m-229 1h3m12 0h3m8 0h3m7 0h3m-2 0h3m5 0h3m2 0h3m7 0h3m3 0h3m0 0h3m2 0h3m3 0h3m-2 0h3m2 0h3m11 0h3m-1 0h3m11 0h3m15 0h3m0 0h3m3 0h3m3 0h3m-1 0h3m15 0h3m7 0h3m-2 0h3m-1 0h3m48 0h3m-255 1h3m6 0h3m5 0h3m3 0h3m12 0h3m1 0h3m5 0h3m17 0h3m10 0h3m1 0h3m3 0h3m-2 0h3m29 0h3m13 0h3m6 0h3m10 0h3m22 0h3m39 0h3m-1 0h3m-252 1h3m18 0h3m11 0h3m24 0h3m2 0h3m1 0h3m0 0h3m-1 0h3m4 0h3m8 0h3m8 0h3m-2 0h3m2 0h3m4 0h3m13 0h3m3 0h3m18 0h3m19 0h3m-1 0h3m-1 0h3m-170 1h3m4 0h3m2 0h3m17 0h3m12 0h3m3 0h3m-2 0h3m1 0h3m11 0h3m-1 0h3m21 0h3m3 0h3m8 0h3m-2 0h3m3 0h3m9 0h3m8 0h3m24 0h3m-169 1h3m4 0h3m24 0h3m-2 0h3m-2 0h3m8 0h3m4 0h3m31 0h3m-2 0h3m1 0h3m10 0h3m-1 0h3m10 0h3m20 0h3m5 0h3m23 0h3m24 0h3m-192 1h3m-1 0h3m5 0h3m3 0h3m-2 0h3m-1 0h3m1 0h3m4 0h3m-2 0h3m2 0h3m2 0h3m-1 0h3m2 0h3m12 0h3m12 0h3m15 0h3m10 0h3m3 0h3m1 0h3m3 0h3m4 0h3m3 0h3m10 0h3m25 0h3m14 0h3m-233 1h3m5 0h3m2 0h3m37 0h3m9 0h3m20 0h3m10 0h3m19 0h3m9 0h3m-2 0h3m16 0h3m0 0h3m23 0h3m1 0h3m-167 1h3m26 0h3m-1 0h3m9 0h3m0 0h3m-2 0h3m10 0h3m6 0h3m-1 0h3m5 0h3m0 0h3m7 0h3m3 0h3m4 0h3m2 0h3m19 0h3m54 0h3m-195 1h3m9 0h3m3 0h3m0 0h3m8 0h3m1 0h3m-1 0h3m-2 0h3m-2 0h3m2 0h3m-2 0h3m2 0h3m9 0h3m24 0h3m0 0h3m4 0h3m3 0h3m4 0h3m6 0h3m0 0h3m1 0h3m1 0h3m-1 0h3m-2 0h3m1 0h3m27 0h3m10 0h3m-212 1h3m47 0h3m2 0h3m-1 0h3m3 0h3m6 0h3m9 0h3m0 0h3m5 0h3m3 0h3m1 0h3m9 0h3m-2 0h3m4 0h3m0 0h3m-1 0h3m2 0h3m4 0h3m16 0h3m22 0h3m37 0h3m16 0h3m-206 1h3m1 0h3m-1 0h3m1 0h3m1 0h3m7 0h3m-2 0h3m-1 0h3m6 0h3m0 0h3m8 0h3m0 0h3m-2 0h3m0 0h3m5 0h3m8 0h3m2 0h3m-1 0h3m-1 0h3m10 0h3m18 0h3m13 0h3m20 0h3m11 0h3m-190 1h3m13 0h3m0 0h3m4 0h3m5 0h3m-1 0h3m12 0h3m16 0h3m0 0h3m5 0h3m5 0h3m5 0h3m1 0h3m2 0h3m3 0h3m-1 0h3m-2 0h3m-1 0h3m2 0h3m6 0h3m1 0h3m19 0h3m2 0h3m4 0h3m21 0h3m-211 1h3m23 0h3m16 0h3m-2 0h3m34 0h3m4 0h3m28 0h3m10 0h3m2 0h3m1 0h3m19 0h3m10 0h3m22 0h3m45 0h3m-238 1h3m13 0h3m9 0h3m21 0h3m12 0h3m-2 0h3m-2 0h3m-2 0h3m0 0h3m5 0h3m2 0h3m6 0h3m58 0h3m15 0h3m53 0h3m-249 1h3m-1 0h3m6 0h3m10 0h3m2 0h3m14 0h3m-2 0h3m6 0h3m2 0h3m12 0h3m1 0h3m0 0h3m51 0h3m7 0h3m8 0h3m91 0h3m-209 1h3m0 0h3m7 0h3m5 0h3m8 0h3m2 0h3m7 0h3m29 0h3m59 0h3m97 0h3m-296 1h3m54 0h3m20 0h3m8 0h3m28 0h3m0 0h3m5 0h3m13 0h3m1 0h3m7 0h3m118 0h3m-270 1h3m24 0h3m10 0h3m6 0h3m2 0h3m4 0h3m2 0h3m15 0h3m2 0h3m7 0h3m0 0h3m-2 0h3m-1 0h3m5 0h3m5 0h3m2 0h3m15 0h3m70 0h3m-218 1h3m32 0h3m3 0h3m3 0h3m4 0h3m1 0h3m1 0h3m6 0h3m5 0h3m-1 0h3m-1 0h3m10 0h3m-2 0h3m12 0h3m-1 0h3m2 0h3m20 0h3m71 0h3m-207 1h3m2 0h3m1 0h3m9 0h3m43 0h3m-2 0h3m27 0h3m14 0h3m41 0h3m8 0h3m143 0h3m-337 1h3m16 0h3m7 0h3m3 0h3m17 0h3m41 0h3m0 0h3m47 0h3m24 0h3m42 0h3m-199 1h3m34 0h3m14 0h3m50 0h3m-2 0h3m-1 0h3m0 0h3m2 0h3m-1 0h3m18 0h3m-176 1h3m-2 0h3m42 0h3m6 0h3m2 0h3m2 0h3m5 0h3m14 0h3m-1 0h3m2 0h3m10 0h3m11 0h3m53 0h3m24 0h3m29 0h3m-250 1h3m11 0h3m-2 0h3m56 0h3m7 0h3m2 0h3m25 0h3m2 0h3m-1 0h3m-1 0h3m22 0h3m-2 0h3m14 0h3m10 0h3m35 0h3m-193 1h3m3 0h3m3 0h3m35 0h3m14 0h3m-1 0h3m22 0h3m37 0h3m4 0h3m7 0h3m7 0h3m-177 1h3m13 0h3m-1 0h3m15 0h3m3 0h3m6 0h3m0 0h3m14 0h3m-2 0h3m1 0h3m23 0h3m-1 0h3m1 0h3m16 0h3m0 0h3m4 0h3m2 0h3m1 0h3m5 0h3m7 0h3m3 0h3m-163 1h3m2 0h3m23 0h3m6 0h3m13 0h3m-1 0h3m18 0h3m-2 0h3m-1 0h3m-2 0h3m13 0h3m4 0h3m0 0h3m18 0h3m-2 0h3m26 0h3m53 0h3m-240 1h3m2 0h3m1 0h3m14 0h3m16 0h3m-2 0h3m23 0h3m2 0h3m4 0h3m25 0h3m-2 0h3m7 0h3m1 0h3m-2 0h3m2 0h3m0 0h3m9 0h3m-2 0h3m11 0h3m3 0h3m15 0h3m42 0h3m-251 1h3m24 0h3m17 0h3m19 0h3m11 0h3m30 0h3m22 0h3m-1 0h3m46 0h3m95 0h3m-251 1h3m5 0h3m0 0h3m2 0h3m2 0h3m3 0h3m10 0h3m1 0h3m-2 0h3m54 0h3m-1 0h3m-1 0h3m36 0h3m-168 1h3m26 0h3m-1 0h3m5 0h3m12 0h3m11 0h3m11 0h3m41 0h3m14 0h3m8 0h3m-148 1h3m2 0h3m21 0h3m17 0h3m5 0h3m5 0h3m10 0h3m8 0h3m-1 0h3m13 0h3m42 0h3m9 0h3m-2 0h3m-142 1h3m31 0h3m8 0h3m7 0h3m0 0h3m9 0h3m-1 0h3m2 0h3m37 0h3m2 0h3m38 0h3m-203 1h3m41 0h3m11 0h3m23 0h3m37 0h3m4 0h3m23 0h3m37 0h3m47 0h3m3 0h3m-273 1h3m8 0h3m1 0h3m8 0h3m4 0h3m31 0h3m35 0h3m22 0h3m5 0h3m3 0h3m6 0h3m11 0h3m-2 0h3m7 0h3m-148 1h3m3 0h3m51 0h3m2 0h3m15 0h3m0 0h3m6 0h3m-2 0h3m-1 0h3m19 0h3m14 0h3m-161 1h3m18 0h3m13 0h3m-1 0h3m19 0h3m-2 0h3m19 0h3m13 0h3m14 0h3m72 0h3m-175 1h3m31 0h3m20 0h3m3 0h3m-2 0h3m9 0h3m13 0h3m46 0h3m6 0h3m56 0h3m1 0h3m-196 1h3m23 0h3m1 0h3m0 0h3m0 0h3m2 0h3m-1 0h3m14 0h3m-1 0h3m31 0h3m59 0h3m-178 1h3m6 0h3m19 0h3m18 0h3m23 0h3m12 0h3m0 0h3m1 0h3m3 0h3m11 0h3m34 0h3m-132 1h3m17 0h3m16 0h3m12 0h3m73 0h3m-180 1h3m19 0h3m9 0h3m6 0h3m16 0h3m19 0h3m10 0h3m1 0h3m32 0h3m14 0h3m20 0h3m64 0h3m3 0h3m5 0h3m-219 1h3m22 0h3m8 0h3m19 0h3m-1 0h3m4 0h3m1 0h3m70 0h3m-152 1h3m1 0h3m26 0h3m14 0h3m5 0h3m0 0h3m-2 0h3m-2 0h3m2 0h3m8 0h3m27 0h3m89 0h3m-238 1h3m46 0h3m11 0h3m51 0h3m22 0h3m-101 1h3m14 0h3m10 0h3m2 0h3m7 0h3m0 0h3m13 0h3m16 0h3m26 0h3m0 0h3m-2 0h3m-135 1h3m-1 0h3m1 0h3m14 0h3m11 0h3m9 0h3m-2 0h3m17 0h3m2 0h3m18 0h3m1 0h3m0 0h3m8 0h3m19 0h3m24 0h3m31 0h3m7 0h3m-231 1h3m26 0h3m19 0h3m-1 0h3m17 0h3m20 0h3m31 0h3m-112 1h3m12 0h3m48 0h3m25 0h3m41 0h3m40 0h3m-180 1h3m0 0h3m6 0h3m37 0h3m31 0h3m72 0h3m-142 1h3m0 0h3m3 0h3m26 0h3m-42 1h3m-2 0h3m20 0h3m23 0h3m4 0h3m12 0h3m70 0h3m33 0h3m-231 1h3m15 0h3m24 0h3m34 0h3m87 0h3m24 0h3m-201 1h3m9 0h3m25 0h3m17 0h3m20 0h3m41 0h3m12 0h3m-150 1h3m44 0h3m20 0h3m0 0h3m28 0h3m0 0h3m11 0h3m19 0h3m18 0h3m-160 1h3m6 0h3m80 0h3m0 0h3m24 0h3m-82 1h3m53 0h3m90 0h3m13 0h3m-189 1h3m11 0h3m15 0h3m101 0h3m16 0h3m-143 1h3m83 0h3m65 0h3m13 0h3m10 0h3m-1 0h3m-169 1h3m46 0h3m4 0h3m147 0h3m-255 1h3m20 0h3m12 0h3m25 0h3m30 0h3m25 0h3m68 0h3m-148 1h3m16 0h3m-2 0h3m14 0h3m30 0h3m27 0h3m-2 0h3m-50 1h3m20 0h3m31 0h3m12 0h3m-135 1h3m0 0h3m25 0h3m32 0h3m-1 0h3m17 0h3m2 0h3m-97 1h3m15 0h3m124 0h3m17 0h3m-138 1h3m27 0h3m41 0h3m-105 1h3m-37 1h3m13 0h3m160 0h3m-191 1h3m29 0h3m25 0h3m5 0h3m-71 1h3m127 0h3m-136 1h3m83 0h3m-72 1h3m79 0h3m-141 1h3m12 0h3m36 0h3m33 0h3m80 0h3m-154 1h3m1 0h3m50 0h3m48 0h3m-105 1h3m23 1h3m4 0h3m-5 1h3m208 0h3m-248 1h3m33 0h3m54 0h3m10 0h3m-135 1h3m41 0h3m210 0h3m-62 1h3m102 0h3m-201 1h3m29 0h3m-63 2h3m-18 1h3m-12 1h3m85 0h3m-105 1h3m95 0h3m80 0h3m-55 1h3m-133 1h3m167 0h3m-207 1h3m157 0h3m-102 1h3m138 0h3m-175 1h3m82 0h3m-46 1h3m24 0h3m-76 1h3m73 0h3m1 0h3m105 0h3m-151 1h3m114 1h3m-166 4h3m62 1h3m3 1h3m51 0h3m10 0h3m-58 2h3m45 0h3m-59 1h3m40 0h3m24 0h3m-101 1h3m-1 0h3m-54 2h3m66 0h3m9 0h3m23 0h3m-56 2h3m82 0h3m-119 2h3m40 1h3m50 0h3m-121 3h3m113 0h3m-34 1h3m-53 1h3m116 0h3m-2 0h3m11 0h3m-90 2h3m80 2h3m-113 1h3m69 0h3m0 0h3m5 0h3m-96 1h3m150 0h3m-218 1h3m71 3h3m17 0h3m-55 1h3m93 0h3m16 1h3m-124 1h3m66 0h3m20 0h3m6 0h3m-101 1h3m136 0h3m0 0h3m-62 1h3m13 0h3m-8 1h3m-24 1h3m11 0h3m31 0h3m17 3h3m25 0h3m-68 1h3m-112 1h3m78 0h3m17 0h3m27 0h3m-52 3h3m-9 1h3m12 1h3m-16 2h3m-34 2h3m32 0h3m21 0h3m56 0h3m-146 1h3m71 0h3m-81 1h3m49 0h3m21 0h3m8 0h3m7 0h3m45 0h3m-68 2h3m-22 1h3m59 0h3m5 0h3m2 0h3m-108 1h3m-12 2h3m89 0h3m3 0h3m-154 1h3m108 0h3m-14 1h3m45 0h3m-74 1h3m9 0h3m51 0h3m52 1h3m-175 1h3m49 0h3m41 1h3m-2 1h3m15 0h3m0 0h3m-54 1h3m55 1h3m-33 2h3m29 0h3m-12 1h3m1 0h3m-122 2h3m52 0h3m85 0h3m-66 1h3m32 0h3m-73 2h3m79 0h3m-144 1h3m167 1h3m-54 1h3m-102 1h3m100 0h3m-45 1h3m-17 2h3m49 1h3m-89 1h3m10 0h3m45 0h3m103 1h3m-195 1h3m7 0h3m25 2h3m71 0h3m-10 1h3m39 2h3m7 1h3m-183 1h3m124 0h3m22 0h3m-179 3h3m149 4h3m-9 2h3m-133 1h3m105 0h3m12 2h3m-7 1h3m86 7h3m-114 1h3m-107 3h3m74 0h3m-8 1h3m-43 1h3m102 0h3m-93 2h3m95 0h3m-44 1h3m-2 1h3m45 1h3m-1 0h3m-61 1h3m-75 1h3m47 1h3m45 0h3m-83 1h3m22 0h3m-19 1h3m12 0h3m39 1h3m-72 1h3m23 0h3m41 0h3m36 1h3m-40 3h3m-91 1h3m22 0h3m81 0h3m-114 1h3m12 1h3m27 0h3m49 0h3m-65 1h3m11 0h3m22 0h3m-97 1h3m67 0h3m-65 1h3m21 0h3m53 0h3m-4 1h3m-81 1h3m49 0h3m18 0h3m-1 1h3m-8 1h3m28 0h3m-44 1h3m10 0h3m15 0h3m-2 0h3m-118 1h3m44 0h3m92 0h3m-123 1h3m18 0h3m17 0h3m11 0h3m-25 1h3m-2 0h3m-2 0h3m-13 1h3m37 0h3m-2 0h3m65 0h3m-112 1h3m3 0h3m60 0h3m-79 1h3m34 0h3m3 0h3m11 0h3m-85 1h3m31 0h3m19 0h3m0 0h3m13 0h3m-1 0h3m13 0h3m8 0h3m-80 1h3m19 0h3m34 0h3m37 0h3m-72 1h3m17 0h3m13 0h3m-62 1h3m14 0h3m16 0h3m83 0h3m-97 1h3m11 0h3m14 0h3m-2 0h3m25 0h3m4 0h3m83 0h3m-211 1h3m21 0h3m14 0h3m24 0h3m6 0h3m37 0h3m-116 1h3m27 0h3m6 0h3m18 0h3m22 0h3m3 0h3m12 0h3m-132 1h3m18 0h3m19 0h3m-24 1h3m71 0h3m56 0h3m-126 1h3m7 0h3m30 0h3m36 0h3m-96 1h3m35 0h3m24 0h3m13 0h3m28 0h3m-114 1h3m9 0h3m69 0h3m-86 1h3m33 0h3m23 0h3m3 0h3m18 0h3m19 0h3m-55 1h3m1 0h3m7 0h3m-40 1h3m6 0h3m9 0h3m0 0h3m5 0h3m15 0h3m2 0h3m16 0h3m-112 1h3m10 0h3m38 0h3m7 0h3m17 0h3m-79 1h3m20 0h3m-49 1h3m55 0h3m-1 0h3m5 0h3m14 0h3m12 0h3m-95 1h3m39 0h3m7 0h3m5 0h3m34 0h3m-53 1h3m13 0h3m12 0h3m6 0h3m-2 0h3m-2 0h3m-90 1h3m70 0h3m30 0h3m2 0h3m-51 1h3m-2 0h3m7 0h3m8 0h3m-56 1h3m0 0h3m35 0h3m6 0h3m-51 1h3m34 0h3m59 0h3m39 0h3m-172 1h3m25 0h3m27 0h3m11 0h3m6 0h3m-107 1h3m42 0h3m80 0h3m-82 1h3m25 0h3m4 0h3m40 0h3m-112 2h3m-5 1h3m23 0h3m24 0h3m48 0h3m-62 1h3m-10 1h3m33 0h3m-44 1h3m98 0h3m-160 1h3m103 0h3m-90 1h3m13 0h3m17 0h3m-55 3h3m52 0h3m14 0h3m50 0h3m-98 1h3m27 0h3m27 0h3m-2 0h3m-11 1h3m-60 1h3m18 0h3m-1 2h3m43 0h3m4 3h3m14 0h3m-36 2h3m-62 4h3m98 2h3m-4 2h3m-108 6h3m80 15h3" stroke="#3d3dff" stroke-width="3.2" fill="none" opacity="0.75"/><path transform="translate(1618.9,889.4) scale(0.25)" d="M0 0m94 97h3m29 2h3m3 0h3m-50 5h3m4 0h3m-6 1h3m43 1h3m-46 1h3m51 0h3m-47 1h3m11 1h3m4 1h3m12 0h3m-2 0h3m-2 0h3m0 1h3m-100 1h3m91 1h3m-97 2h3m25 0h3m-20 1h3m7 0h3m95 1h3m-113 1h3m99 1h3m-4 1h3m-109 1h3m106 1h3m-107 1h3m100 1h3m-128 2h3m1 1h3m138 0h3m-135 2h3m-12 1h3m121 0h3m0 1h3m11 1h3m-142 1h3m142 2h3m-15 3h3m-136 3h3m-8 1h3m141 2h3m-145 2h3m145 3h3m-162 2h3m143 0h3m-3 1h3m12 0h3m-156 2h3m137 5h3m-138 5h3m143 0h3m-16 1h3m6 0h3m-142 1h3m139 0h3m-2 0h3m-21 5h3m-127 2h3m-9 1h3m143 0h3m-6 3h3m-137 2h3m130 1h3m-19 1h3m8 0h3m-4 2h3m-123 1h3m122 0h3m-121 3h3m86 1h3m3 0h3m5 2h3m-110 1h3m96 0h3m-85 1h3m80 0h3m-95 2h3m67 1h3m-8 1h3m18 1h3m-71 1h3m9 0h3m-19 1h3m4 0h3m19 0h3m12 0h3m4 0h3m20 0h3m-74 1h3m5 0h3m32 0h3m20 0h3m-31 1h3m-1 0h3m6 0h3m18 0h3m-60 1h3m16 0h3m16 0h3m-61 1h3m7 0h3m5 0h3m53 1h3m-65 1h3m16 1h3m2 0h3m7 0h3m-30 2h3m-2 0h3m19 0h3m-16 1h3" stroke="#22a8e8" stroke-width="3.2" fill="none" opacity="0.85"/><path transform="translate(1618.9,889.4) scale(0.25)" d="M0 0m107 110h3m-2 0h3m-15 2h3m11 0h3m-31 1h3m15 0h3m-9 2h3m-11 1h3m5 0h3m-2 0h3m-5 1h3m-16 1h3m11 0h3m-24 1h3m10 0h3m-2 0h3m10 0h3m4 0h3m28 0h3m-2 0h3m-43 1h3m-2 0h3m2 0h3m32 0h3m-80 1h3m12 0h3m1 0h3m10 0h3m47 0h3m-64 1h3m1 0h3m13 0h3m29 0h3m-72 1h3m20 0h3m15 0h3m24 0h3m6 0h3m1 0h3m-90 1h3m17 0h3m4 0h3m9 0h3m-2 0h3m1 0h3m27 0h3m-56 1h3m13 0h3m33 0h3m-1 0h3m-54 1h3m-1 0h3m25 0h3m7 0h3m-11 1h3m-28 1h3m16 0h3m16 0h3m17 0h3m-89 1h3m3 0h3m4 0h3m46 0h3m2 0h3m-1 0h3m-73 1h3m32 0h3m-2 0h3m7 0h3m-60 1h3m5 0h3m33 0h3m-2 0h3m-44 1h3m78 0h3m0 0h3m8 0h3m-104 1h3m-1 0h3m16 0h3m0 0h3m11 0h3m4 0h3m53 0h3m-1 0h3m-105 1h3m8 0h3m34 0h3m46 0h3m-89 1h3m4 0h3m0 0h3m3 0h3m28 0h3m17 0h3m3 0h3m-78 1h3m15 0h3m68 0h3m-99 1h3m0 0h3m8 0h3m-2 0h3m37 0h3m-1 0h3m29 0h3m3 0h3m0 0h3m-96 1h3m2 0h3m59 0h3m-1 0h3m13 0h3m12 0h3m5 0h3m-124 1h3m-1 0h3m13 0h3m2 0h3m19 0h3m1 0h3m-2 0h3m22 0h3m19 0h3m4 0h3m-57 1h3m3 0h3m4 0h3m16 0h3m35 0h3m-116 1h3m14 0h3m-1 0h3m9 0h3m2 0h3m8 0h3m1 0h3m54 0h3m-119 1h3m81 0h3m-2 0h3m-63 1h3m9 0h3m75 0h3m-117 1h3m32 0h3m-1 0h3m7 0h3m14 0h3m54 0h3m-92 1h3m1 0h3m6 0h3m7 0h3m21 0h3m38 0h3m-66 1h3m23 0h3m20 0h3m-113 1h3m21 0h3m22 0h3m48 0h3m14 0h3m-89 1h3m14 0h3m-1 0h3m2 0h3m28 0h3m31 0h3m6 0h3m-132 1h3m40 0h3m31 0h3m6 0h3m-86 1h3m4 0h3m99 0h3m7 0h3m2 0h3m-124 1h3m42 0h3m2 0h3m2 0h3m-2 0h3m6 0h3m21 0h3m2 0h3m10 0h3m6 0h3m1 0h3m-1 0h3m-67 1h3m26 0h3m6 0h3m-100 1h3m-2 0h3m16 0h3m88 0h3m-110 1h3m0 0h3m32 0h3m3 0h3m-43 1h3m19 0h3m11 0h3m27 0h3m8 0h3m-57 1h3m23 0h3m1 0h3m0 0h3m51 0h3m-127 1h3m64 0h3m-40 1h3m-2 0h3m0 0h3m39 0h3m15 0h3m33 0h3m-126 1h3m23 0h3m21 0h3m5 0h3m2 0h3m13 0h3m28 0h3m-1 0h3m-70 1h3m0 0h3m11 0h3m0 0h3m-1 0h3m10 0h3m9 0h3m1 0h3m5 0h3m-88 1h3m37 0h3m1 0h3m21 0h3m30 0h3m-91 1h3m5 0h3m11 0h3m51 0h3m-90 1h3m38 0h3m35 0h3m8 0h3m-97 1h3m1 0h3m16 0h3m12 0h3m0 0h3m26 0h3m-66 1h3m5 0h3m12 0h3m3 0h3m9 0h3m39 0h3m-81 1h3m7 0h3m18 0h3m44 0h3m-104 1h3m-1 0h3m18 0h3m-1 0h3m42 0h3m2 0h3m-1 0h3m-72 1h3m0 0h3m5 0h3m10 0h3m15 0h3m15 0h3m23 0h3m15 0h3m-90 1h3m3 0h3m22 0h3m0 0h3m-30 1h3m10 0h3m-2 0h3m1 0h3m9 0h3m3 0h3m27 0h3m-98 1h3m7 0h3m20 0h3m21 0h3m-70 1h3m68 0h3m11 0h3m0 0h3m-52 1h3m-2 0h3m37 0h3m7 0h3m7 0h3m1 0h3m-2 0h3m-77 1h3m29 0h3m16 0h3m-28 1h3m34 0h3m-86 1h3m1 0h3m13 0h3m4 0h3m7 0h3m26 0h3m0 0h3m6 0h3m23 0h3m-105 1h3m18 0h3m18 0h3m0 0h3m12 0h3m9 0h3m13 0h3m-81 1h3m5 0h3m-2 0h3m42 0h3m22 0h3m1 0h3m-102 1h3m6 0h3m55 0h3m0 0h3m26 0h3m-80 1h3m3 0h3m23 0h3m7 0h3m35 0h3m-90 1h3m15 0h3m1 0h3m8 0h3m8 0h3m2 0h3m17 0h3m-63 1h3m15 0h3m5 0h3m-1 0h3m4 0h3m-1 0h3m18 0h3m13 0h3m-1 0h3m-73 1h3m0 0h3m12 1h3m15 0h3m12 0h3m-73 1h3m-1 0h3m7 0h3m-2 0h3m8 0h3m35 0h3m0 0h3m2 0h3m-37 1h3m19 0h3m-2 0h3m2 0h3m17 0h3m-83 1h3m-3 1h3m38 0h3m0 0h3m0 0h3m-17 1h3m6 0h3m10 0h3m-6 1h3m-22 1h3m-14 2h3m3 0h3m3 0h3m12 0h3m14 0h3m-58 1h3m14 1h3m5 0h3m15 0h3m-19 1h3" stroke="#35d535" stroke-width="3.2" fill="none" opacity="0.9"/><path transform="translate(1618.9,889.4) scale(0.25)" d="M0 0m91 130h3m5 2h3m4 0h3m10 0h3m-29 4h3m10 0h3m10 0h3m-17 1h3m19 0h3m5 0h3m-29 1h3m10 0h3m-2 1h3m4 0h3m-62 1h3m27 3h3m28 0h3m-1 0h3m-45 1h3m-8 1h3m9 0h3m18 1h3m-49 1h3m4 1h3m12 0h3m-11 1h3m-11 1h3m11 0h3m1 0h3m28 1h3m-44 2h3m9 0h3m39 2h3m-38 1h3m4 0h3m-2 0h3m6 0h3m-57 1h3m16 0h3m-1 0h3m9 0h3m16 0h3m-11 1h3m1 0h3m-27 1h3m-7 1h3m38 0h3m5 0h3m-59 1h3m30 0h3m20 0h3m-56 1h3m34 0h3m-40 1h3m25 0h3m23 0h3m-67 1h3m6 0h3m11 0h3m12 0h3m8 0h3m-44 1h3m8 0h3m0 1h3m32 0h3m-19 1h3m-5 1h3m3 0h3m-19 2h3m17 0h3m7 0h3m-31 1h3m17 0h3m0 0h3m-34 1h3m-16 1h3m17 0h3m6 0h3m-4 1h3m0 0h3m-35 1h3m6 1h3m3 2h3m10 0h3m-17 2h3m-1 0h3m-1 0h3" stroke="#e8d020" stroke-width="3.2" fill="none" opacity="0.9"/><path transform="translate(1618.9,889.4) scale(0.25)" d="M0 0m94 129h3m-20 6h3m9 0h3m13 0h3m8 0h3m0 4h3m-26 2h3m25 2h3m-23 1h3m-6 1h3m5 0h3m-34 5h3m5 0h3m38 2h3m-11 1h3m-24 5h3m8 3h3m-12 5h3m17 8h3m-19 1h3m-15 4h3" stroke="#ff5020" stroke-width="3.2" fill="none" opacity="0.9"/>
<rect x="1623.3" y="824.6" width="83.1" height="31.4" fill="none" stroke="#111" stroke-width="0.9"/>
<rect x="1623.3" y="986.2" width="83.1" height="31.4" fill="none" stroke="#111" stroke-width="0.9"/>
<text x="1709.2" y="841.8" font-size="17.3" class="t">43.2</text>
<text x="1709.2" y="1003.2" font-size="17.3" class="t">5.68</text>
<text x="1678.6" y="1061.5" font-size="26.2" text-anchor="middle">SSC</text>
<text transform="translate(1785,886.4) rotate(-90)" font-size="33.7" text-anchor="middle">% of enucleated cells</text>
<path d="M1861.55 1104.3V787.34H1912.98V1104.3" fill="#fff" stroke="#000" stroke-width="3" stroke-linejoin="miter"/>
<path d="M1930.38 1104.3V1068.96H1981.51V1104.3" fill="#fff" stroke="#000" stroke-width="3" stroke-linejoin="miter"/>
<g fill="#0a05fb"><circle cx="1887.12" cy="762.23" r="6.3"/><circle cx="1887.12" cy="785.84" r="6.3"/><circle cx="1887.12" cy="810.6" r="6.3"/></g>
<g fill="#fb2a15"><circle cx="1955.66" cy="1058.83" r="6.3"/><circle cx="1943.27" cy="1072.36" r="6.3"/><circle cx="1968.04" cy="1071.78" r="6.3"/></g>
<path d="M1873.47 772.4H1901.07M1887.27 772.4V787.34" fill="none" stroke="#000" stroke-width="3"/>
<path d="M1942.19 1062.6H1969.69M1955.94 1062.6V1068.96" fill="none" stroke="#000" stroke-width="3"/>
<line x1="1846.2" y1="679.2" x2="1846.2" y2="1105.8" stroke="#000" stroke-width="3"/>
<line x1="1836.6" y1="1104.3" x2="2000" y2="1104.3" stroke="#000" stroke-width="3"/>
<text x="1832.9" y="1113.3" font-size="29.2" text-anchor="end">0</text>
<line x1="1836.6" y1="963.1" x2="1846.2" y2="963.1" stroke="#000" stroke-width="3"/>
<text x="1832.9" y="973.5" font-size="29.2" text-anchor="end">20</text>
<line x1="1836.6" y1="821.9" x2="1846.2" y2="821.9" stroke="#000" stroke-width="3"/>
<text x="1832.9" y="832.3" font-size="29.2" text-anchor="end">40</text>
<line x1="1836.6" y1="680.7" x2="1846.2" y2="680.7" stroke="#000" stroke-width="3"/>
<text x="1832.9" y="691.1" font-size="29.2" text-anchor="end">60</text>
<line x1="1887.1" y1="1104.3" x2="1887.1" y2="1113.5" stroke="#000" stroke-width="3"/>
<line x1="1955.7" y1="1104.3" x2="1955.7" y2="1113.5" stroke="#000" stroke-width="3"/>
<text transform="translate(1896.5,1137.8) rotate(-45)" font-size="29.6" text-anchor="end">DMSO</text>
<text transform="translate(1965.4,1137.8) rotate(-45)" font-size="29.6" text-anchor="end">CCCP</text>
<line x1="1888.7" y1="735.2" x2="1944.9" y2="735.2" stroke="#000" stroke-width="4.5"/>
<text x="1916.3" y="735.8" font-size="28.3" text-anchor="middle">***</text>
</g>
<g id="pE">
<text class="t" transform="translate(-1.2,1279.7) scale(0.95,1)" font-size="48" font-weight="bold">E</text>
<rect x="203.1" y="1348.8" width="130" height="130" fill="#000"/>
<rect x="335.95" y="1348.8" width="130" height="130" fill="#000"/>
<rect x="468.9" y="1348.8" width="130" height="130" fill="#000"/>
<rect x="602.1" y="1348.8" width="130" height="130" fill="#000"/>
<rect x="203.1" y="1481.2" width="130" height="130" fill="#000"/>
<rect x="335.95" y="1481.2" width="130" height="130" fill="#000"/>
<rect x="468.9" y="1481.2" width="130" height="130" fill="#000"/>
<rect x="602.1" y="1481.2" width="130" height="130" fill="#000"/>
<rect x="203.1" y="1612.3" width="130" height="130" fill="#000"/>
<rect x="335.95" y="1612.3" width="130" height="130" fill="#000"/>
<rect x="468.9" y="1612.3" width="130" height="130" fill="#000"/>
<rect x="602.1" y="1612.3" width="130" height="130" fill="#000"/>
<g clip-path="url(#cE00)"><g transform="translate(195,1340) scale(0.14192)" filter="url(#bE)"><ellipse cx="560" cy="520" rx="190" ry="190" fill="#ff2a10" opacity="0.12" filter="url(#bH)"/><g fill="#ff2a10"><ellipse cx="630" cy="330" rx="16.9" ry="13.7" transform="rotate(152 630 330)"/><ellipse cx="650" cy="370" rx="21.9" ry="17.8" transform="rotate(45 650 370)"/><ellipse cx="665" cy="400" rx="19.8" ry="16.1" transform="rotate(80 665 400)"/><ellipse cx="680" cy="440" rx="21.0" ry="17.1" transform="rotate(141 680 440)"/><ellipse cx="660" cy="500" rx="16.6" ry="13.5" transform="rotate(5 660 500)"/><ellipse cx="655" cy="540" rx="22.5" ry="18.2" transform="rotate(77 655 540)"/><ellipse cx="665" cy="600" rx="21.9" ry="17.8" transform="rotate(0 665 600)"/><ellipse cx="585" cy="608" rx="19.4" ry="15.7" transform="rotate(129 585 608)"/><ellipse cx="720" cy="600" rx="17.7" ry="14.3" transform="rotate(170 720 600)"/><ellipse cx="450" cy="620" rx="23.0" ry="18.7" transform="rotate(5 450 620)"/><ellipse cx="415" cy="630" rx="16.1" ry="13.0" transform="rotate(97 415 630)"/><ellipse cx="610" cy="310" rx="23.3" ry="18.9" transform="rotate(68 610 310)"/><ellipse cx="640" cy="350" rx="17.6" ry="14.3" transform="rotate(75 640 350)"/></g><ellipse cx="455" cy="800" rx="26" ry="13" fill="#ff2a10"/><path d="M656.38 460C656.31 480.46 652.83 503.41 643.79 521.3C634.75 539.2 617.47 554.17 602.13 567.37C586.78 580.58 570.06 591.91 551.7 600.54C533.35 609.16 512.3 618.2 492 619.14C471.7 620.08 448.95 614.12 429.9 606.17C410.86 598.21 391.71 585.96 377.71 571.43C363.71 556.91 353.67 537.58 345.88 519.01C338.09 500.44 331.42 479.85 330.98 460C330.54 440.15 335.34 418.39 343.23 399.92C351.12 381.44 363.51 362.67 378.31 349.15C393.11 335.64 413.08 326.25 432.03 318.83C450.97 311.41 471.86 304.99 492 304.65C512.14 304.31 533.73 309.53 552.84 316.8C571.95 324.06 591.42 334.59 606.65 348.22C621.88 361.84 635.92 379.9 644.21 398.53C652.5 417.16 656.45 439.54 656.38 460Z" fill="#2d0cff"/><ellipse cx="565" cy="395" rx="45" ry="14" fill="#10006a" transform="rotate(50 565 395)" opacity="0.8"/><ellipse cx="372" cy="432" rx="28" ry="20" fill="#10006a" transform="rotate(-20 372 432)" opacity="0.8"/><ellipse cx="492" cy="452" rx="18" ry="14" fill="#10006a" transform="rotate(30 492 452)" opacity="0.8"/><ellipse cx="545" cy="522" rx="30" ry="20" fill="#10006a" transform="rotate(10 545 522)" opacity="0.8"/><ellipse cx="455" cy="560" rx="30" ry="14" fill="#10006a" opacity="0.8"/><ellipse cx="338" cy="500" rx="10" ry="30" fill="#e83ad0" opacity="0.8"/></g></g>
<g clip-path="url(#cE01)"><g transform="translate(195,1340) scale(0.14192)" filter="url(#bE)"><ellipse cx="1420" cy="620" rx="120" ry="70" fill="#ff2a10" opacity="0.4" filter="url(#bH)"/><g fill="#ff2a10"><ellipse cx="1235" cy="492" rx="29.7" ry="24.1" transform="rotate(170 1235 492)"/><ellipse cx="1520" cy="365" rx="20.7" ry="16.8" transform="rotate(15 1520 365)"/><ellipse cx="1490" cy="335" rx="28.5" ry="23.1" transform="rotate(132 1490 335)"/><ellipse cx="1557" cy="447" rx="26.8" ry="21.8" transform="rotate(55 1557 447)"/><ellipse cx="1545" cy="500" rx="26.2" ry="21.2" transform="rotate(109 1545 500)"/><ellipse cx="1530" cy="540" rx="25.9" ry="21.0" transform="rotate(28 1530 540)"/><ellipse cx="1480" cy="600" rx="24.4" ry="19.8" transform="rotate(70 1480 600)"/><ellipse cx="1310" cy="610" rx="27.4" ry="22.2" transform="rotate(179 1310 610)"/><ellipse cx="1350" cy="605" rx="29.6" ry="24.0" transform="rotate(97 1350 605)"/><ellipse cx="1415" cy="630" rx="24.6" ry="19.9" transform="rotate(48 1415 630)"/><ellipse cx="1500" cy="580" rx="20.5" ry="16.6" transform="rotate(4 1500 580)"/><ellipse cx="1290" cy="600" rx="24.8" ry="20.1" transform="rotate(57 1290 600)"/><ellipse cx="1540" cy="470" rx="23.9" ry="19.4" transform="rotate(160 1540 470)"/></g><path d="M1533.53 462C1533.87 479.24 1531.25 498.19 1524.57 514.14C1517.9 530.08 1506.11 545.33 1493.48 557.67C1480.85 570.01 1465.21 581.33 1448.8 588.17C1432.39 595.01 1412.74 599.13 1395 598.68C1377.26 598.23 1358.53 592.53 1342.36 585.46C1326.18 578.4 1311.01 568.08 1297.93 556.29C1284.86 544.51 1270.84 530.46 1263.91 514.75C1256.98 499.03 1255.83 479.37 1256.35 462C1256.87 444.63 1260.75 426.85 1267.03 410.51C1273.31 394.16 1281.63 376.26 1294.04 363.93C1306.45 351.59 1324.66 343.13 1341.49 336.5C1358.31 329.88 1377.16 324.17 1395 324.17C1412.84 324.16 1431.93 329.62 1448.53 336.47C1465.12 343.33 1482.21 352.93 1494.55 365.3C1506.88 377.67 1516.04 394.57 1522.54 410.68C1529.03 426.8 1533.19 444.76 1533.53 462Z" fill="#2d0cff"/><ellipse cx="1410" cy="415" rx="30" ry="10" fill="#10006a" transform="rotate(30 1410 415)" opacity="0.6"/></g></g>
<g clip-path="url(#cE02)"><g transform="translate(460,1340) scale(0.14192)" filter="url(#bE)"><ellipse cx="470" cy="320" rx="100" ry="80" fill="#ff2a10" opacity="0.45" filter="url(#bH)"/><ellipse cx="880" cy="610" rx="80" ry="100" fill="#ff2a10" opacity="0.12" filter="url(#bH)"/><g fill="#ff2a10" opacity="0.9"><ellipse cx="425" cy="240" rx="17.8" ry="14.4" transform="rotate(97 425 240)"/><ellipse cx="605" cy="295" rx="18.8" ry="15.2" transform="rotate(108 605 295)"/><ellipse cx="360" cy="375" rx="20.8" ry="16.9" transform="rotate(11 360 375)"/><ellipse cx="375" cy="400" rx="16.0" ry="13.0" transform="rotate(150 375 400)"/><ellipse cx="355" cy="560" rx="17.9" ry="14.5" transform="rotate(42 355 560)"/><ellipse cx="370" cy="590" rx="23.8" ry="19.3" transform="rotate(84 370 590)"/><ellipse cx="690" cy="470" rx="22.5" ry="18.3" transform="rotate(85 690 470)"/><ellipse cx="695" cy="500" rx="20.9" ry="17.0" transform="rotate(27 695 500)"/></g><ellipse cx="497" cy="662" rx="36" ry="15" fill="#ff2a10"/><circle cx="962" cy="745" r="14" fill="#ff2a10" opacity="0.7"/><path d="M365 500C361.67 473.33 369.17 443.33 380 420C390.83 396.67 410 373.67 430 360C450 346.33 475 343.83 500 338C525 332.17 556.67 321.33 580 325C603.33 328.67 623.33 342.5 640 360C656.67 377.5 671.67 405 680 430C688.33 455 691.67 485 690 510C688.33 535 681.67 560 670 580C658.33 600 641.67 617.5 620 630C598.33 642.5 566.67 655 540 655C513.33 655 483.33 642.5 460 630C436.67 617.5 415.83 601.67 400 580C384.17 558.33 368.33 526.67 365 500Z" fill="#2d0cff"/><ellipse cx="500" cy="432" rx="60" ry="36" fill="#10006a" transform="rotate(-10 500 432)" opacity="0.85"/><ellipse cx="580" cy="395" rx="30" ry="18" fill="#10006a" transform="rotate(40 580 395)" opacity="0.85"/><ellipse cx="455" cy="570" rx="30" ry="22" fill="#10006a" opacity="0.85"/><ellipse cx="637" cy="512" rx="14" ry="12" fill="#10006a" opacity="0.85"/><ellipse cx="557" cy="580" rx="8" ry="8" fill="#10006a" opacity="0.85"/><ellipse cx="978" cy="610" rx="8" ry="30" fill="#2d0cff" opacity="0.8"/></g></g>
<g clip-path="url(#cE03)"><g transform="translate(460,1340) scale(0.14192)" filter="url(#bE)"><ellipse cx="1470" cy="650" rx="100" ry="60" fill="#2d0cff" opacity="0.15" filter="url(#bH)"/><g fill="#ff2a10"><ellipse cx="1360" cy="610" rx="21.3" ry="17.3" transform="rotate(18 1360 610)"/><ellipse cx="1380" cy="640" rx="22.8" ry="18.5" transform="rotate(27 1380 640)"/><ellipse cx="1605" cy="530" rx="19.7" ry="16.0" transform="rotate(72 1605 530)"/><ellipse cx="1520" cy="635" rx="27.8" ry="22.5" transform="rotate(144 1520 635)"/><ellipse cx="1590" cy="585" rx="26.3" ry="21.4" transform="rotate(39 1590 585)"/><ellipse cx="1450" cy="655" rx="24.2" ry="19.6" transform="rotate(49 1450 655)"/></g><path d="M1575.07 495C1574.14 512.87 1570.75 530.9 1565.03 547.3C1559.31 563.7 1551.45 580.98 1540.73 593.38C1530.01 605.77 1515.01 615.34 1500.72 621.67C1486.43 628 1470.36 631.04 1455 631.36C1439.64 631.68 1423.33 629.39 1408.59 623.58C1393.85 617.77 1377.96 608.82 1366.57 596.48C1355.18 584.14 1346.17 566.45 1340.25 549.54C1334.34 532.63 1330.41 512.87 1331.06 495C1331.71 477.13 1337.92 458.85 1344.17 442.32C1350.41 425.78 1357.75 408.28 1368.54 395.79C1379.34 383.3 1394.53 373.73 1408.94 367.39C1423.35 361.05 1439.73 357.53 1455 357.75C1470.27 357.97 1486.45 362.05 1500.58 368.71C1514.72 375.37 1528.12 385.81 1539.79 397.7C1551.46 409.59 1564.72 423.83 1570.6 440.05C1576.48 456.27 1576 477.13 1575.07 495Z" fill="#2d0cff"/><ellipse cx="1555" cy="565" rx="35" ry="22" fill="#f040e0" transform="rotate(-30 1555 565)"/><ellipse cx="1520" cy="612" rx="26" ry="16" fill="#f040e0" transform="rotate(-30 1520 612)" opacity="0.9"/><circle cx="1425" cy="420" r="7" fill="#10006a"/><circle cx="1465" cy="582" r="10" fill="#10006a" opacity="0.6"/></g></g>
<g clip-path="url(#cE10)"><g transform="translate(195,1472) scale(0.14192)" filter="url(#bE)"><ellipse cx="375" cy="550" rx="40" ry="110" fill="#ff2a10" opacity="0.35" filter="url(#bH)"/><g fill="#ff2a10" opacity="0.75"><ellipse cx="351" cy="547" rx="12.1" ry="9.2" transform="rotate(57 351 547)"/><ellipse cx="363" cy="620" rx="10.1" ry="7.7" transform="rotate(64 363 620)"/><ellipse cx="359" cy="577" rx="8.2" ry="6.2" transform="rotate(113 359 577)"/><ellipse cx="395" cy="493" rx="11.0" ry="8.4" transform="rotate(60 395 493)"/><ellipse cx="363" cy="560" rx="11.6" ry="8.8" transform="rotate(53 363 560)"/><ellipse cx="366" cy="640" rx="9.2" ry="7.0" transform="rotate(176 366 640)"/><ellipse cx="354" cy="486" rx="11.0" ry="8.3" transform="rotate(32 354 486)"/><ellipse cx="371" cy="495" rx="9.6" ry="7.3" transform="rotate(23 371 495)"/><ellipse cx="393" cy="566" rx="7.3" ry="5.5" transform="rotate(69 393 566)"/><ellipse cx="393" cy="464" rx="9.7" ry="7.4" transform="rotate(19 393 464)"/><ellipse cx="370" cy="565" rx="8.5" ry="6.5" transform="rotate(111 370 565)"/><ellipse cx="370" cy="533" rx="10.1" ry="7.7" transform="rotate(76 370 533)"/><ellipse cx="365" cy="566" rx="9.6" ry="7.3" transform="rotate(18 365 566)"/><ellipse cx="364" cy="470" rx="11.0" ry="8.3" transform="rotate(73 364 470)"/><ellipse cx="393" cy="528" rx="8.4" ry="6.4" transform="rotate(67 393 528)"/><ellipse cx="385" cy="524" rx="11.8" ry="9.0" transform="rotate(168 385 524)"/><ellipse cx="388" cy="490" rx="9.9" ry="7.5" transform="rotate(156 388 490)"/><ellipse cx="367" cy="457" rx="8.3" ry="6.3" transform="rotate(109 367 457)"/><ellipse cx="373" cy="496" rx="8.4" ry="6.4" transform="rotate(151 373 496)"/><ellipse cx="356" cy="518" rx="10.1" ry="7.7" transform="rotate(46 356 518)"/><ellipse cx="375" cy="577" rx="9.6" ry="7.3" transform="rotate(26 375 577)"/><ellipse cx="399" cy="485" rx="10.7" ry="8.2" transform="rotate(16 399 485)"/></g><ellipse cx="555" cy="715" rx="16" ry="9" fill="#ff2a10" opacity="0.85"/><path d="M694.08 482C694.73 500.51 689.52 521.37 680.45 538.34C671.38 555.32 656.32 571.89 639.64 583.85C622.96 595.81 601.28 605.98 580.35 610.1C559.42 614.23 535.16 612.84 514.04 608.59C492.93 604.34 469.48 596.71 453.66 584.61C437.85 572.51 427.9 553.07 419.18 535.97C410.45 518.87 402.5 500.5 401.3 482C400.1 463.5 402.98 441.81 411.96 424.99C420.94 408.16 438.19 392.83 455.16 381.03C472.12 369.23 493.13 357.7 513.73 354.21C534.33 350.72 558.05 355.45 578.73 360.11C599.42 364.76 621.56 370.91 637.86 382.11C654.16 393.31 667.17 410.66 676.54 427.31C685.91 443.96 693.43 463.49 694.08 482Z" fill="#2d0cff"/><path d="M687.29 618C687.77 629.65 682.94 642.97 674.39 653.38C665.84 663.8 651.13 673.57 635.98 680.49C620.84 687.41 601.69 692.68 583.51 694.88C565.34 697.07 545.33 695.94 526.94 693.66C508.55 691.37 487.96 687.99 473.15 681.16C458.35 674.32 446.45 663.18 438.08 652.65C429.72 642.12 422.86 629.52 422.97 618C423.09 606.48 430.49 594.15 438.77 583.55C447.04 572.96 458.02 561.52 472.63 554.44C487.25 547.36 507.83 543.71 526.47 541.07C545.1 538.43 566 536.34 584.45 538.59C602.9 540.85 622.66 547.11 637.17 554.59C651.68 562.07 663.17 572.9 671.52 583.47C679.87 594.04 686.81 606.35 687.29 618Z" fill="#2d0cff"/><path d="M470 500C477.5 484.17 485 460 500 450C515 440 541.67 436.67 560 440C578.33 443.33 600.83 455 610 470C619.17 485 616.67 510.83 615 530C613.33 549.17 612.5 576.67 600 585C587.5 593.33 560 581.67 540 580C520 578.33 494.17 580.83 480 575C465.83 569.17 456.67 557.5 455 545C453.33 532.5 462.5 515.83 470 500Z" fill="#10006a" opacity="0.85"/><circle cx="552" cy="518" r="6" fill="#2d0cff"/></g></g>
<g clip-path="url(#cE11)"><g transform="translate(195,1472) scale(0.14192)" filter="url(#bE)"><ellipse cx="1640" cy="300" rx="110" ry="90" fill="#ff2a10" opacity="0.3" filter="url(#bH)"/><ellipse cx="1600" cy="480" rx="250" ry="200" fill="#ff2a10" opacity="0.05" filter="url(#bH)"/><g fill="#ff2a10"><ellipse cx="1745" cy="238" rx="26.4" ry="21.4" transform="rotate(133 1745 238)"/><ellipse cx="1722" cy="310" rx="28.1" ry="22.8" transform="rotate(169 1722 310)"/><ellipse cx="1698" cy="340" rx="27.5" ry="22.3" transform="rotate(166 1698 340)"/><ellipse cx="1672" cy="365" rx="20.4" ry="16.5" transform="rotate(83 1672 365)"/><ellipse cx="1642" cy="375" rx="29.6" ry="24.0" transform="rotate(116 1642 375)"/><ellipse cx="1602" cy="383" rx="29.2" ry="23.6" transform="rotate(20 1602 383)"/><ellipse cx="1660" cy="420" rx="24.8" ry="20.1" transform="rotate(44 1660 420)"/><ellipse cx="1582" cy="430" rx="25.6" ry="20.7" transform="rotate(103 1582 430)"/><ellipse cx="1735" cy="330" rx="20.2" ry="16.4" transform="rotate(39 1735 330)"/><ellipse cx="1700" cy="300" rx="22.9" ry="18.6" transform="rotate(164 1700 300)"/><ellipse cx="1650" cy="330" rx="27.8" ry="22.5" transform="rotate(28 1650 330)"/></g><ellipse cx="1555" cy="562" rx="20" ry="12" fill="#ff2a10" transform="rotate(-30 1555 562)"/><ellipse cx="1050" cy="75" rx="20" ry="10" fill="#ff2a10" opacity="0.5"/><ellipse cx="1260" cy="62" rx="50" ry="8" fill="#2d0cff" opacity="0.4"/><ellipse cx="1700" cy="975" rx="60" ry="8" fill="#2d0cff" opacity="0.3"/><path d="M1548.57 440C1548.48 458.77 1543.32 478.36 1537.11 496.2C1530.9 514.04 1523.29 533.89 1511.32 547.03C1499.36 560.16 1481.39 567.81 1465.34 575.03C1449.28 582.24 1431.93 589.92 1415 590.32C1398.07 590.73 1379.24 585.31 1363.75 577.47C1348.27 569.62 1334.33 556.59 1322.07 543.25C1309.82 529.91 1296.61 514.64 1290.22 497.43C1283.83 480.22 1283.65 459.1 1283.75 440C1283.84 420.9 1284.4 400.05 1290.77 382.83C1297.15 365.6 1309.7 349.67 1322 336.67C1334.31 323.67 1349.11 312.49 1364.61 304.82C1380.11 297.16 1397.82 291.7 1415 290.68C1432.18 289.66 1452.12 291.09 1467.68 298.7C1483.23 306.31 1496.64 322.19 1508.3 336.33C1519.97 350.47 1530.94 366.27 1537.65 383.55C1544.36 400.83 1548.66 421.23 1548.57 440Z" fill="#2608e0"/><ellipse cx="1390" cy="380" rx="28" ry="14" fill="#10006a" transform="rotate(-20 1390 380)" opacity="0.75"/><ellipse cx="1480" cy="430" rx="28" ry="50" fill="#10006a" transform="rotate(10 1480 430)" opacity="0.75"/><ellipse cx="1340" cy="480" rx="40" ry="14" fill="#10006a" transform="rotate(30 1340 480)" opacity="0.75"/><ellipse cx="1420" cy="500" rx="20" ry="12" fill="#10006a" opacity="0.75"/><circle cx="1500" cy="385" r="12" fill="#e040d0" opacity="0.8"/></g></g>
<g clip-path="url(#cE12)"><g transform="translate(460,1472) scale(0.14192)" filter="url(#bE)"><ellipse cx="520" cy="680" rx="120" ry="60" fill="#ff2a10" opacity="0.12" filter="url(#bH)"/><g fill="#ff2a10" opacity="0.85"><ellipse cx="385" cy="430" rx="19.2" ry="15.6" transform="rotate(147 385 430)"/><ellipse cx="380" cy="500" rx="17.1" ry="13.9" transform="rotate(47 380 500)"/><ellipse cx="392" cy="570" rx="13.8" ry="11.2" transform="rotate(119 392 570)"/><ellipse cx="400" cy="595" rx="17.0" ry="13.8" transform="rotate(136 400 595)"/></g><path d="M713.31 500C714 519.21 713.41 541.05 705.85 558.46C698.29 575.88 682.3 590.94 667.96 604.48C653.62 618.02 637.8 632.55 619.8 639.72C601.81 646.89 579.75 647.93 560 647.51C540.25 647.09 519.91 643.74 501.28 637.18C482.65 630.63 462.01 621.59 448.21 608.18C434.41 594.78 425.81 574.77 418.46 556.74C411.11 538.7 404.36 519.01 404.12 500C403.88 480.99 409.29 460.34 417.03 442.69C424.78 425.05 436.66 407.67 450.6 394.13C464.55 380.59 482.46 368.49 500.7 361.45C518.93 354.4 540.1 352.16 560 351.85C579.9 351.54 602.13 352.28 620.1 359.59C638.07 366.89 654.21 381.74 667.8 395.68C681.4 409.61 694.09 425.82 701.68 443.21C709.26 460.6 712.61 480.79 713.31 500Z" fill="#2206d8"/><g fill="#10006a" opacity="0.55"><ellipse cx="517" cy="581" rx="18.4" ry="12.4" transform="rotate(176 517 581)"/><ellipse cx="612" cy="396" rx="23.7" ry="16.0" transform="rotate(35 612 396)"/><ellipse cx="609" cy="517" rx="18.7" ry="12.6" transform="rotate(124 609 517)"/><ellipse cx="487" cy="577" rx="34.0" ry="23.0" transform="rotate(62 487 577)"/><ellipse cx="595" cy="558" rx="18.8" ry="12.7" transform="rotate(116 595 558)"/><ellipse cx="577" cy="541" rx="36.7" ry="24.7" transform="rotate(78 577 541)"/><ellipse cx="672" cy="462" rx="32.0" ry="21.6" transform="rotate(44 672 462)"/><ellipse cx="595" cy="545" rx="33.5" ry="22.6" transform="rotate(92 595 545)"/><ellipse cx="555" cy="514" rx="25.5" ry="17.2" transform="rotate(70 555 514)"/><ellipse cx="614" cy="524" rx="24.3" ry="16.4" transform="rotate(74 614 524)"/><ellipse cx="469" cy="503" rx="35.9" ry="24.2" transform="rotate(53 469 503)"/><ellipse cx="614" cy="535" rx="22.7" ry="15.3" transform="rotate(103 614 535)"/><ellipse cx="492" cy="509" rx="20.2" ry="13.6" transform="rotate(135 492 509)"/><ellipse cx="492" cy="436" rx="32.8" ry="22.1" transform="rotate(153 492 436)"/><ellipse cx="610" cy="510" rx="28.0" ry="18.9" transform="rotate(126 610 510)"/><ellipse cx="474" cy="497" rx="24.6" ry="16.6" transform="rotate(43 474 497)"/><ellipse cx="643" cy="418" rx="28.6" ry="19.3" transform="rotate(84 643 418)"/><ellipse cx="624" cy="564" rx="22.6" ry="15.3" transform="rotate(112 624 564)"/><ellipse cx="545" cy="577" rx="36.2" ry="24.4" transform="rotate(56 545 577)"/><ellipse cx="493" cy="485" rx="28.3" ry="19.1" transform="rotate(156 493 485)"/><ellipse cx="442" cy="505" rx="26.7" ry="18.0" transform="rotate(81 442 505)"/><ellipse cx="507" cy="435" rx="32.2" ry="21.7" transform="rotate(52 507 435)"/><ellipse cx="637" cy="506" rx="19.5" ry="13.2" transform="rotate(44 637 506)"/><ellipse cx="478" cy="444" rx="37.1" ry="25.0" transform="rotate(122 478 444)"/><ellipse cx="493" cy="477" rx="28.1" ry="19.0" transform="rotate(51 493 477)"/><ellipse cx="630" cy="550" rx="31.3" ry="21.1" transform="rotate(55 630 550)"/></g><ellipse cx="540" cy="635" rx="26" ry="9" fill="#e83ab0" transform="rotate(-10 540 635)"/><ellipse cx="640" cy="620" rx="18" ry="9" fill="#e83ab0" transform="rotate(-30 640 620)"/><ellipse cx="707" cy="545" rx="8" ry="14" fill="#e83ab0"/></g></g>
<g clip-path="url(#cE13)"><g transform="translate(460,1472) scale(0.14192)" filter="url(#bE)"><ellipse cx="1425" cy="510" rx="190" ry="180" fill="#2d0cff" opacity="0.18" filter="url(#bH)"/><path d="M1582.77 510C1582.98 528.95 1578.18 549.69 1570.23 567.11C1562.29 584.53 1549.09 600.62 1535.11 614.53C1521.13 628.45 1504.7 643.53 1486.35 650.61C1468 657.7 1445.3 657.37 1425 657.04C1404.7 656.7 1383.45 655.14 1364.53 648.6C1345.61 642.05 1325.34 631.45 1311.5 617.76C1297.65 604.06 1288.95 584.4 1281.47 566.44C1274 548.48 1267.18 529.02 1266.66 510C1266.14 490.98 1270.23 469.68 1278.35 452.33C1286.46 434.98 1300.92 419.26 1315.33 405.88C1329.74 392.51 1346.55 379.94 1364.83 372.09C1383.11 364.24 1404.91 358.85 1425 358.78C1445.09 358.71 1466.56 364.32 1485.35 371.68C1504.14 379.05 1523.79 389.36 1537.73 402.98C1551.67 416.6 1561.46 435.55 1568.97 453.38C1576.48 471.22 1582.56 491.05 1582.77 510Z" fill="#2a10ff"/><path d="M1345 545C1349.17 527.5 1374.17 495 1385 480C1395.83 465 1401.67 453.33 1410 455C1418.33 456.67 1421.67 480.83 1435 490C1448.33 499.17 1484.17 499.17 1490 510C1495.83 520.83 1476.67 543.33 1470 555C1463.33 566.67 1461.67 574.17 1450 580C1438.33 585.83 1415 589.17 1400 590C1385 590.83 1369.17 592.5 1360 585C1350.83 577.5 1340.83 562.5 1345 545Z" fill="#10006a" opacity="0.9"/><path d="M1880 975 L1918 940 L1918 975Z" fill="#2d0cff" opacity="0.6"/></g></g>
<g clip-path="url(#cE20)"><g transform="translate(195,1602) scale(0.14192)" filter="url(#bE)"><g fill="#ff2a10" opacity="0.7"><ellipse cx="348" cy="438" rx="11.7" ry="8.9" transform="rotate(69 348 438)"/><ellipse cx="370" cy="419" rx="11.1" ry="8.4" transform="rotate(137 370 419)"/><ellipse cx="346" cy="404" rx="10.1" ry="7.7" transform="rotate(64 346 404)"/><ellipse cx="361" cy="460" rx="8.9" ry="6.7" transform="rotate(92 361 460)"/><ellipse cx="359" cy="483" rx="14.2" ry="10.8" transform="rotate(179 359 483)"/><ellipse cx="367" cy="406" rx="10.7" ry="8.1" transform="rotate(161 367 406)"/><ellipse cx="367" cy="494" rx="9.9" ry="7.5" transform="rotate(80 367 494)"/><ellipse cx="342" cy="419" rx="12.8" ry="9.7" transform="rotate(151 342 419)"/><ellipse cx="356" cy="468" rx="13.6" ry="10.4" transform="rotate(105 356 468)"/><ellipse cx="363" cy="421" rx="8.8" ry="6.7" transform="rotate(76 363 421)"/></g><g fill="#ff2a10" opacity="0.5"><ellipse cx="185" cy="345" rx="11.1" ry="9.0" transform="rotate(27 185 345)"/><ellipse cx="235" cy="625" rx="12.6" ry="10.2" transform="rotate(13 235 625)"/><ellipse cx="345" cy="320" rx="12.1" ry="9.8" transform="rotate(65 345 320)"/></g><path d="M629.8 537.78C624.64 556.48 615.21 575.32 604.23 590.98C593.25 606.64 579.1 621.88 563.9 631.74C548.71 641.61 530.32 646.85 513.03 650.17C495.74 653.49 476.84 655.53 460.17 651.66C443.5 647.79 426.38 638.44 413.01 626.96C399.64 615.48 387.56 599.47 379.93 582.78C372.29 566.09 368.77 545.9 367.19 526.82C365.62 507.73 365.63 486.86 370.46 468.29C375.29 449.72 385.11 430.77 396.19 415.38C407.27 399.99 421.87 386.61 436.93 375.94C451.99 365.28 469.38 355.17 486.57 351.39C503.77 347.61 523.83 348.02 540.12 353.26C556.41 358.51 570.82 371.31 584.31 382.86C597.8 394.41 612.58 406.58 621.06 422.56C629.54 438.55 633.74 459.55 635.19 478.76C636.65 497.96 634.96 519.08 629.8 537.78Z" fill="#2d0cff"/><path d="M555.41 523.08C550.6 537.47 541.72 552.43 531.98 563.97C522.25 575.52 508.9 588.7 497.02 592.37C485.14 596.04 471.42 590.82 460.71 585.98C449.99 581.14 439.52 573.75 432.73 563.32C425.93 552.89 420.17 537.64 419.94 523.41C419.7 509.17 425.93 492.4 431.32 477.92C436.72 463.43 443.01 447.55 452.32 436.51C461.63 425.48 475.1 416.21 487.2 411.7C499.31 407.2 514.92 404.64 524.94 409.5C534.97 414.36 541.37 429.51 547.36 440.87C553.34 452.22 559.49 463.94 560.84 477.64C562.18 491.34 560.22 508.69 555.41 523.08Z" fill="#10006a" opacity="0.85"/><ellipse cx="487" cy="512" rx="30" ry="22" fill="#2d0cff" opacity="0.9"/><path d="M930 985 L975 930 L975 985Z" fill="#1a08b0" opacity="0.5"/></g></g>
<g clip-path="url(#cE21)"><g transform="translate(195,1602) scale(0.14192)" filter="url(#bE)"><ellipse cx="1580" cy="500" rx="90" ry="150" fill="#ff2a10" opacity="0.35" filter="url(#bH)"/><g fill="#ff2a10"><ellipse cx="1595" cy="365" rx="28.3" ry="22.9" transform="rotate(173 1595 365)"/><ellipse cx="1605" cy="400" rx="27.0" ry="21.9" transform="rotate(126 1605 400)"/><ellipse cx="1600" cy="450" rx="26.5" ry="21.5" transform="rotate(44 1600 450)"/><ellipse cx="1590" cy="490" rx="38.1" ry="30.9" transform="rotate(37 1590 490)"/><ellipse cx="1545" cy="600" rx="33.5" ry="27.2" transform="rotate(82 1545 600)"/><ellipse cx="1510" cy="622" rx="31.1" ry="25.3" transform="rotate(89 1510 622)"/><ellipse cx="1570" cy="590" rx="27.8" ry="22.6" transform="rotate(149 1570 590)"/><ellipse cx="1580" cy="350" rx="26.5" ry="21.5" transform="rotate(42 1580 350)"/></g><g fill="#ff2a10" opacity="0.8"><ellipse cx="1660" cy="545" rx="11.7" ry="9.5" transform="rotate(67 1660 545)"/><ellipse cx="1690" cy="548" rx="10.2" ry="8.3" transform="rotate(155 1690 548)"/><ellipse cx="1620" cy="560" rx="9.6" ry="7.7" transform="rotate(90 1620 560)"/></g><path d="M1563.31 478.8C1559.43 499.85 1553.16 521.64 1543.47 540.3C1533.78 558.96 1520.24 577.38 1505.17 590.75C1490.09 604.13 1471.09 613.74 1453 620.57C1434.91 627.41 1415.46 631.11 1396.65 631.77C1377.83 632.43 1357.67 630.98 1340.11 624.51C1322.55 618.03 1305.93 605.86 1291.28 592.92C1276.63 579.97 1261.73 564.7 1252.2 546.85C1242.66 529 1236.8 506.8 1234.08 485.83C1231.36 464.87 1232.02 442.02 1235.86 421.06C1239.69 400.09 1247.26 378.69 1257.1 360.05C1266.93 341.42 1279.87 322.71 1294.86 309.27C1309.84 295.83 1328.9 286.78 1347 279.41C1365.09 272.04 1384.68 265.45 1403.41 265.05C1422.14 264.64 1441.37 270.59 1459.38 276.98C1477.4 283.38 1497.49 290.26 1511.49 303.44C1525.5 316.61 1534.2 337.6 1543.42 356.03C1552.63 374.45 1563.45 393.52 1566.77 413.98C1570.08 434.45 1567.19 457.74 1563.31 478.8Z" fill="#2d0cff"/><ellipse cx="1505" cy="283" rx="60" ry="14" fill="#f040e0" transform="rotate(12 1505 283)"/><ellipse cx="1570" cy="400" rx="10" ry="50" fill="#f040e0" transform="rotate(-5 1570 400)" opacity="0.85"/><ellipse cx="1420" cy="340" rx="30" ry="12" fill="#10006a" transform="rotate(20 1420 340)" opacity="0.8"/><ellipse cx="1355" cy="520" rx="14" ry="40" fill="#10006a" opacity="0.8"/><ellipse cx="1390" cy="570" rx="30" ry="12" fill="#10006a" transform="rotate(20 1390 570)" opacity="0.8"/><ellipse cx="1490" cy="370" rx="18" ry="8" fill="#10006a" transform="rotate(30 1490 370)" opacity="0.8"/></g></g>
<g clip-path="url(#cE22)"><g transform="translate(460,1602) scale(0.14192)" filter="url(#bE)"><g fill="#ff2a10" opacity="0.9"><ellipse cx="550" cy="340" rx="12.2" ry="9.9" transform="rotate(77 550 340)"/><ellipse cx="600" cy="350" rx="12.3" ry="10.0" transform="rotate(37 600 350)"/><ellipse cx="645" cy="400" rx="13.4" ry="10.9" transform="rotate(148 645 400)"/><ellipse cx="465" cy="640" rx="12.6" ry="10.2" transform="rotate(28 465 640)"/><ellipse cx="540" cy="655" rx="12.0" ry="9.7" transform="rotate(58 540 655)"/><ellipse cx="500" cy="650" rx="10.7" ry="8.7" transform="rotate(171 500 650)"/><ellipse cx="690" cy="470" rx="14.3" ry="11.6" transform="rotate(8 690 470)"/></g><g fill="#ff2a10" opacity="0.45"><ellipse cx="360" cy="405" rx="9.1" ry="7.4" transform="rotate(100 360 405)"/><ellipse cx="310" cy="435" rx="10.8" ry="8.8" transform="rotate(83 310 435)"/><ellipse cx="320" cy="500" rx="9.3" ry="7.5" transform="rotate(105 320 500)"/><ellipse cx="560" cy="740" rx="8.1" ry="6.6" transform="rotate(92 560 740)"/></g><path d="M688.6 495C688.67 513.99 686.67 534.49 679.96 552.06C673.24 569.63 661.4 586.82 648.29 600.42C635.17 614.02 618.48 626.86 601.26 633.64C584.05 640.43 563.53 641.7 545 641.14C526.47 640.58 506.96 637.42 490.11 630.26C473.26 623.1 456.85 611.38 443.92 598.17C430.98 584.97 420.06 568.21 412.51 551.01C404.96 533.82 398.56 513.64 398.64 495C398.73 476.36 405.74 456.66 413.02 439.2C420.3 421.74 429.49 403.45 442.34 390.22C455.2 376.99 473.04 366.83 490.15 359.83C507.26 352.83 526.63 348.41 545 348.22C563.37 348.02 583.02 351.85 600.34 358.64C617.66 365.43 635.71 375.69 648.92 388.93C662.12 402.18 672.93 420.44 679.54 438.12C686.16 455.79 688.53 476.01 688.6 495Z" fill="#2d0cff"/><ellipse cx="530" cy="430" rx="20" ry="26" fill="#10006a" transform="rotate(20 530 430)" opacity="0.85"/></g></g>
<g clip-path="url(#cE23)"><g transform="translate(460,1602) scale(0.14192)" filter="url(#bE)"><g fill="#ff2a10"><ellipse cx="1647" cy="537" rx="11.7" ry="8.9" transform="rotate(29 1647 537)"/><ellipse cx="1659" cy="519" rx="12.0" ry="9.1" transform="rotate(83 1659 519)"/><ellipse cx="1645" cy="514" rx="11.3" ry="8.6" transform="rotate(66 1645 514)"/><ellipse cx="1618" cy="532" rx="9.4" ry="7.2" transform="rotate(135 1618 532)"/><ellipse cx="1640" cy="519" rx="13.2" ry="10.0" transform="rotate(80 1640 519)"/><ellipse cx="1628" cy="524" rx="11.1" ry="8.4" transform="rotate(172 1628 524)"/><ellipse cx="1629" cy="554" rx="12.2" ry="9.3" transform="rotate(156 1629 554)"/><ellipse cx="1634" cy="508" rx="10.0" ry="7.6" transform="rotate(69 1634 508)"/><ellipse cx="1625" cy="553" rx="12.4" ry="9.4" transform="rotate(38 1625 553)"/></g><g fill="#ff2a10" opacity="0.8"><ellipse cx="1450" cy="632" rx="9.9" ry="7.5" transform="rotate(105 1450 632)"/><ellipse cx="1493" cy="604" rx="10.4" ry="7.9" transform="rotate(145 1493 604)"/><ellipse cx="1452" cy="618" rx="11.2" ry="8.5" transform="rotate(179 1452 618)"/><ellipse cx="1447" cy="617" rx="7.5" ry="5.7" transform="rotate(155 1447 617)"/><ellipse cx="1457" cy="611" rx="8.0" ry="6.1" transform="rotate(104 1457 611)"/><ellipse cx="1465" cy="619" rx="9.2" ry="7.0" transform="rotate(133 1465 619)"/><ellipse cx="1487" cy="606" rx="10.4" ry="7.9" transform="rotate(171 1487 606)"/><ellipse cx="1482" cy="619" rx="8.9" ry="6.8" transform="rotate(6 1482 619)"/><ellipse cx="1511" cy="615" rx="8.3" ry="6.3" transform="rotate(32 1511 615)"/><ellipse cx="1484" cy="641" rx="9.5" ry="7.2" transform="rotate(1 1484 641)"/><ellipse cx="1466" cy="615" rx="8.6" ry="6.5" transform="rotate(179 1466 615)"/><ellipse cx="1514" cy="613" rx="11.5" ry="8.7" transform="rotate(102 1514 613)"/></g><ellipse cx="1575" cy="625" rx="22" ry="11" fill="#ff2a10" transform="rotate(-35 1575 625)"/><ellipse cx="1410" cy="332" rx="16" ry="8" fill="#ff2a10" opacity="0.8"/><path d="M1514.74 490C1515.18 508.91 1515.09 529.72 1509.05 547.33C1503 564.93 1490.94 581.77 1478.47 595.61C1466 609.44 1450.62 623.62 1434.21 630.35C1417.79 637.07 1397.71 636.9 1380 635.97C1362.29 635.03 1344.46 631.37 1327.96 624.73C1311.47 618.09 1293.83 609.05 1281.05 596.12C1268.27 583.2 1257.53 564.86 1251.29 547.18C1245.06 529.49 1243.66 509.07 1243.63 490C1243.6 470.93 1244.53 450.07 1251.1 432.74C1257.66 415.4 1270.49 399.62 1283.02 386C1295.56 372.37 1310.15 357.76 1326.31 350.99C1342.47 344.22 1362.4 344.63 1380 345.39C1397.6 346.15 1415.28 349.3 1431.93 355.54C1448.59 361.78 1467.52 369.78 1479.93 382.83C1492.34 395.88 1500.61 415.98 1506.41 433.85C1512.21 451.71 1514.31 471.09 1514.74 490Z" fill="#2d0cff"/><ellipse cx="1345" cy="472" rx="40" ry="28" fill="#10006a" transform="rotate(-25 1345 472)" opacity="0.9"/><ellipse cx="1375" cy="575" rx="32" ry="26" fill="#10006a" opacity="0.9"/><ellipse cx="1470" cy="525" rx="17" ry="28" fill="#10006a" transform="rotate(10 1470 525)" opacity="0.9"/></g></g>
<text x="267.7" y="1339.4" font-size="29.6" text-anchor="middle">Control</text>
<text x="401.8" y="1339.4" font-size="29.6" text-anchor="middle">3-MA</text>
<text x="534.7" y="1339.4" font-size="29.6" text-anchor="middle">HCQ</text>
<text x="666.4" y="1339.4" font-size="29.6" text-anchor="middle">Baf-A1</text>
<text x="197" y="1404.9" font-size="34.1" text-anchor="end">shRNA-</text>
<text x="197" y="1444.6" font-size="34.1" text-anchor="end">Luciferace</text>
<text x="197" y="1537" font-size="34.1" text-anchor="end">shRNA-</text>
<text x="197" y="1577" font-size="34.1" text-anchor="end">PIM1#1</text>
<text x="197" y="1668.8" font-size="34.1" text-anchor="end">shRNA-</text>
<text x="197" y="1709.2" font-size="34.1" text-anchor="end">PIM1#2</text>
<rect x="638.4" y="1729.7" width="88.4" height="5.3" fill="#fff"/>
</g>
<g id="pEc">
<path d="M873.9 1691V1511.73H897.33V1691" fill="#fff" stroke="#000" stroke-width="3" stroke-linejoin="miter"/>
<path d="M907.15 1691V1584.2H930.59V1691" fill="#fff" stroke="#000" stroke-width="3" stroke-linejoin="miter"/>
<path d="M940.41 1691V1611.83H963.84V1691" fill="#fff" stroke="#000" stroke-width="3" stroke-linejoin="miter"/>
<path d="M999.24 1691V1511.73H1023.02V1691" fill="#fff" stroke="#000" stroke-width="3" stroke-linejoin="miter"/>
<path d="M1032.5 1691V1483.08H1055.93V1691" fill="#fff" stroke="#000" stroke-width="3" stroke-linejoin="miter"/>
<path d="M1065.75 1691V1487.34H1088.84V1691" fill="#fff" stroke="#000" stroke-width="3" stroke-linejoin="miter"/>
<path d="M1124.75 1691V1511.73H1148.19V1691" fill="#fff" stroke="#000" stroke-width="3" stroke-linejoin="miter"/>
<path d="M1158.01 1691V1609.78H1181.44V1691" fill="#fff" stroke="#000" stroke-width="3" stroke-linejoin="miter"/>
<path d="M1190.75 1691V1617.45H1214.35V1691" fill="#fff" stroke="#000" stroke-width="3" stroke-linejoin="miter"/>
<path d="M1250.09 1691V1511.73H1273.53V1691" fill="#fff" stroke="#000" stroke-width="3" stroke-linejoin="miter"/>
<path d="M1283.35 1691V1628.88H1306.78V1691" fill="#fff" stroke="#000" stroke-width="3" stroke-linejoin="miter"/>
<path d="M1316.6 1691V1617.45H1340.03V1691" fill="#fff" stroke="#000" stroke-width="3" stroke-linejoin="miter"/>
<g fill="#0a05fb"><circle cx="888.09" cy="1468.44" r="6.3"/><circle cx="892.86" cy="1477.82" r="6.3"/><circle cx="883.14" cy="1483.79" r="6.3"/><circle cx="887.75" cy="1498.29" r="6.3"/><circle cx="882.63" cy="1504.26" r="6.3"/><circle cx="883.49" cy="1525.57" r="6.3"/><circle cx="892.86" cy="1526.43" r="6.3"/><circle cx="878.37" cy="1534.1" r="6.3"/><circle cx="888.09" cy="1541.77" r="6.3"/><circle cx="883.14" cy="1550.3" r="6.3"/><circle cx="889.45" cy="1490.61" r="6.3"/><circle cx="888.09" cy="1516.19" r="6.3"/></g>
<g fill="#fb2a15"><circle cx="918.44" cy="1529.84" r="6.3"/><circle cx="921" cy="1553.71" r="6.3"/><circle cx="916.23" cy="1562.24" r="6.3"/><circle cx="911.28" cy="1568.21" r="6.3"/><circle cx="926.12" cy="1573.32" r="6.3"/><circle cx="911.28" cy="1584.41" r="6.3"/><circle cx="926.12" cy="1592.08" r="6.3"/><circle cx="921" cy="1594.64" r="6.3"/><circle cx="911.28" cy="1597.2" r="6.3"/><circle cx="916.23" cy="1598.9" r="6.3"/><circle cx="921" cy="1615.1" r="6.3"/><circle cx="916.23" cy="1622.26" r="6.3"/></g>
<g fill="#47e21c"><circle cx="954.26" cy="1558.83" r="6.3"/><circle cx="949.14" cy="1560.53" r="6.3"/><circle cx="951.7" cy="1578.44" r="6.3"/><circle cx="954.26" cy="1600.61" r="6.3"/><circle cx="944.37" cy="1613.4" r="6.3"/><circle cx="959.37" cy="1616.81" r="6.3"/><circle cx="951.7" cy="1613.4" r="6.3"/><circle cx="949.14" cy="1622.78" r="6.3"/><circle cx="951.7" cy="1636.42" r="6.3"/><circle cx="951.7" cy="1650.91" r="6.3"/><circle cx="951.7" cy="1663.7" r="6.3"/><circle cx="951.7" cy="1607.43" r="6.3"/></g>
<g fill="#0a05fb"><circle cx="1011.04" cy="1453.95" r="6.3"/><circle cx="1004.05" cy="1468.44" r="6.3"/><circle cx="1018.21" cy="1477.48" r="6.3"/><circle cx="1004.05" cy="1484.65" r="6.3"/><circle cx="1018.21" cy="1493.17" r="6.3"/><circle cx="1004.05" cy="1500.85" r="6.3"/><circle cx="1018.21" cy="1518.75" r="6.3"/><circle cx="1004.05" cy="1523.87" r="6.3"/><circle cx="1018.21" cy="1533.25" r="6.3"/><circle cx="1004.05" cy="1536.66" r="6.3"/><circle cx="1011.04" cy="1549.79" r="6.3"/><circle cx="1011.04" cy="1576.73" r="6.3"/></g>
<g fill="#fb2a15"><circle cx="1041.74" cy="1448.83" r="6.3"/><circle cx="1036.96" cy="1459.07" r="6.3"/><circle cx="1046.68" cy="1465.03" r="6.3"/><circle cx="1051.46" cy="1472.71" r="6.3"/><circle cx="1036.96" cy="1475.27" r="6.3"/><circle cx="1041.74" cy="1468.44" r="6.3"/><circle cx="1051.46" cy="1484.65" r="6.3"/><circle cx="1036.96" cy="1488.06" r="6.3"/><circle cx="1046.68" cy="1497.44" r="6.3"/><circle cx="1041.74" cy="1501.7" r="6.3"/><circle cx="1046.68" cy="1507.67" r="6.3"/><circle cx="1041.74" cy="1513.64" r="6.3"/></g>
<g fill="#47e21c"><circle cx="1070.22" cy="1428.88" r="6.3"/><circle cx="1077.38" cy="1436.04" r="6.3"/><circle cx="1077.38" cy="1455.65" r="6.3"/><circle cx="1070.22" cy="1459.92" r="6.3"/><circle cx="1084.71" cy="1466.74" r="6.3"/><circle cx="1077.38" cy="1478.68" r="6.3"/><circle cx="1084.71" cy="1493.17" r="6.3"/><circle cx="1077.38" cy="1500.85" r="6.3"/><circle cx="1070.22" cy="1511.93" r="6.3"/><circle cx="1084.71" cy="1515.34" r="6.3"/><circle cx="1077.38" cy="1529.84" r="6.3"/><circle cx="1077.38" cy="1553.2" r="6.3"/></g>
<g fill="#0a05fb"><circle cx="1136.38" cy="1470.15" r="6.3"/><circle cx="1144.23" cy="1488.4" r="6.3"/><circle cx="1138.26" cy="1490.61" r="6.3"/><circle cx="1128.88" cy="1493.17" r="6.3"/><circle cx="1138.26" cy="1506.81" r="6.3"/><circle cx="1133.83" cy="1522.16" r="6.3"/><circle cx="1139.45" cy="1527.28" r="6.3"/><circle cx="1135.7" cy="1534.95" r="6.3"/><circle cx="1131.78" cy="1546.04" r="6.3"/><circle cx="1141.16" cy="1544.84" r="6.3"/><circle cx="1138.26" cy="1499.14" r="6.3"/><circle cx="1135.7" cy="1515.34" r="6.3"/></g>
<g fill="#fb2a15"><circle cx="1169.64" cy="1560.53" r="6.3"/><circle cx="1176.97" cy="1577.07" r="6.3"/><circle cx="1169.64" cy="1583.55" r="6.3"/><circle cx="1176.97" cy="1594.64" r="6.3"/><circle cx="1169.64" cy="1598.05" r="6.3"/><circle cx="1162.48" cy="1604.02" r="6.3"/><circle cx="1176.97" cy="1611.69" r="6.3"/><circle cx="1169.64" cy="1615.1" r="6.3"/><circle cx="1162.48" cy="1621.92" r="6.3"/><circle cx="1176.97" cy="1627.55" r="6.3"/><circle cx="1173.05" cy="1645.29" r="6.3"/><circle cx="1166.23" cy="1656.37" r="6.3"/></g>
<g fill="#47e21c"><circle cx="1202.55" cy="1555.08" r="6.3"/><circle cx="1209.37" cy="1578.78" r="6.3"/><circle cx="1202.55" cy="1585.77" r="6.3"/><circle cx="1195.73" cy="1598.39" r="6.3"/><circle cx="1202.55" cy="1605.72" r="6.3"/><circle cx="1195.73" cy="1615.1" r="6.3"/><circle cx="1209.37" cy="1621.07" r="6.3"/><circle cx="1202.55" cy="1626.19" r="6.3"/><circle cx="1195.73" cy="1634.71" r="6.3"/><circle cx="1209.37" cy="1641.53" r="6.3"/><circle cx="1205.62" cy="1658.25" r="6.3"/><circle cx="1199.14" cy="1669.16" r="6.3"/></g>
<g fill="#0a05fb"><circle cx="1261.73" cy="1451.9" r="6.3"/><circle cx="1254.9" cy="1464.52" r="6.3"/><circle cx="1261.73" cy="1472.2" r="6.3"/><circle cx="1254.9" cy="1477.82" r="6.3"/><circle cx="1269.06" cy="1488.4" r="6.3"/><circle cx="1261.73" cy="1493.17" r="6.3"/><circle cx="1261.73" cy="1517.05" r="6.3"/><circle cx="1261.73" cy="1531.54" r="6.3"/><circle cx="1269.06" cy="1546.04" r="6.3"/><circle cx="1261.73" cy="1553.2" r="6.3"/><circle cx="1254.9" cy="1562.24" r="6.3"/><circle cx="1269.06" cy="1560.53" r="6.3"/></g>
<g fill="#fb2a15"><circle cx="1295.15" cy="1567.86" r="6.3"/><circle cx="1302.31" cy="1591.23" r="6.3"/><circle cx="1288.16" cy="1598.39" r="6.3"/><circle cx="1288.16" cy="1611.18" r="6.3"/><circle cx="1302.31" cy="1618.51" r="6.3"/><circle cx="1288.16" cy="1625.68" r="6.3"/><circle cx="1302.31" cy="1633.01" r="6.3"/><circle cx="1288.16" cy="1638.12" r="6.3"/><circle cx="1302.31" cy="1647.5" r="6.3"/><circle cx="1288.16" cy="1654.67" r="6.3"/><circle cx="1302.31" cy="1669.16" r="6.3"/><circle cx="1288.16" cy="1676.49" r="6.3"/></g>
<g fill="#47e21c"><circle cx="1327.89" cy="1560.53" r="6.3"/><circle cx="1324.48" cy="1580.14" r="6.3"/><circle cx="1331.3" cy="1589.52" r="6.3"/><circle cx="1327.89" cy="1602.31" r="6.3"/><circle cx="1321.07" cy="1609.99" r="6.3"/><circle cx="1335.57" cy="1618.51" r="6.3"/><circle cx="1321.07" cy="1623.63" r="6.3"/><circle cx="1335.57" cy="1631.3" r="6.3"/><circle cx="1327.89" cy="1639.83" r="6.3"/><circle cx="1331.3" cy="1656.03" r="6.3"/><circle cx="1324.48" cy="1663.7" r="6.3"/><circle cx="1327.89" cy="1611.69" r="6.3"/></g>
<path d="M879.37 1502.44H891.87M885.62 1502.44V1511.73" fill="none" stroke="#000" stroke-width="3"/>
<path d="M912.62 1575.43H925.12M918.87 1575.43V1584.2" fill="none" stroke="#000" stroke-width="3"/>
<path d="M945.87 1601.01H958.37M952.12 1601.01V1611.83" fill="none" stroke="#000" stroke-width="3"/>
<path d="M1004.88 1499.88H1017.38M1011.13 1499.88V1511.73" fill="none" stroke="#000" stroke-width="3"/>
<path d="M1037.96 1475.67H1050.46M1044.21 1475.67V1483.08" fill="none" stroke="#000" stroke-width="3"/>
<path d="M1071.05 1474.81H1083.55M1077.3 1474.81V1487.34" fill="none" stroke="#000" stroke-width="3"/>
<path d="M1130.22 1503.29H1142.72M1136.47 1503.29V1511.73" fill="none" stroke="#000" stroke-width="3"/>
<path d="M1163.47 1600.5H1175.97M1169.72 1600.5V1609.78" fill="none" stroke="#000" stroke-width="3"/>
<path d="M1196.3 1606.63H1208.8M1202.55 1606.63V1617.45" fill="none" stroke="#000" stroke-width="3"/>
<path d="M1255.56 1498.69H1268.06M1261.81 1498.69V1511.73" fill="none" stroke="#000" stroke-width="3"/>
<path d="M1288.81 1618.91H1301.31M1295.06 1618.91V1628.88" fill="none" stroke="#000" stroke-width="3"/>
<path d="M1322.07 1607.83H1334.57M1328.32 1607.83V1617.45" fill="none" stroke="#000" stroke-width="3"/>
<line x1="865.6" y1="1327.5" x2="865.6" y2="1692.5" stroke="#000" stroke-width="3"/>
<line x1="853.1" y1="1691" x2="1349.2" y2="1691" stroke="#000" stroke-width="3"/>
<text x="848.8" y="1701.9" font-size="29.4" text-anchor="end">0.0</text>
<line x1="853.1" y1="1600.5" x2="865.6" y2="1600.5" stroke="#000" stroke-width="3"/>
<text x="848.8" y="1611.4" font-size="29.4" text-anchor="end">0.5</text>
<line x1="853.1" y1="1510" x2="865.6" y2="1510" stroke="#000" stroke-width="3"/>
<text x="848.8" y="1520.9" font-size="29.4" text-anchor="end">1.0</text>
<line x1="853.1" y1="1419.5" x2="865.6" y2="1419.5" stroke="#000" stroke-width="3"/>
<text x="848.8" y="1430.4" font-size="29.4" text-anchor="end">1.5</text>
<line x1="853.1" y1="1329" x2="865.6" y2="1329" stroke="#000" stroke-width="3"/>
<text x="848.8" y="1339.9" font-size="29.4" text-anchor="end">2.0</text>
<line x1="918.1" y1="1691" x2="918.1" y2="1703.5" stroke="#000" stroke-width="3"/>
<text x="918.1" y="1731.8" font-size="29.4" text-anchor="middle">Control</text>
<line x1="1043.5" y1="1691" x2="1043.5" y2="1703.5" stroke="#000" stroke-width="3"/>
<text x="1043.5" y="1731.8" font-size="29.4" text-anchor="middle">3-MA</text>
<line x1="1169" y1="1691" x2="1169" y2="1703.5" stroke="#000" stroke-width="3"/>
<text x="1169" y="1731.8" font-size="29.4" text-anchor="middle">HCQ</text>
<line x1="1294.1" y1="1691" x2="1294.1" y2="1703.5" stroke="#000" stroke-width="3"/>
<text x="1294.1" y="1731.8" font-size="29.4" text-anchor="middle">Baf-A1</text>
<text transform="translate(794,1510) rotate(-90)" font-size="34.2" text-anchor="middle">Relative mitochondria mass</text>
<circle cx="898.9" cy="1309.7" r="6.3" fill="#0a05fb"/>
<text x="933.2" y="1319.1" font-size="29.8">shRNA-Luciferase</text>
<circle cx="898.9" cy="1341.3" r="6.3" fill="#fb2a15"/>
<text x="933.2" y="1350.7" font-size="29.8">shRNA-PIM1#1</text>
<circle cx="898.9" cy="1372.9" r="6.3" fill="#47e21c"/>
<text x="933.2" y="1382.3" font-size="29.8">shRNA-PIM1#2</text>
<line x1="890" y1="1423.6" x2="967" y2="1423.6" stroke="#000" stroke-width="4.6"/>
<text x="925.3" y="1426.2" font-size="28.3" text-anchor="middle">***</text>
<line x1="890" y1="1448" x2="926.6" y2="1448" stroke="#000" stroke-width="4.6"/>
<text x="909" y="1450.6" font-size="28.3" text-anchor="middle">***</text>
<line x1="1138.6" y1="1425.8" x2="1215.3" y2="1425.8" stroke="#000" stroke-width="4.6"/>
<text x="1173.7" y="1428.4" font-size="28.3" text-anchor="middle">***</text>
<line x1="1138.6" y1="1449.7" x2="1174.9" y2="1449.7" stroke="#000" stroke-width="4.6"/>
<text x="1157.5" y="1452.3" font-size="28.3" text-anchor="middle">***</text>
<line x1="1257.5" y1="1412.5" x2="1334.4" y2="1412.5" stroke="#000" stroke-width="4.6"/>
<text x="1292.9" y="1415.1" font-size="28.3" text-anchor="middle">***</text>
<line x1="1257.5" y1="1436.4" x2="1294.6" y2="1436.4" stroke="#000" stroke-width="4.6"/>
<text x="1277" y="1439" font-size="28.3" text-anchor="middle">***</text>
</g>
<g id="pF">
<text class="t" transform="translate(1396.6,1280.0) scale(0.96,1)" font-size="48" font-weight="bold">F</text>
<path d="M1524.48 1693.6V1426.2H1549.25V1693.6" fill="#fff" stroke="#000" stroke-width="3" stroke-linejoin="miter"/>
<path d="M1559.19 1693.6V1418.59H1583.72V1693.6" fill="#fff" stroke="#000" stroke-width="3" stroke-linejoin="miter"/>
<path d="M1593.89 1693.6V1436.5H1618.65V1693.6" fill="#fff" stroke="#000" stroke-width="3" stroke-linejoin="miter"/>
<path d="M1628.81 1693.6V1439.63H1653.8V1693.6" fill="#fff" stroke="#000" stroke-width="3" stroke-linejoin="miter"/>
<path d="M1691.23 1693.6V1643.67H1716.61V1693.6" fill="#fff" stroke="#000" stroke-width="3" stroke-linejoin="miter"/>
<path d="M1726.59 1693.6V1649.03H1751.48V1693.6" fill="#fff" stroke="#000" stroke-width="3" stroke-linejoin="miter"/>
<path d="M1761.29 1693.6V1644.97H1786.35V1693.6" fill="#fff" stroke="#000" stroke-width="3" stroke-linejoin="miter"/>
<path d="M1796.16 1693.6V1652.27H1821.22V1693.6" fill="#fff" stroke="#000" stroke-width="3" stroke-linejoin="miter"/>
<path d="M1858.76 1693.6V1629.89H1884.14V1693.6" fill="#fff" stroke="#000" stroke-width="3" stroke-linejoin="miter"/>
<path d="M1894.28 1693.6V1638.81H1919.34V1693.6" fill="#fff" stroke="#000" stroke-width="3" stroke-linejoin="miter"/>
<path d="M1929.15 1693.6V1641.24H1954.21V1693.6" fill="#fff" stroke="#000" stroke-width="3" stroke-linejoin="miter"/>
<path d="M1964.02 1693.6V1639.62H1989.07V1693.6" fill="#fff" stroke="#000" stroke-width="3" stroke-linejoin="miter"/>
<g fill="#0a05fb"><circle cx="1528.81" cy="1404.55" r="6.3"/><circle cx="1544.25" cy="1414.18" r="6.3"/><circle cx="1536.42" cy="1454.48" r="6.3"/></g>
<g fill="#fb2a15"><circle cx="1563.28" cy="1391.34" r="6.3"/><circle cx="1578.73" cy="1400.07" r="6.3"/><circle cx="1570.89" cy="1458.95" r="6.3"/></g>
<g fill="#47e21c"><circle cx="1606.04" cy="1409.25" r="6.3"/><circle cx="1606.04" cy="1427.16" r="6.3"/><circle cx="1606.04" cy="1467.91" r="6.3"/></g>
<g fill="#c02ff5"><circle cx="1641.19" cy="1422.69" r="6.3"/><circle cx="1649.03" cy="1441.04" r="6.3"/><circle cx="1633.36" cy="1449.55" r="6.3"/></g>
<g fill="#0a05fb"><circle cx="1696.22" cy="1630.82" r="6.3"/><circle cx="1711.79" cy="1639.74" r="6.3"/><circle cx="1703.84" cy="1654.34" r="6.3"/></g>
<g fill="#fb2a15"><circle cx="1738.87" cy="1632.77" r="6.3"/><circle cx="1738.87" cy="1646.23" r="6.3"/><circle cx="1738.87" cy="1662.93" r="6.3"/></g>
<g fill="#47e21c"><circle cx="1773.58" cy="1637.31" r="6.3"/><circle cx="1765.63" cy="1646.23" r="6.3"/><circle cx="1781.36" cy="1646.23" r="6.3"/></g>
<g fill="#c02ff5"><circle cx="1808.45" cy="1636.17" r="6.3"/><circle cx="1816.39" cy="1651.42" r="6.3"/><circle cx="1800.82" cy="1663.26" r="6.3"/></g>
<g fill="#0a05fb"><circle cx="1863.59" cy="1618.66" r="6.3"/><circle cx="1879.16" cy="1627.25" r="6.3"/><circle cx="1863.59" cy="1637.63" r="6.3"/></g>
<g fill="#fb2a15"><circle cx="1906.24" cy="1631.31" r="6.3"/><circle cx="1914.03" cy="1637.63" r="6.3"/><circle cx="1898.62" cy="1642.5" r="6.3"/></g>
<g fill="#47e21c"><circle cx="1941.11" cy="1633.74" r="6.3"/><circle cx="1948.89" cy="1640.55" r="6.3"/><circle cx="1933.49" cy="1644.61" r="6.3"/></g>
<g fill="#c02ff5"><circle cx="1968.19" cy="1627.09" r="6.3"/><circle cx="1984.09" cy="1636.17" r="6.3"/><circle cx="1976.14" cy="1649.47" r="6.3"/></g>
<path d="M1530.12 1409.43H1543.62M1536.87 1409.43V1426.2" fill="none" stroke="#000" stroke-width="3"/>
<path d="M1564.7 1396H1578.2M1571.45 1396V1418.59" fill="none" stroke="#000" stroke-width="3"/>
<path d="M1599.52 1417.94H1613.02M1606.27 1417.94V1436.5" fill="none" stroke="#000" stroke-width="3"/>
<path d="M1634.55 1430.25H1648.05M1641.3 1430.25V1439.63" fill="none" stroke="#000" stroke-width="3"/>
<path d="M1697.17 1634.95H1710.67M1703.92 1634.95V1643.67" fill="none" stroke="#000" stroke-width="3"/>
<path d="M1732.28 1639.01H1745.78M1739.03 1639.01V1649.03" fill="none" stroke="#000" stroke-width="3"/>
<path d="M1767.07 1640.63H1780.57M1773.82 1640.63V1644.97" fill="none" stroke="#000" stroke-width="3"/>
<path d="M1801.94 1642.9H1815.44M1808.69 1642.9V1652.27" fill="none" stroke="#000" stroke-width="3"/>
<path d="M1864.7 1622.79H1878.2M1871.45 1622.79V1629.89" fill="none" stroke="#000" stroke-width="3"/>
<path d="M1900.06 1634.46H1913.56M1906.81 1634.46V1638.81" fill="none" stroke="#000" stroke-width="3"/>
<path d="M1934.93 1637.22H1948.43M1941.68 1637.22V1641.24" fill="none" stroke="#000" stroke-width="3"/>
<path d="M1969.8 1631.54H1983.3M1976.55 1631.54V1639.62" fill="none" stroke="#000" stroke-width="3"/>
<line x1="1515.8" y1="1330.5" x2="1515.8" y2="1695.1" stroke="#000" stroke-width="3"/>
<line x1="1503.3" y1="1693.6" x2="1998.2" y2="1693.6" stroke="#000" stroke-width="3"/>
<text x="1498.8" y="1703.3" font-size="29.4" text-anchor="end">0</text>
<line x1="1503.3" y1="1603.2" x2="1515.8" y2="1603.2" stroke="#000" stroke-width="3"/>
<text x="1498.8" y="1612.9" font-size="29.4" text-anchor="end">20</text>
<line x1="1503.3" y1="1512.8" x2="1515.8" y2="1512.8" stroke="#000" stroke-width="3"/>
<text x="1498.8" y="1522.5" font-size="29.4" text-anchor="end">40</text>
<line x1="1503.3" y1="1422.4" x2="1515.8" y2="1422.4" stroke="#000" stroke-width="3"/>
<text x="1498.8" y="1432.1" font-size="29.4" text-anchor="end">60</text>
<line x1="1503.3" y1="1332" x2="1515.8" y2="1332" stroke="#000" stroke-width="3"/>
<text x="1498.8" y="1341.7" font-size="29.4" text-anchor="end">80</text>
<line x1="1588.4" y1="1693.6" x2="1588.4" y2="1706.1" stroke="#000" stroke-width="3"/>
<text transform="translate(1597.9,1732.5) rotate(-45)" font-size="29.4" text-anchor="end">shRNA-Luciferase</text>
<line x1="1755.6" y1="1693.6" x2="1755.6" y2="1706.1" stroke="#000" stroke-width="3"/>
<text transform="translate(1765.1,1732.5) rotate(-45)" font-size="29.4" text-anchor="end">shRNA-PIM1#1</text>
<line x1="1923.8" y1="1693.6" x2="1923.8" y2="1706.1" stroke="#000" stroke-width="3"/>
<text transform="translate(1933.3,1732.5) rotate(-45)" font-size="29.4" text-anchor="end">shRNA-PIM1#2</text>
<text transform="translate(1451.5,1508) rotate(-90)" font-size="33.7" text-anchor="middle">% of enucleated cells</text>
<circle cx="1815.3" cy="1353.5" r="6.3" fill="#0a05fb"/>
<text x="1850" y="1362.5" font-size="29.8">Control</text>
<circle cx="1815.3" cy="1398.9" r="6.3" fill="#fb2a15"/>
<text x="1850" y="1407.9" font-size="29.8">3-MA</text>
<circle cx="1815.3" cy="1444.4" r="6.3" fill="#47e21c"/>
<text x="1850" y="1453.4" font-size="29.8">HCQ</text>
<circle cx="1815.3" cy="1489.8" r="6.3" fill="#c02ff5"/>
<text x="1850" y="1498.8" font-size="29.8">Baf-A1</text>
</g>
</svg>
</body></html>
